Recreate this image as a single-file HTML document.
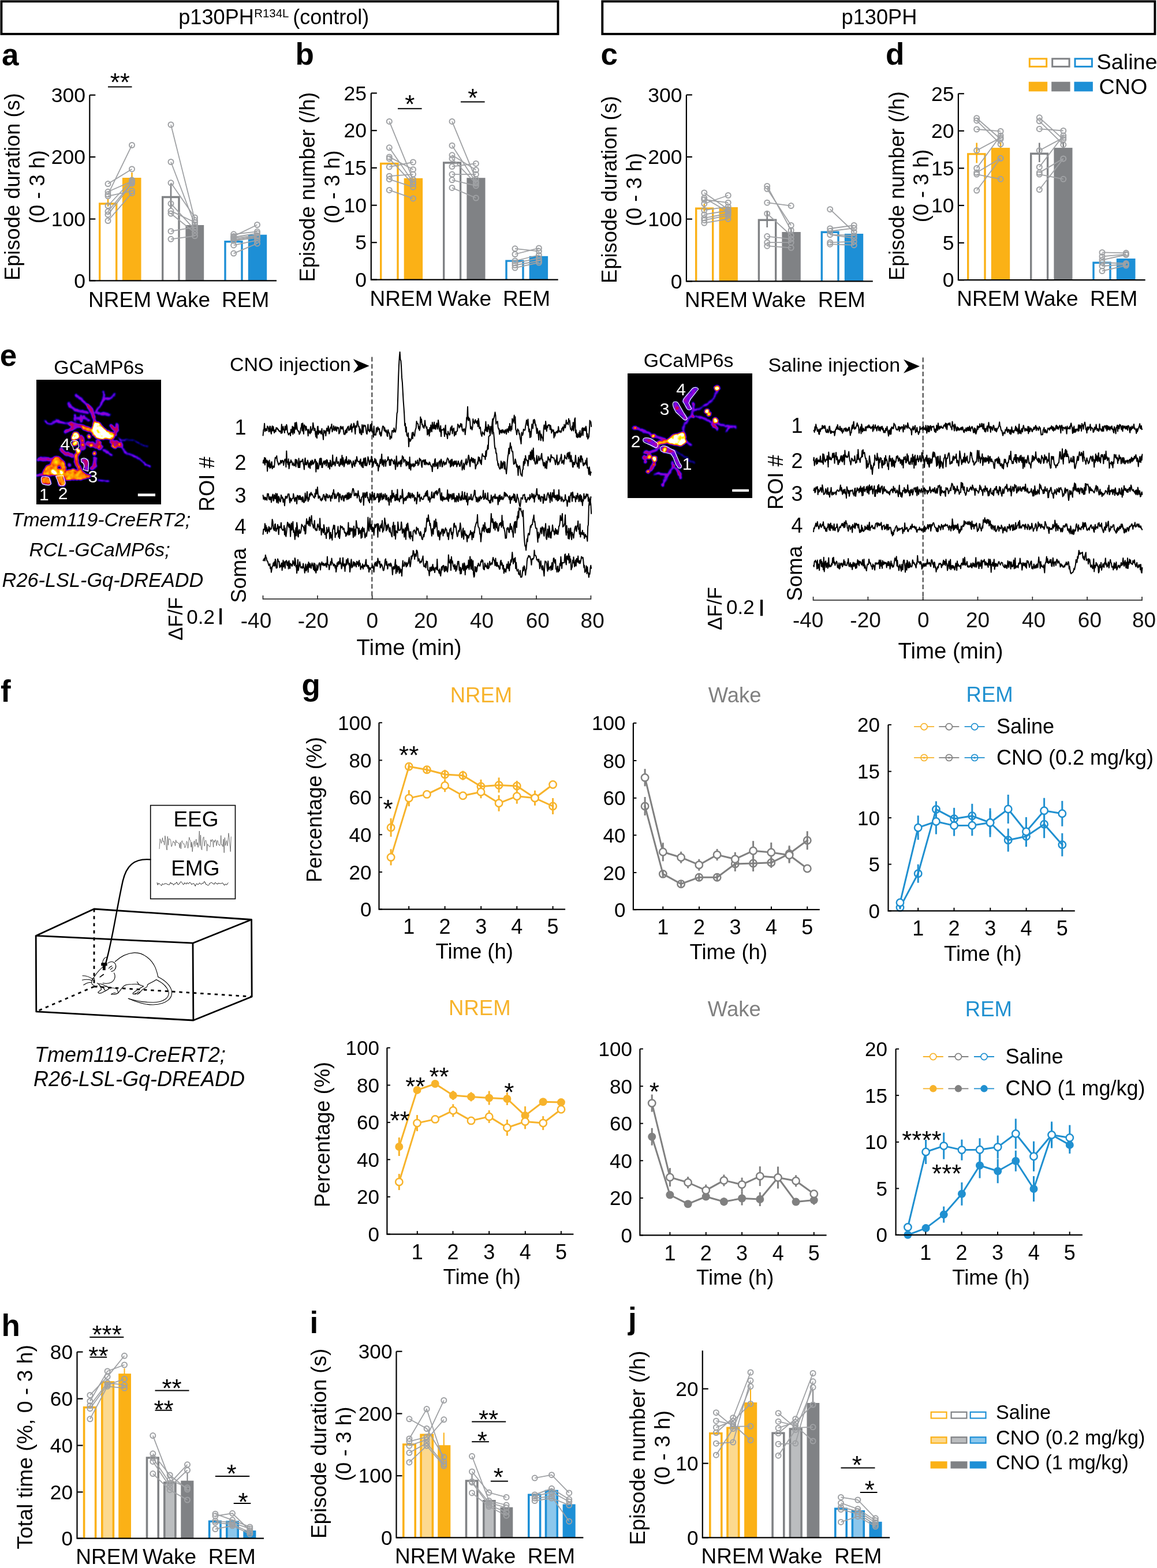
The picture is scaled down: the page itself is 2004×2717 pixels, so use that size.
<!DOCTYPE html>
<html><head><meta charset="utf-8"><title>Figure</title>
<style>html,body{margin:0;padding:0;background:#fff}svg{display:block}</style>
</head><body>
<svg width="2004" height="2717" viewBox="0 0 2004 2717" font-family="'Liberation Sans', Arial, Helvetica, sans-serif" font-size="35" fill="#000">
<rect width="2004" height="2717" fill="#fff"/>
<rect x="2.4" y="2.4" width="964.1" height="56.5" fill="#fff" stroke="#000" stroke-width="3.9"/>
<rect x="1043.3" y="2.4" width="957.1" height="56.5" fill="#fff" stroke="#000" stroke-width="3.9"/>
<text x="309.2" y="42" font-size="36.2">p130PH<tspan x="440.3" y="30.2" font-size="20.4">R134L</tspan><tspan x="497.3" y="42" font-size="36"> (control)</tspan></text>
<text x="1523" y="42" font-size="36.2" text-anchor="middle">p130PH</text>
<text x="3" y="112.6" font-size="53" font-weight="bold">a</text>
<path d="M172.7 486.3 V353 H201.7 V486.3" fill="#fff" stroke="#FBB116" stroke-width="3.4"/>
<rect x="211.9" y="308" width="32.6" height="178.3" fill="#FBB116"/>
<path d="M281.7 486.3 V341.5 H310 V486.3" fill="#fff" stroke="#808285" stroke-width="3.4"/>
<rect x="321.4" y="390" width="31.8" height="96.3" fill="#808285"/>
<path d="M390 486.3 V418.7 H419 V486.3" fill="#fff" stroke="#1D8FD6" stroke-width="3.4"/>
<rect x="429.8" y="406.7" width="32.4" height="79.6" fill="#1D8FD6"/>
<line x1="187" y1="344" x2="187" y2="358" stroke="#FBB116" stroke-width="2.6"/>
<line x1="228.5" y1="299" x2="228.5" y2="309" stroke="#FBB116" stroke-width="2.6"/>
<line x1="296" y1="318" x2="296" y2="362" stroke="#808285" stroke-width="2.6"/>
<line x1="337.5" y1="386" x2="337.5" y2="391" stroke="#808285" stroke-width="2.6"/>
<path d="M155.3 164.7 V486.3 H479" fill="none" stroke="#000" stroke-width="2.2"/>
<line x1="155.3" y1="164.7" x2="165.3" y2="164.7" stroke="#000" stroke-width="2.2"/>
<text x="148" y="176.9" font-size="35.5" text-anchor="end">300</text>
<line x1="155.3" y1="272" x2="165.3" y2="272" stroke="#000" stroke-width="2.2"/>
<text x="148" y="284.2" font-size="35.5" text-anchor="end">200</text>
<line x1="155.3" y1="379.5" x2="165.3" y2="379.5" stroke="#000" stroke-width="2.2"/>
<text x="148" y="391.7" font-size="35.5" text-anchor="end">100</text>
<line x1="155.3" y1="486.3" x2="165.3" y2="486.3" stroke="#000" stroke-width="2.2"/>
<text x="148" y="498.5" font-size="35.5" text-anchor="end">0</text>
<g fill="none" stroke="#9FA1A4" stroke-width="1.8"><path d="M187 318.6 L228.5 292.9"/><path d="M187 332.3 L228.5 314"/><path d="M187 336.8 L228.5 251.5"/><path d="M187 339.8 L228.5 330.8"/><path d="M187 356.5 L228.5 312"/><path d="M187 366.5 L228.5 316"/><path d="M187 371.9 L228.5 318"/><path d="M187 382.5 L228.5 334.7"/></g><g fill="none" stroke="#9FA1A4" stroke-width="2"><circle cx="187" cy="318.6" r="4.5"/><circle cx="187" cy="332.3" r="4.5"/><circle cx="187" cy="336.8" r="4.5"/><circle cx="187" cy="339.8" r="4.5"/><circle cx="187" cy="356.5" r="4.5"/><circle cx="187" cy="366.5" r="4.5"/><circle cx="187" cy="371.9" r="4.5"/><circle cx="187" cy="382.5" r="4.5"/><circle cx="228.5" cy="251.5" r="4.5"/><circle cx="228.5" cy="292.9" r="4.5"/><circle cx="228.5" cy="312" r="4.5"/><circle cx="228.5" cy="314" r="4.5"/><circle cx="228.5" cy="316" r="4.5"/><circle cx="228.5" cy="318" r="4.5"/><circle cx="228.5" cy="330.8" r="4.5"/><circle cx="228.5" cy="334.7" r="4.5"/></g>
<g fill="none" stroke="#9FA1A4" stroke-width="1.8"><path d="M296 216 L337.5 381.6"/><path d="M296 280.5 L337.5 389.2"/><path d="M296 316.8 L337.5 377"/><path d="M296 352.8 L337.5 398.2"/><path d="M296 365.6 L337.5 385.2"/><path d="M296 370 L337.5 403.4"/><path d="M296 400.7 L337.5 393.7"/><path d="M296 414.3 L337.5 408.8"/></g><g fill="none" stroke="#9FA1A4" stroke-width="2"><circle cx="296" cy="216" r="4.5"/><circle cx="296" cy="280.5" r="4.5"/><circle cx="296" cy="316.8" r="4.5"/><circle cx="296" cy="352.8" r="4.5"/><circle cx="296" cy="365.6" r="4.5"/><circle cx="296" cy="370" r="4.5"/><circle cx="296" cy="400.7" r="4.5"/><circle cx="296" cy="414.3" r="4.5"/><circle cx="337.5" cy="377" r="4.5"/><circle cx="337.5" cy="381.6" r="4.5"/><circle cx="337.5" cy="385.2" r="4.5"/><circle cx="337.5" cy="389.2" r="4.5"/><circle cx="337.5" cy="393.7" r="4.5"/><circle cx="337.5" cy="398.2" r="4.5"/><circle cx="337.5" cy="403.4" r="4.5"/><circle cx="337.5" cy="408.8" r="4.5"/></g>
<g fill="none" stroke="#9FA1A4" stroke-width="1.8"><path d="M404.7 405.8 L445.5 401.3"/><path d="M404.7 409.4 L445.5 389.5"/><path d="M404.7 411 L445.5 404.3"/><path d="M404.7 412.8 L445.5 407.9"/><path d="M404.7 415.5 L445.5 409.5"/><path d="M404.7 417 L445.5 411.9"/><path d="M404.7 424.9 L445.5 416.4"/><path d="M404.7 439.1 L445.5 421.9"/></g><g fill="none" stroke="#9FA1A4" stroke-width="2"><circle cx="404.7" cy="405.8" r="4.5"/><circle cx="404.7" cy="409.4" r="4.5"/><circle cx="404.7" cy="411" r="4.5"/><circle cx="404.7" cy="412.8" r="4.5"/><circle cx="404.7" cy="415.5" r="4.5"/><circle cx="404.7" cy="417" r="4.5"/><circle cx="404.7" cy="424.9" r="4.5"/><circle cx="404.7" cy="439.1" r="4.5"/><circle cx="445.5" cy="389.5" r="4.5"/><circle cx="445.5" cy="401.3" r="4.5"/><circle cx="445.5" cy="404.3" r="4.5"/><circle cx="445.5" cy="407.9" r="4.5"/><circle cx="445.5" cy="409.5" r="4.5"/><circle cx="445.5" cy="411.9" r="4.5"/><circle cx="445.5" cy="416.4" r="4.5"/><circle cx="445.5" cy="421.9" r="4.5"/></g>
<line x1="187" y1="150.4" x2="228.5" y2="150.4" stroke="#000" stroke-width="2"/>
<text x="207.8" y="158.4" font-size="44" text-anchor="middle">**</text>
<text x="207.6" y="532.3" font-size="37" text-anchor="middle">NREM</text>
<text x="317.5" y="532.3" font-size="37" text-anchor="middle">Wake</text>
<text x="425.2" y="532.3" font-size="37" text-anchor="middle">REM</text>
<text transform="translate(34,323.6) rotate(-90)" font-size="36.3" text-anchor="middle">Episode duration (s)</text>
<text transform="translate(77.3,323.6) rotate(-90)" font-size="36.3" text-anchor="middle">(0 - 3 h)</text>
<text x="511.5" y="111.5" font-size="53" font-weight="bold">b</text>
<path d="M659.7 484.6 V283.5 H689 V484.6" fill="#fff" stroke="#FBB116" stroke-width="3.4"/>
<rect x="699.7" y="308.8" width="32.4" height="175.8" fill="#FBB116"/>
<path d="M768.7 484.6 V282 H797.6 V484.6" fill="#fff" stroke="#808285" stroke-width="3.4"/>
<rect x="808.4" y="308.2" width="32.1" height="176.4" fill="#808285"/>
<path d="M877 484.6 V452.1 H906 V484.6" fill="#fff" stroke="#1D8FD6" stroke-width="3.4"/>
<rect x="916.7" y="443.8" width="32.4" height="40.8" fill="#1D8FD6"/>
<path d="M642.8 161.4 V484.6 H966.7" fill="none" stroke="#000" stroke-width="2.2"/>
<line x1="642.8" y1="161.4" x2="652.8" y2="161.4" stroke="#000" stroke-width="2.2"/>
<text x="635" y="173.6" font-size="35.5" text-anchor="end">25</text>
<line x1="642.8" y1="226.2" x2="652.8" y2="226.2" stroke="#000" stroke-width="2.2"/>
<text x="635" y="238.4" font-size="35.5" text-anchor="end">20</text>
<line x1="642.8" y1="290.9" x2="652.8" y2="290.9" stroke="#000" stroke-width="2.2"/>
<text x="635" y="303.1" font-size="35.5" text-anchor="end">15</text>
<line x1="642.8" y1="355.7" x2="652.8" y2="355.7" stroke="#000" stroke-width="2.2"/>
<text x="635" y="367.9" font-size="35.5" text-anchor="end">10</text>
<line x1="642.8" y1="420.2" x2="652.8" y2="420.2" stroke="#000" stroke-width="2.2"/>
<text x="635" y="432.4" font-size="35.5" text-anchor="end">5</text>
<line x1="642.8" y1="484.6" x2="652.8" y2="484.6" stroke="#000" stroke-width="2.2"/>
<text x="635" y="496.8" font-size="35.5" text-anchor="end">0</text>
<g fill="none" stroke="#9FA1A4" stroke-width="1.8"><path d="M674.3 210.4 L715.5 311.2"/><path d="M674.3 255.8 L715.5 315.8"/><path d="M674.3 271.9 L715.5 293.7"/><path d="M674.3 274.9 L715.5 318.8"/><path d="M674.3 289.1 L715.5 281"/><path d="M674.3 305.2 L715.5 302.1"/><path d="M674.3 310.6 L715.5 324.2"/><path d="M674.3 329.4 L715.5 343.9"/></g><g fill="none" stroke="#9FA1A4" stroke-width="2"><circle cx="674.3" cy="210.4" r="4.5"/><circle cx="674.3" cy="255.8" r="4.5"/><circle cx="674.3" cy="271.9" r="4.5"/><circle cx="674.3" cy="274.9" r="4.5"/><circle cx="674.3" cy="289.1" r="4.5"/><circle cx="674.3" cy="305.2" r="4.5"/><circle cx="674.3" cy="310.6" r="4.5"/><circle cx="674.3" cy="329.4" r="4.5"/><circle cx="715.5" cy="281" r="4.5"/><circle cx="715.5" cy="293.7" r="4.5"/><circle cx="715.5" cy="302.1" r="4.5"/><circle cx="715.5" cy="311.2" r="4.5"/><circle cx="715.5" cy="315.8" r="4.5"/><circle cx="715.5" cy="318.8" r="4.5"/><circle cx="715.5" cy="324.2" r="4.5"/><circle cx="715.5" cy="343.9" r="4.5"/></g>
<g fill="none" stroke="#9FA1A4" stroke-width="1.8"><path d="M783 210.4 L824.4 310.6"/><path d="M783 252.2 L824.4 315.8"/><path d="M783 268.8 L824.4 294.6"/><path d="M783 274.9 L824.4 318"/><path d="M783 288.5 L824.4 283.4"/><path d="M783 302.1 L824.4 302.1"/><path d="M783 311.8 L824.4 321.8"/><path d="M783 325.4 L824.4 343"/></g><g fill="none" stroke="#9FA1A4" stroke-width="2"><circle cx="783" cy="210.4" r="4.5"/><circle cx="783" cy="252.2" r="4.5"/><circle cx="783" cy="268.8" r="4.5"/><circle cx="783" cy="274.9" r="4.5"/><circle cx="783" cy="288.5" r="4.5"/><circle cx="783" cy="302.1" r="4.5"/><circle cx="783" cy="311.8" r="4.5"/><circle cx="783" cy="325.4" r="4.5"/><circle cx="824.4" cy="283.4" r="4.5"/><circle cx="824.4" cy="294.6" r="4.5"/><circle cx="824.4" cy="302.1" r="4.5"/><circle cx="824.4" cy="310.6" r="4.5"/><circle cx="824.4" cy="315.8" r="4.5"/><circle cx="824.4" cy="318" r="4.5"/><circle cx="824.4" cy="321.8" r="4.5"/><circle cx="824.4" cy="343" r="4.5"/></g>
<g fill="none" stroke="#9FA1A4" stroke-width="1.8"><path d="M892 430.8 L933.4 435.3"/><path d="M892 440.5 L933.4 429.9"/><path d="M892 452 L933.4 442"/><path d="M892 455.9 L933.4 447.4"/><path d="M892 459.5 L933.4 452"/><path d="M892 464.1 L933.4 455"/></g><g fill="none" stroke="#9FA1A4" stroke-width="2"><circle cx="892" cy="430.8" r="4.5"/><circle cx="892" cy="440.5" r="4.5"/><circle cx="892" cy="452" r="4.5"/><circle cx="892" cy="455.9" r="4.5"/><circle cx="892" cy="459.5" r="4.5"/><circle cx="892" cy="464.1" r="4.5"/><circle cx="933.4" cy="429.9" r="4.5"/><circle cx="933.4" cy="435.3" r="4.5"/><circle cx="933.4" cy="442" r="4.5"/><circle cx="933.4" cy="447.4" r="4.5"/><circle cx="933.4" cy="452" r="4.5"/><circle cx="933.4" cy="455" r="4.5"/></g>
<line x1="689" y1="188.3" x2="730.6" y2="188.3" stroke="#000" stroke-width="2"/>
<text x="709.8" y="196.4" font-size="44" text-anchor="middle">*</text>
<line x1="798" y1="176.5" x2="839.6" y2="176.5" stroke="#000" stroke-width="2"/>
<text x="818.8" y="184.9" font-size="44" text-anchor="middle">*</text>
<text x="695" y="530" font-size="37" text-anchor="middle">NREM</text>
<text x="804.5" y="530" font-size="37" text-anchor="middle">Wake</text>
<text x="912" y="530" font-size="37" text-anchor="middle">REM</text>
<text transform="translate(545.4,324) rotate(-90)" font-size="36.3" text-anchor="middle">Episode number (/h)</text>
<text transform="translate(588.4,324) rotate(-90)" font-size="36.3" text-anchor="middle">(0 - 3 h)</text>
<text x="1040.5" y="111.5" font-size="53" font-weight="bold">c</text>
<path d="M1205.7 487.4 V361.3 H1234.7 V487.4" fill="#fff" stroke="#FBB116" stroke-width="3.4"/>
<rect x="1245.5" y="359" width="32.4" height="128.4" fill="#FBB116"/>
<path d="M1314.4 487.4 V381.3 H1343.7 V487.4" fill="#fff" stroke="#808285" stroke-width="3.4"/>
<rect x="1354.4" y="402" width="32.4" height="85.4" fill="#808285"/>
<path d="M1423.3 487.4 V402.2 H1452 V487.4" fill="#fff" stroke="#1D8FD6" stroke-width="3.4"/>
<rect x="1462.8" y="405" width="32.4" height="82.4" fill="#1D8FD6"/>
<line x1="1219.8" y1="353" x2="1219.8" y2="366" stroke="#FBB116" stroke-width="2.6"/>
<line x1="1328.7" y1="366" x2="1328.7" y2="394" stroke="#808285" stroke-width="2.6"/>
<line x1="1370.2" y1="394" x2="1370.2" y2="410" stroke="#808285" stroke-width="2.6"/>
<path d="M1188.9 164.4 V487.4 H1511.8" fill="none" stroke="#000" stroke-width="2.2"/>
<line x1="1188.9" y1="164.4" x2="1198.9" y2="164.4" stroke="#000" stroke-width="2.2"/>
<text x="1181.5" y="176.6" font-size="35.5" text-anchor="end">300</text>
<line x1="1188.9" y1="271.9" x2="1198.9" y2="271.9" stroke="#000" stroke-width="2.2"/>
<text x="1181.5" y="284.1" font-size="35.5" text-anchor="end">200</text>
<line x1="1188.9" y1="379.6" x2="1198.9" y2="379.6" stroke="#000" stroke-width="2.2"/>
<text x="1181.5" y="391.8" font-size="35.5" text-anchor="end">100</text>
<line x1="1188.9" y1="487.4" x2="1198.9" y2="487.4" stroke="#000" stroke-width="2.2"/>
<text x="1181.5" y="499.6" font-size="35.5" text-anchor="end">0</text>
<g fill="none" stroke="#9FA1A4" stroke-width="1.8"><path d="M1219.8 333.9 L1261.2 362.7"/><path d="M1219.8 343 L1261.2 367.2"/><path d="M1219.8 346 L1261.2 351.2"/><path d="M1219.8 353 L1261.2 338.5"/><path d="M1219.8 364.2 L1261.2 358.1"/><path d="M1219.8 371.7 L1261.2 365"/><path d="M1219.8 377.8 L1261.2 370"/><path d="M1219.8 381.4 L1261.2 373.3"/><path d="M1219.8 386.3 L1261.2 379.3"/></g><g fill="none" stroke="#9FA1A4" stroke-width="2"><circle cx="1219.8" cy="333.9" r="4.5"/><circle cx="1219.8" cy="343" r="4.5"/><circle cx="1219.8" cy="346" r="4.5"/><circle cx="1219.8" cy="353" r="4.5"/><circle cx="1219.8" cy="364.2" r="4.5"/><circle cx="1219.8" cy="371.7" r="4.5"/><circle cx="1219.8" cy="377.8" r="4.5"/><circle cx="1219.8" cy="381.4" r="4.5"/><circle cx="1219.8" cy="386.3" r="4.5"/><circle cx="1261.2" cy="338.5" r="4.5"/><circle cx="1261.2" cy="351.2" r="4.5"/><circle cx="1261.2" cy="358.1" r="4.5"/><circle cx="1261.2" cy="362.7" r="4.5"/><circle cx="1261.2" cy="365" r="4.5"/><circle cx="1261.2" cy="367.2" r="4.5"/><circle cx="1261.2" cy="370" r="4.5"/><circle cx="1261.2" cy="373.3" r="4.5"/><circle cx="1261.2" cy="379.3" r="4.5"/></g>
<g fill="none" stroke="#9FA1A4" stroke-width="1.8"><path d="M1328.7 322.4 L1370.2 399"/><path d="M1328.7 327.3 L1370.2 390.5"/><path d="M1328.7 351.2 L1370.2 356.6"/><path d="M1328.7 370.2 L1370.2 408"/><path d="M1328.7 409.6 L1370.2 414.1"/><path d="M1328.7 420.2 L1370.2 420.2"/><path d="M1328.7 426.2 L1370.2 429.3"/></g><g fill="none" stroke="#9FA1A4" stroke-width="2"><circle cx="1328.7" cy="322.4" r="4.5"/><circle cx="1328.7" cy="327.3" r="4.5"/><circle cx="1328.7" cy="351.2" r="4.5"/><circle cx="1328.7" cy="370.2" r="4.5"/><circle cx="1328.7" cy="409.6" r="4.5"/><circle cx="1328.7" cy="420.2" r="4.5"/><circle cx="1328.7" cy="426.2" r="4.5"/><circle cx="1370.2" cy="356.6" r="4.5"/><circle cx="1370.2" cy="390.5" r="4.5"/><circle cx="1370.2" cy="399" r="4.5"/><circle cx="1370.2" cy="408" r="4.5"/><circle cx="1370.2" cy="414.1" r="4.5"/><circle cx="1370.2" cy="420.2" r="4.5"/><circle cx="1370.2" cy="429.3" r="4.5"/></g>
<g fill="none" stroke="#9FA1A4" stroke-width="1.8"><path d="M1437.7 362.7 L1479.2 402"/><path d="M1437.7 396 L1479.2 390.5"/><path d="M1437.7 400.5 L1479.2 395.4"/><path d="M1437.7 406.6 L1479.2 408"/><path d="M1437.7 420.2 L1479.2 418.7"/><path d="M1437.7 423.2 L1479.2 424.7"/><path d="M1437.7 406.6 L1479.2 412.6"/></g><g fill="none" stroke="#9FA1A4" stroke-width="2"><circle cx="1437.7" cy="362.7" r="4.5"/><circle cx="1437.7" cy="396" r="4.5"/><circle cx="1437.7" cy="400.5" r="4.5"/><circle cx="1437.7" cy="406.6" r="4.5"/><circle cx="1437.7" cy="420.2" r="4.5"/><circle cx="1437.7" cy="423.2" r="4.5"/><circle cx="1479.2" cy="390.5" r="4.5"/><circle cx="1479.2" cy="395.4" r="4.5"/><circle cx="1479.2" cy="402" r="4.5"/><circle cx="1479.2" cy="408" r="4.5"/><circle cx="1479.2" cy="412.6" r="4.5"/><circle cx="1479.2" cy="418.7" r="4.5"/><circle cx="1479.2" cy="424.7" r="4.5"/></g>
<text x="1240.6" y="532.2" font-size="37" text-anchor="middle">NREM</text>
<text x="1349.5" y="532.2" font-size="37" text-anchor="middle">Wake</text>
<text x="1457.8" y="532.2" font-size="37" text-anchor="middle">REM</text>
<text transform="translate(1067.8,328.5) rotate(-90)" font-size="36.3" text-anchor="middle">Episode duration (s)</text>
<text transform="translate(1110.8,328.5) rotate(-90)" font-size="36.3" text-anchor="middle">(0 - 3 h)</text>
<text x="1534" y="112" font-size="53" font-weight="bold">d</text>
<path d="M1676.7 485.2 V266.9 H1706 V485.2" fill="#fff" stroke="#FBB116" stroke-width="3.4"/>
<rect x="1716.8" y="256.1" width="32.4" height="229.1" fill="#FBB116"/>
<path d="M1785.7 485.2 V266.3 H1814.6 V485.2" fill="#fff" stroke="#808285" stroke-width="3.4"/>
<rect x="1825.4" y="256.1" width="32.1" height="229.1" fill="#808285"/>
<path d="M1894 485.2 V455.2 H1923 V485.2" fill="#fff" stroke="#1D8FD6" stroke-width="3.4"/>
<rect x="1933.8" y="448" width="32.7" height="37.2" fill="#1D8FD6"/>
<line x1="1691.7" y1="247.5" x2="1691.7" y2="282.5" stroke="#FBB116" stroke-width="2.6"/>
<line x1="1733.1" y1="247" x2="1733.1" y2="257" stroke="#FBB116" stroke-width="2.6"/>
<line x1="1800.3" y1="247.5" x2="1800.3" y2="281" stroke="#808285" stroke-width="2.6"/>
<line x1="1841.8" y1="247" x2="1841.8" y2="257" stroke="#808285" stroke-width="2.6"/>
<path d="M1659.9 162.3 V485.2 H1983.7" fill="none" stroke="#000" stroke-width="2.2"/>
<line x1="1659.9" y1="162.3" x2="1669.9" y2="162.3" stroke="#000" stroke-width="2.2"/>
<text x="1652.5" y="174.5" font-size="35.5" text-anchor="end">25</text>
<line x1="1659.9" y1="226.8" x2="1669.9" y2="226.8" stroke="#000" stroke-width="2.2"/>
<text x="1652.5" y="239" font-size="35.5" text-anchor="end">20</text>
<line x1="1659.9" y1="291.5" x2="1669.9" y2="291.5" stroke="#000" stroke-width="2.2"/>
<text x="1652.5" y="303.7" font-size="35.5" text-anchor="end">15</text>
<line x1="1659.9" y1="356" x2="1669.9" y2="356" stroke="#000" stroke-width="2.2"/>
<text x="1652.5" y="368.2" font-size="35.5" text-anchor="end">10</text>
<line x1="1659.9" y1="420.8" x2="1669.9" y2="420.8" stroke="#000" stroke-width="2.2"/>
<text x="1652.5" y="433" font-size="35.5" text-anchor="end">5</text>
<line x1="1659.9" y1="485.2" x2="1669.9" y2="485.2" stroke="#000" stroke-width="2.2"/>
<text x="1652.5" y="497.4" font-size="35.5" text-anchor="end">0</text>
<g fill="none" stroke="#9FA1A4" stroke-width="1.8"><path d="M1691.7 204.7 L1733.1 241"/><path d="M1691.7 208.9 L1733.1 249.8"/><path d="M1691.7 224 L1733.1 227.4"/><path d="M1691.7 260.7 L1733.1 238.6"/><path d="M1691.7 291.5 L1733.1 234.9"/><path d="M1691.7 299.1 L1733.1 274.3"/><path d="M1691.7 302.1 L1733.1 310.3"/><path d="M1691.7 330 L1733.1 274.3"/></g><g fill="none" stroke="#9FA1A4" stroke-width="2"><circle cx="1691.7" cy="204.7" r="4.5"/><circle cx="1691.7" cy="208.9" r="4.5"/><circle cx="1691.7" cy="224" r="4.5"/><circle cx="1691.7" cy="260.7" r="4.5"/><circle cx="1691.7" cy="291.5" r="4.5"/><circle cx="1691.7" cy="299.1" r="4.5"/><circle cx="1691.7" cy="302.1" r="4.5"/><circle cx="1691.7" cy="330" r="4.5"/><circle cx="1733.1" cy="227.4" r="4.5"/><circle cx="1733.1" cy="234.9" r="4.5"/><circle cx="1733.1" cy="238.6" r="4.5"/><circle cx="1733.1" cy="241" r="4.5"/><circle cx="1733.1" cy="249.8" r="4.5"/><circle cx="1733.1" cy="274.3" r="4.5"/><circle cx="1733.1" cy="274.3" r="4.5"/><circle cx="1733.1" cy="310.3" r="4.5"/></g>
<g fill="none" stroke="#9FA1A4" stroke-width="1.8"><path d="M1800.3 203.8 L1841.8 241.6"/><path d="M1800.3 209.8 L1841.8 250.7"/><path d="M1800.3 223.4 L1841.8 226.5"/><path d="M1800.3 260.7 L1841.8 238.6"/><path d="M1800.3 289.4 L1841.8 234.9"/><path d="M1800.3 299.1 L1841.8 274.9"/><path d="M1800.3 302.1 L1841.8 310.3"/><path d="M1800.3 328.5 L1841.8 274.9"/></g><g fill="none" stroke="#9FA1A4" stroke-width="2"><circle cx="1800.3" cy="203.8" r="4.5"/><circle cx="1800.3" cy="209.8" r="4.5"/><circle cx="1800.3" cy="223.4" r="4.5"/><circle cx="1800.3" cy="260.7" r="4.5"/><circle cx="1800.3" cy="289.4" r="4.5"/><circle cx="1800.3" cy="299.1" r="4.5"/><circle cx="1800.3" cy="302.1" r="4.5"/><circle cx="1800.3" cy="328.5" r="4.5"/><circle cx="1841.8" cy="226.5" r="4.5"/><circle cx="1841.8" cy="234.9" r="4.5"/><circle cx="1841.8" cy="238.6" r="4.5"/><circle cx="1841.8" cy="241.6" r="4.5"/><circle cx="1841.8" cy="250.7" r="4.5"/><circle cx="1841.8" cy="274.9" r="4.5"/><circle cx="1841.8" cy="274.9" r="4.5"/><circle cx="1841.8" cy="310.3" r="4.5"/></g>
<g fill="none" stroke="#9FA1A4" stroke-width="1.8"><path d="M1909 437.4 L1950.4 438.3"/><path d="M1909 444.4 L1950.4 440.7"/><path d="M1909 450.4 L1950.4 441.5"/><path d="M1909 455 L1950.4 456.5"/><path d="M1909 461 L1950.4 458"/><path d="M1909 469.5 L1950.4 460.1"/></g><g fill="none" stroke="#9FA1A4" stroke-width="2"><circle cx="1909" cy="437.4" r="4.5"/><circle cx="1909" cy="444.4" r="4.5"/><circle cx="1909" cy="450.4" r="4.5"/><circle cx="1909" cy="455" r="4.5"/><circle cx="1909" cy="461" r="4.5"/><circle cx="1909" cy="469.5" r="4.5"/><circle cx="1950.4" cy="438.3" r="4.5"/><circle cx="1950.4" cy="440.7" r="4.5"/><circle cx="1950.4" cy="441.5" r="4.5"/><circle cx="1950.4" cy="456.5" r="4.5"/><circle cx="1950.4" cy="458" r="4.5"/><circle cx="1950.4" cy="460.1" r="4.5"/></g>
<text x="1711.8" y="530" font-size="37" text-anchor="middle">NREM</text>
<text x="1821" y="530" font-size="37" text-anchor="middle">Wake</text>
<text x="1929.2" y="530" font-size="37" text-anchor="middle">REM</text>
<text transform="translate(1566,322) rotate(-90)" font-size="36.2" text-anchor="middle">Episode number (/h)</text>
<text transform="translate(1608.4,322) rotate(-90)" font-size="36.2" text-anchor="middle">(0 - 3 h)</text>
<rect x="1783.3" y="101.8" width="29.4" height="13.6" fill="#fff" stroke="#FBB116" stroke-width="3"/>
<rect x="1781.8" y="141.7" width="32.4" height="16.7" fill="#FBB116"/>
<rect x="1822.7" y="101.8" width="29.4" height="13.6" fill="#fff" stroke="#808285" stroke-width="3"/>
<rect x="1821.2" y="141.7" width="32.4" height="16.7" fill="#808285"/>
<rect x="1862" y="101.8" width="29.4" height="13.6" fill="#fff" stroke="#1D8FD6" stroke-width="3"/>
<rect x="1860.5" y="141.7" width="32.4" height="16.7" fill="#1D8FD6"/>
<text x="1899.5" y="120" font-size="37.8">Saline</text>
<text x="1903.5" y="162.6" font-size="37.8">CNO</text>
<text x="-0.3" y="633.6" font-size="53" font-weight="bold">e</text>
<text x="171.3" y="647.7" font-size="33.8" text-anchor="middle">GCaMP6s</text>
<defs><filter id="fireL" filterUnits="userSpaceOnUse" x="63.4" y="658.5" width="215" height="215" color-interpolation-filters="sRGB"><feTurbulence type="fractalNoise" baseFrequency="0.11" numOctaves="2" seed="3" result="n"/><feDisplacementMap in="SourceGraphic" in2="n" scale="5" xChannelSelector="R" yChannelSelector="G" result="d"/><feGaussianBlur in="d" stdDeviation="0.9" result="b"/><feColorMatrix in="n" type="matrix" values="0 0 1 0 0 0 0 1 0 0 0 0 1 0 0 0 0 0 0 1" result="g"/><feComposite in="b" in2="g" operator="arithmetic" k1="0.9" k2="0.62" k3="0" k4="0" result="m"/><feComponentTransfer in="m"><feFuncR type="table" tableValues="0 0 0.004 0.098 0.192 0.286 0.384 0.478 0.573 0.635 0.678 0.722 0.765 0.812 0.851 0.898 0.941 0.988 1 1 1 1 1 1 1 1 1 1 1 1 1 1"/><feFuncG type="table" tableValues="0 0 0 0 0 0 0 0 0 0 0 0 0 0.055 0.137 0.224 0.31 0.396 0.459 0.522 0.576 0.631 0.686 0.745 0.804 0.859 0.918 0.973 1 1 1 1"/><feFuncB type="table" tableValues="0 0.239 0.376 0.51 0.647 0.753 0.863 0.89 0.824 0.71 0.592 0.478 0.365 0.251 0.137 0.02 0 0 0 0 0 0 0 0 0 0 0 0.137 0.384 0.627 0.875 1"/><feFuncA type="table" tableValues="1 1"/></feComponentTransfer></filter></defs>
<g filter="url(#fireL)"><rect x="58.4" y="653.5" width="225" height="225" fill="#000"/>
<g transform="translate(55,650) scale(0.13922)" fill="none" stroke-linecap="round" stroke-linejoin="round">
<path d="M550,245 L600,290 L650,330 L700,380" stroke="#3c3c3c" stroke-width="29.7"/>
<path d="M700,380 L740,440 L770,520 L790,590" stroke="#575757" stroke-width="37.8"/>
<path d="M890,215 L900,290 L860,370 L810,430 L790,470" stroke="#3c3c3c" stroke-width="24.3"/>
<path d="M900,290 L990,290 L1030,235" stroke="#3c3c3c" stroke-width="24.3"/>
<path d="M460,355 L490,400 L540,430 L620,455 L700,465" stroke="#3c3c3c" stroke-width="32.4"/>
<path d="M800,470 L880,480 L960,495" stroke="#3c3c3c" stroke-width="32.4"/>
<path d="M160,575 L200,600 L250,605 L310,560 L330,580 L400,595 L480,610" stroke="#3c3c3c" stroke-width="24.3"/>
<path d="M480,610 L560,625 L640,640 L720,670" stroke="#575757" stroke-width="40.5"/>
<path d="M540,500 L540,565 M610,500 L612,570 M560,540 L650,528 M650,515 L700,560" stroke="#3c3c3c" stroke-width="35.1"/>
<path d="M420,705 L470,690 L520,650 L570,632" stroke="#575757" stroke-width="45.9"/>
<path d="M1062,612 L1060,680 L1040,740 M985,630 L1050,690" stroke="#575757" stroke-width="35.1"/>
<path d="M1080,780 L1120,808 L1250,808 L1330,840 L1440,890" stroke="#2b2b2b" stroke-width="12.2"/>
<path d="M1100,800 L1130,900 L1140,930 L1180,970 L1260,1000 L1340,1040 L1400,1090 L1470,1145" stroke="#3c3c3c" stroke-width="21.6"/>
<path d="M900,940 L950,960 L1000,990" stroke="#3c3c3c" stroke-width="27"/>
<path d="M370,935 L420,975 L500,1000" stroke="#575757" stroke-width="40.5"/>
<path d="M85,1052 L150,1040 L230,1050 L300,1030" stroke="#4a4a4a" stroke-width="43.2"/>
<path d="M60,1245 L100,1240 L160,1225" stroke="#575757" stroke-width="27"/>
<path d="M782,1040 L790,1120 L745,1158" stroke="#4c4c4c" stroke-width="45.9"/>
<path d="M830,1300 L900,1310 L950,1320" stroke="#3c3c3c" stroke-width="18.9"/>
<path d="M620,780 L640,900 M700,850 L860,900 M1000,830 L1100,870 M820,830 L840,900" stroke="#575757" stroke-width="59.4"/>
<path d="M575,950 L550,1020 L560,1100 L600,1170" stroke="#808080" stroke-width="45.9"/>
<path d="M615,1045 C650,1020 700,1035 708,1100 L702,1195 L640,1175 C662,1125 652,1092 618,1082 Z" fill="#4c4c4c"/>
<path d="M640,655 L760,700" stroke="#8f8f8f" stroke-width="45.9"/>
<path d="M152,1176 L176,1133 L237,1085 L298,1024 L340,1012 L377,1048 L413,1109 L432,1182 L462,1182 L523,1164 L584,1182 L645,1206 L706,1231 L742,1255 L706,1280 L645,1292 L523,1310 L426,1304 L401,1255 L310,1249 L218,1255 L158,1231 L139,1206 Z" fill="#999999"/>
<circle cx="340" cy="1152" r="20" fill="#000000"/>
<circle cx="212" cy="1109" r="16" fill="#000000"/>
<circle cx="455" cy="1140" r="22" fill="#000000"/>
<circle cx="470" cy="1120" r="20" fill="#4c4c4c"/>
<circle cx="420" cy="1200" r="14" fill="#404040"/>
<circle cx="250" cy="1160" r="18" fill="#737373"/>
<circle cx="180" cy="1170" r="16" fill="#bfbfbf"/>
<circle cx="330" cy="1080" r="22" fill="#b2b2b2"/>
<circle cx="560" cy="1240" r="30" fill="#b8b8b8"/>
<circle cx="460" cy="1250" r="26" fill="#b2b2b2"/>
<path d="M125,1270 C150,1255 200,1265 215,1275 L240,1350 C230,1378 180,1372 135,1355 C115,1330 115,1290 125,1270 Z" fill="#858585"/>
<path d="M300,1258 L392,1250 L416,1340 C410,1382 360,1388 340,1360 Z" fill="#9e9e9e"/>
<circle cx="274" cy="1212" r="34" fill="#ffffff"/>
<circle cx="371" cy="1207" r="26" fill="#e6e6e6"/>
<circle cx="630" cy="820" r="14" fill="#999999"/>
<circle cx="635" cy="872" r="12" fill="#999999"/>
<circle cx="740" cy="880" r="20" fill="#a8a8a8"/>
<circle cx="840" cy="892" r="18" fill="#9e9e9e"/>
<circle cx="842" cy="840" r="13" fill="#949494"/>
<circle cx="780" cy="970" r="20" fill="#999999"/>
<circle cx="1092" cy="852" r="18" fill="#a8a8a8"/>
<circle cx="1002" cy="862" r="12" fill="#8f8f8f"/>
<path d="M1005,880 C1020,905 1050,905 1065,885" stroke="#999999" stroke-width="21.6"/>
<circle cx="710" cy="765" r="22" fill="#cccccc"/>
<path d="M770,582 L835,585 L880,640 L955,696 L1018,726 L1030,765 L985,800 L900,800 L815,780 L762,745 L745,690 L757,628 Z" fill="#b2b2b2"/>
<path d="M780,595 L828,598 L868,648 L948,706 L1005,735 L1012,762 L980,785 L900,786 L820,766 L774,738 L760,690 L770,632 Z" fill="#ffffff"/>
<circle cx="550" cy="750" r="40" fill="#ffffff"/>
<circle cx="520" cy="782" r="25" fill="#ffffff"/>
<circle cx="535" cy="852" r="28" fill="#ffffff"/>
<circle cx="580" cy="940" r="28" fill="#f5f5f5"/>
<circle cx="992" cy="745" r="24" fill="#f5f5f5"/>
</g></g>
<g transform="translate(55,650) scale(0.13922)" fill="none" stroke="#fff" stroke-width="8.5" stroke-linejoin="round">
<path d="M125,1270 C150,1255 200,1265 215,1275 L240,1350 C230,1378 180,1372 135,1355 C115,1330 115,1290 125,1270 Z"/>
<path d="M300,1258 L392,1250 L416,1340 C410,1382 360,1388 340,1360 Z"/>
<path d="M615,1045 C650,1020 700,1035 708,1100 L702,1195 L640,1175 C662,1125 652,1092 618,1082 Z"/>
<path d="M490,825 C520,808 560,813 576,830 L586,890 C570,922 540,938 520,926 L510,890 C490,870 480,845 490,825 Z"/>
</g>
<text x="76.4" y="866.5" font-size="30" text-anchor="middle" fill="#fff">1</text>
<text x="109" y="865" font-size="30" text-anchor="middle" fill="#fff">2</text>
<text x="160.8" y="836" font-size="30" text-anchor="middle" fill="#fff">3</text>
<text x="112.8" y="779.5" font-size="30" text-anchor="middle" fill="#fff">4</text>
<rect x="238.8" y="855.3" width="30.2" height="4.6" fill="#fff"/>
<text x="175" y="912" font-size="33.8" text-anchor="middle" font-style="italic">Tmem119-CreERT2;</text>
<text x="172.5" y="964" font-size="33.8" text-anchor="middle" font-style="italic">RCL-GCaMP6s;</text>
<text x="178" y="1016.6" font-size="34.3" text-anchor="middle" font-style="italic">R26-LSL-Gq-DREADD</text>
<text transform="translate(370.5,838.8) rotate(-90)" font-size="36.3" text-anchor="middle">ROI #</text>
<text transform="translate(426,997.3) rotate(-90)" font-size="36.4" text-anchor="middle">Soma</text>
<text x="416.5" y="752.8" font-size="36" text-anchor="middle">1</text>
<text x="416.5" y="813.8" font-size="36" text-anchor="middle">2</text>
<text x="416.5" y="871" font-size="36" text-anchor="middle">3</text>
<text x="416.5" y="925.3" font-size="36" text-anchor="middle">4</text>
<text transform="translate(315.6,1072.3) rotate(-90)" font-size="34.5" text-anchor="middle">ΔF/F</text>
<text x="347.7" y="1081" text-anchor="middle">0.2</text>
<rect x="380.1" y="1054.1" width="4" height="28" fill="#000"/>
<text x="398" y="642.7" font-size="34">CNO injection</text>
<path d="M611.7 622 L639.7 634 L611.7 646 L620.1 634 Z" fill="#000" stroke="none" stroke-width="0"/>
<line x1="644.3" y1="618.5" x2="644.3" y2="1037.8" stroke="#444" stroke-width="2.1" stroke-dasharray="8 4.3"/>
<path d="M455.5 755.3 456.4 744.9 457.2 744.3 458.1 733.8 458.9 747.6 459.8 745.2 460.6 742.9 461.4 746.1 462.3 746.2 463.1 738.4 464 739.2 464.9 741.5 465.7 748 466.6 747.8 467.4 738.4 468.2 739.1 469.1 748.2 469.9 751.9 470.8 742.7 471.6 738.2 472.5 746.6 473.4 739.3 474.2 745 475.1 750.1 475.9 746.6 476.8 744.5 477.6 748 478.4 740.9 479.3 743.3 480.1 741.6 481 744.3 481.9 743.9 482.7 746.5 483.6 746 484.4 748.2 485.2 747.1 486.1 746.9 486.9 751.1 487.8 735.3 488.6 750.1 489.5 743.2 490.4 739 491.2 744.7 492.1 745.7 492.9 750 493.8 738.6 494.6 745.1 495.4 744.6 496.3 735.8 497.1 739 498 749 498.9 750.6 499.7 753.5 500.6 751.5 501.4 751.4 502.2 749.9 503.1 755 503.9 744 504.8 747.2 505.6 749.5 506.5 738.7 507.4 752.4 508.2 740.2 509.1 741.7 509.9 750.4 510.8 732.8 511.6 733.1 512.5 744 513.3 731.7 514.1 737.2 515 744.5 515.9 746 516.7 747.6 517.5 747 518.4 752.6 519.2 751.2 520.1 748.9 521 741.7 521.8 740.8 522.6 733.9 523.5 746.4 524.4 733.2 525.2 747.2 526 751.9 526.9 736.2 527.8 737.5 528.6 738.5 529.5 745.9 530.3 738.7 531.1 744.3 532 744.2 532.9 746.8 533.7 755.3 534.5 743.9 535.4 749.2 536.2 749.7 537.1 751.5 538 739.2 538.8 749.6 539.6 744.5 540.5 745.7 541.4 741.2 542.2 732.7 543 738.4 543.9 746.1 544.8 742.3 545.6 742.7 546.5 753.4 547.3 757.2 548.1 747.5 549 759.1 549.9 739.5 550.7 738.7 551.5 752.6 552.4 745.9 553.2 749.8 554.1 749.5 555 746.8 555.8 751.7 556.6 750.2 557.5 742.8 558.4 752.9 559.2 753.5 560 761.7 560.9 745.6 561.8 750.2 562.6 746.7 563.5 747.1 564.3 755.2 565.1 747.5 566 741.9 566.9 744.3 567.7 747.2 568.5 738.3 569.4 742.3 570.2 751.6 571.1 747.8 572 742.7 572.8 740.1 573.6 741.6 574.5 734.9 575.4 748.3 576.2 745.7 577 745.2 577.9 737.9 578.8 740.5 579.6 746.1 580.5 743.9 581.3 739.3 582.1 744.4 583 747.2 583.9 740 584.7 742.1 585.5 741.5 586.4 741.1 587.2 751.6 588.1 749.8 589 747.9 589.8 739.1 590.6 738.8 591.5 743 592.4 740.6 593.2 743.2 594 739.3 594.9 746.5 595.8 752.6 596.6 751.9 597.5 752.9 598.3 745.7 599.1 750.4 600 743.6 600.9 749.5 601.7 741.5 602.5 739.8 603.4 738.6 604.2 745.9 605.1 744.4 606 744.5 606.8 737.7 607.6 743.7 608.5 734.6 609.4 748.6 610.2 739.8 611 741.4 611.9 740.3 612.8 733.6 613.6 736 614.5 744 615.3 752 616.1 737.8 617 738.3 617.9 740 618.7 730.3 619.5 729.6 620.4 736.6 621.2 739.5 622.1 739.2 623 750.5 623.8 742.9 624.6 746.3 625.5 752.8 626.4 753.2 627.2 736.1 628 742 628.9 749.6 629.8 736.5 630.6 739 631.5 737.2 632.3 737.1 633.1 738.7 634 745.7 634.9 751.1 635.7 752.2 636.5 744.8 637.4 735.4 638.2 745.8 639.1 744.6 640 748.3 640.8 745.5 641.6 736.1 642.5 746.7 643.4 734 644.2 741.5 645 747.7 645.9 749.4 646.8 757.4 647.6 738.5 648.5 752.7 649.3 754 650.1 752.5 651 753.7 651.9 741.3 652.7 748.5 653.5 747.5 654.4 739.9 655.2 741.8 656.1 744.6 657 742.9 657.8 752.5 658.6 749 659.5 755.6 660.4 754.9 661.2 747.8 662 744.2 662.9 738.6 663.8 738.6 664.6 739.2 665.5 746.2 666.3 741.2 667.1 747.5 668 748.8 668.9 745.3 669.7 746.7 670.5 755 671.4 756.1 672.2 744.7 673.1 749.1 674 750.1 674.8 751.9 675.6 761.1 676.5 755.9 677.4 757.6 678.2 759 679 746.3 679.9 746.3 680.8 746 681.6 749.2 682.5 741.7 683.3 744.9 684.1 748.2 685 748.6 685.9 742.9 686.7 730.9 687.5 716.5 688.4 713.4 689.2 687 690.1 653.9 691 632.9 691.8 618.6 692.6 609.9 693.5 623.2 694.4 625.2 695.2 637.6 696 654.4 696.9 662.9 697.8 679.9 698.6 694.1 699.5 706.5 700.3 718.9 701.1 737.4 702 733.6 702.9 748.3 703.7 740 704.5 753.3 705.4 755.7 706.2 756.2 707.1 750.2 708 773.9 708.8 760.1 709.6 760.4 710.5 764.8 711.4 762.6 712.2 761.8 713 757.6 713.9 749.8 714.8 759.9 715.6 748.9 716.5 753.2 717.3 753.7 718.1 755.7 719 746.8 719.8 743.8 720.7 741.3 721.5 730 722.4 733.8 723.2 733.5 724.1 734.9 725 742.8 725.8 739.2 726.6 745.8 727.5 741.8 728.3 722.4 729.2 731.8 730 726.3 730.9 735.8 731.8 735.3 732.6 740.1 733.5 738 734.3 742.1 735.1 738.6 736 728.5 736.8 736.3 737.7 739 738.5 741.9 739.4 739.8 740.2 753.5 741.1 744.4 742 752.1 742.8 744.4 743.6 755.5 744.5 741 745.3 748.8 746.2 736.4 747 743.1 747.9 747.9 748.8 731.8 749.6 736.9 750.5 743.2 751.3 739.8 752.1 731.6 753 742.9 753.8 736.7 754.7 743.8 755.5 740.3 756.4 733.3 757.2 735.7 758.1 743.4 759 728 759.8 733.3 760.6 741.1 761.5 746.3 762.3 748.1 763.2 737.8 764 756.3 764.9 744.4 765.8 744.9 766.6 745 767.5 744.7 768.3 742.3 769.1 746.8 770 756.1 770.8 742.4 771.7 736.8 772.5 752.2 773.4 751.8 774.2 754.4 775.1 760 776 747.4 776.8 751 777.6 751.2 778.5 753.8 779.3 752.4 780.2 743.1 781 740.3 781.9 745.4 782.8 737.9 783.6 751.5 784.5 743.5 785.3 743.9 786.1 741.9 787 755.4 787.8 750.6 788.7 748.2 789.5 753.3 790.4 747.7 791.2 747.6 792.1 746.8 793 735 793.8 737.3 794.6 737.1 795.5 741.4 796.3 739.6 797.2 737.1 798 733.9 798.9 739.7 799.8 734.9 800.6 745.6 801.5 744.2 802.3 747.9 803.1 743.5 804 743.3 804.8 743.4 805.7 753.1 806.5 743.6 807.4 738.2 808.2 723.4 809.1 726 810 704.7 810.8 728.7 811.6 722.9 812.5 728.2 813.3 725.3 814.2 731.4 815 742.9 815.9 739.3 816.8 741.8 817.6 744.7 818.5 740 819.3 726 820.1 731 821 731.6 821.8 734.1 822.7 728.4 823.5 727.4 824.4 732.1 825.2 730.4 826.1 733.9 827 729.1 827.8 739.2 828.6 725.3 829.5 731 830.3 742.4 831.2 742 832 740.2 832.9 750.7 833.8 753.6 834.6 756 835.5 748.3 836.3 750.8 837.1 751.7 838 750.2 838.8 753.9 839.7 744.2 840.5 746.2 841.4 730.5 842.2 743.7 843.1 747.7 844 740.3 844.8 747.8 845.6 735.8 846.5 743.6 847.3 738.5 848.2 749.7 849 751.8 849.9 742.1 850.8 743.5 851.6 741.7 852.5 752 853.3 732.9 854.1 728.4 855 725.7 855.8 722.9 856.7 719.1 857.5 714.2 858.4 719.7 859.2 734.7 860.1 731.3 861 731.7 861.8 730.1 862.6 739.9 863.5 743.4 864.3 742.6 865.2 752.5 866 745.5 866.9 746.5 867.8 749.8 868.6 745.3 869.5 750.3 870.3 744.9 871.1 744.8 872 749.2 872.8 746.9 873.7 750.7 874.5 746 875.4 744.6 876.2 749.1 877.1 752.2 878 743.4 878.8 746.7 879.6 743.3 880.5 749.3 881.3 739.2 882.2 746 883 734 883.9 740.9 884.8 746.8 885.6 738.8 886.5 744 887.3 725.4 888.1 732.9 889 730.3 889.8 726.6 890.7 719.6 891.5 733.2 892.4 722.2 893.2 744.4 894.1 746.1 895 753.2 895.8 748 896.6 743.3 897.5 745.6 898.3 745.6 899.2 752.6 900 751.3 900.9 759.4 901.8 763.2 902.6 769 903.5 749.2 904.3 753 905.1 754.1 906 751.1 906.8 743.7 907.7 745.2 908.5 745.7 909.4 745.2 910.2 738.5 911.1 734.3 912 728.1 912.8 729.1 913.6 737.1 914.5 726.4 915.3 739.2 916.2 748.1 917 743.4 917.9 758.2 918.8 747.7 919.6 756.9 920.5 745.4 921.3 735.1 922.1 738.4 923 742.4 923.8 727.7 924.7 733.2 925.5 726.8 926.4 728.8 927.2 736.8 928.1 735.6 929 743 929.8 751.1 930.6 742.3 931.5 747.1 932.3 751.4 933.2 762.3 934 747.7 934.9 746.4 935.8 752.2 936.6 763.3 937.5 752.5 938.3 755.9 939.1 758.2 940 760.3 940.8 764.3 941.7 742.6 942.5 736.5 943.4 743.1 944.2 743.9 945.1 729.9 946 739 946.8 747.2 947.6 738.3 948.5 741 949.3 736.6 950.2 737.1 951 735.9 951.9 736.7 952.8 744.3 953.6 737.3 954.5 742.9 955.3 750.3 956.1 744.1 957 747.2 957.8 746.4 958.7 745.1 959.5 758.7 960.4 749.1 961.2 755.7 962.1 750.5 963 748.8 963.8 748.1 964.6 750.2 965.5 746.5 966.3 749.3 967.2 739.2 968 745.3 968.9 748.6 969.8 746.8 970.6 747 971.4 749.4 972.3 747.5 973.1 742.7 974 742.4 974.9 739.9 975.7 746.6 976.5 743.7 977.4 735.6 978.2 739.8 979.1 741.3 979.9 736.6 980.8 728.1 981.6 734.8 982.5 733.3 983.4 732.3 984.2 735.8 985 725.4 985.9 730.7 986.8 729 987.6 739.4 988.4 744.1 989.3 743.7 990.1 746.4 991 738.4 991.9 744.2 992.7 732.1 993.5 746.6 994.4 740 995.2 726.8 996.1 724.3 996.9 750.1 997.8 745.2 998.6 757.3 999.5 750.7 1000.4 758.3 1001.2 753.3 1002 757 1002.9 749.5 1003.8 757.5 1004.6 746.2 1005.4 757.4 1006.3 751.7 1007.1 754.7 1008 743.3 1008.9 741.4 1009.7 754.4 1010.5 741.8 1011.4 745.9 1012.2 745.2 1013.1 741.2 1013.9 746.4 1014.8 738.8 1015.6 742.5 1016.5 757 1017.4 751.4 1018.2 760.6 1019 758.1 1019.9 757.5 1020.8 746 1021.6 728.6 1022.4 730.7 1023.3 730.7 1024.2 739.8" fill="none" stroke="#000" stroke-width="2" stroke-linejoin="round"/>
<path d="M455.5 802.9 456.4 797.5 457.2 802.6 458.1 792.9 458.9 805.6 459.8 793.7 460.6 801.2 461.4 800.5 462.3 797.3 463.1 816.5 464 799.1 464.9 804.9 465.7 808.7 466.6 797.6 467.4 811.2 468.2 804.1 469.1 810.3 469.9 800.7 470.8 800.3 471.6 812.3 472.5 809.2 473.4 807.6 474.2 810 475.1 809 475.9 799.5 476.8 792.7 477.6 794.1 478.4 792.5 479.3 790 480.1 798.4 481 800 481.9 803.7 482.7 805.7 483.6 802.7 484.4 802.9 485.2 803.9 486.1 797.8 486.9 798.8 487.8 802.2 488.6 798 489.5 797.8 490.4 799.5 491.2 806.3 492.1 800.7 492.9 797.1 493.8 795.5 494.6 797.5 495.4 809.2 496.3 781.6 497.1 801.1 498 800.6 498.9 804.9 499.7 795.2 500.6 812.1 501.4 806.3 502.2 800.8 503.1 801.6 503.9 796.9 504.8 800.7 505.6 799.9 506.5 805.9 507.4 803.6 508.2 802.2 509.1 807 509.9 806.8 510.8 805.1 511.6 795.9 512.5 808.6 513.3 796.8 514.1 797.1 515 801.7 515.9 805.2 516.7 810.1 517.5 794.2 518.4 810 519.2 810.1 520.1 798.9 521 800.4 521.8 799.2 522.6 800 523.5 797.1 524.4 795.7 525.2 803.4 526 805.6 526.9 813.5 527.8 799.1 528.6 793.7 529.5 805 530.3 801.6 531.1 805.5 532 801.6 532.9 797.6 533.7 801.3 534.5 809.7 535.4 807.8 536.2 802.1 537.1 811.6 538 799 538.8 802.8 539.6 805.7 540.5 797.3 541.4 798.3 542.2 804.5 543 803.5 543.9 801.8 544.8 799.1 545.6 795.7 546.5 797.3 547.3 817.6 548.1 800 549 812.1 549.9 802.2 550.7 812.7 551.5 812 552.4 807.2 553.2 800 554.1 794.5 555 805.5 555.8 794 556.6 794.8 557.5 810 558.4 810.1 559.2 802.8 560 801.1 560.9 799 561.8 804.8 562.6 801.8 563.5 797.9 564.3 802.3 565.1 807.1 566 796.5 566.9 798 567.7 802.4 568.5 809.8 569.4 802.2 570.2 802.1 571.1 812.6 572 797.6 572.8 799.4 573.6 807.6 574.5 808.6 575.4 805 576.2 788.6 577 805.2 577.9 804 578.8 800.2 579.6 803.2 580.5 807.2 581.3 800.7 582.1 796.2 583 792.3 583.9 803.1 584.7 800.4 585.5 802.4 586.4 800.1 587.2 806.9 588.1 807.9 589 804.7 589.8 795.3 590.6 804.8 591.5 802.2 592.4 789 593.2 805.9 594 793.1 594.9 797.8 595.8 808.7 596.6 805.8 597.5 798.1 598.3 796.2 599.1 802.3 600 791.2 600.9 802.5 601.7 799.2 602.5 804.9 603.4 800.9 604.2 796.5 605.1 804 606 802.2 606.8 797.6 607.6 799.5 608.5 800.8 609.4 806.6 610.2 810.2 611 805.6 611.9 798.7 612.8 802.1 613.6 806.1 614.5 808 615.3 797.2 616.1 803.6 617 800.3 617.9 791.3 618.7 795.8 619.5 799.5 620.4 799.7 621.2 800.3 622.1 799.2 623 804.4 623.8 798.1 624.6 795.4 625.5 806.9 626.4 801.8 627.2 809.2 628 800.4 628.9 810.2 629.8 795.4 630.6 793.9 631.5 802.2 632.3 806.7 633.1 793.3 634 806.1 634.9 807.1 635.7 804.6 636.5 800.7 637.4 791.6 638.2 795.2 639.1 799 640 805.1 640.8 800.6 641.6 797.1 642.5 800.1 643.4 790.8 644.2 801.7 645 795.9 645.9 808.5 646.8 803.7 647.6 799.4 648.5 800.5 649.3 794.6 650.1 803.2 651 796.5 651.9 800.5 652.7 806.8 653.5 802.8 654.4 804 655.2 815.9 656.1 806.7 657 808.9 657.8 801.5 658.6 796.1 659.5 802.9 660.4 795.9 661.2 786.9 662 805.8 662.9 804.4 663.8 796.7 664.6 808.2 665.5 800.7 666.3 798.6 667.1 796.4 668 807.8 668.9 799.7 669.7 798.9 670.5 798.5 671.4 796.3 672.2 791.5 673.1 796.8 674 797 674.8 806.3 675.6 796.4 676.5 806.2 677.4 798.7 678.2 795.4 679 797.3 679.9 798 680.8 799.3 681.6 803.6 682.5 803.9 683.3 796.6 684.1 801.8 685 813.3 685.9 803.2 686.7 790.2 687.5 801.6 688.4 808.6 689.2 805.8 690.1 800.3 691 801.5 691.8 804.1 692.6 800.2 693.5 798.3 694.4 808.5 695.2 797.1 696 803.6 696.9 789.9 697.8 793.7 698.6 792 699.5 800.9 700.3 796.5 701.1 797.4 702 796.8 702.9 802.7 703.7 807.2 704.5 799.2 705.4 805.8 706.2 803.1 707.1 800.6 708 806.2 708.8 812 709.6 792.1 710.5 809.2 711.4 814.6 712.2 804 713 807.7 713.9 807.6 714.8 804.6 715.6 803.2 716.5 808.8 717.3 808.3 718.1 804.1 719 806.9 719.8 798.8 720.7 802.2 721.5 803 722.4 801.4 723.2 797.3 724.1 806.6 725 802 725.8 804.3 726.6 794.1 727.5 797.8 728.3 796.1 729.2 797.6 730 806 730.9 809.7 731.8 798 732.6 799.8 733.5 797.8 734.3 796.9 735.1 805 736 799.2 736.8 796.5 737.7 805.3 738.5 801.1 739.4 803.1 740.2 802.3 741.1 805.2 742 803.4 742.8 805.2 743.6 800.7 744.5 801.7 745.3 805.3 746.2 806 747 808.4 747.9 808.3 748.8 817.1 749.6 804.1 750.5 806.4 751.3 803.5 752.1 808.6 753 797.3 753.8 795 754.7 808.2 755.5 807 756.4 805.3 757.2 801.5 758.1 812.1 759 807.2 759.8 801 760.6 800.5 761.5 798.6 762.3 808.1 763.2 799.7 764 795.8 764.9 799 765.8 809 766.6 807.6 767.5 801.4 768.3 799.2 769.1 801.8 770 805.8 770.8 802.2 771.7 801.4 772.5 804.4 773.4 800.6 774.2 796.6 775.1 793.6 776 795.1 776.8 796.1 777.6 801.8 778.5 802.1 779.3 798.7 780.2 809.1 781 797 781.9 807.4 782.8 795.8 783.6 800 784.5 806.5 785.3 807.6 786.1 799.8 787 805.1 787.8 798.7 788.7 802.5 789.5 804.7 790.4 798.8 791.2 808.7 792.1 803.6 793 804.8 793.8 798.9 794.6 801.8 795.5 804.7 796.3 808.1 797.2 807.4 798 801.3 798.9 799 799.8 797.4 800.6 814.4 801.5 809.3 802.3 810.9 803.1 802.5 804 813.4 804.8 805.5 805.7 804 806.5 800 807.4 795.2 808.2 805.5 809.1 802 810 801 810.8 793.2 811.6 788.8 812.5 792.5 813.3 802.6 814.2 808.4 815 796.3 815.9 798.8 816.8 792.8 817.6 795.3 818.5 801.3 819.3 794.8 820.1 794.6 821 802 821.8 797.8 822.7 796 823.5 812.5 824.4 808.1 825.2 805.8 826.1 805 827 800.5 827.8 803.5 828.6 791.8 829.5 798.5 830.3 792.7 831.2 798.8 832 802.5 832.9 797.3 833.8 804.9 834.6 792.5 835.5 786.2 836.3 790 837.1 789.7 838 791.1 838.8 790.7 839.7 790.9 840.5 796.1 841.4 781.4 842.2 790.7 843.1 780.4 844 779.4 844.8 771.6 845.6 778.1 846.5 756.4 847.3 755.7 848.2 754.4 849 754.6 849.9 738.9 850.8 743.7 851.6 743.5 852.5 732.4 853.3 725.7 854.1 747.6 855 749.8 855.8 758.2 856.7 772.2 857.5 777.5 858.4 776.7 859.2 785.6 860.1 785.3 861 797.2 861.8 799.4 862.6 806.4 863.5 803.5 864.3 809.7 865.2 811.2 866 812.9 866.9 810.3 867.8 799 868.6 811.2 869.5 801.2 870.3 810.8 871.1 803.7 872 802.7 872.8 799.6 873.7 812.7 874.5 800.7 875.4 812.4 876.2 813.7 877.1 820.9 878 810.2 878.8 799.9 879.6 791.3 880.5 786.7 881.3 776.8 882.2 786.2 883 776.9 883.9 767.3 884.8 776.3 885.6 773.8 886.5 781.3 887.3 782.9 888.1 782.2 889 795.5 889.8 804.5 890.7 803 891.5 803.3 892.4 795.4 893.2 798 894.1 802.7 895 809.3 895.8 805.6 896.6 809.4 897.5 823.7 898.3 808 899.2 811.3 900 807.3 900.9 813.5 901.8 820.3 902.6 823.3 903.5 822.5 904.3 825.3 905.1 814.6 906 813 906.8 799.7 907.7 806.2 908.5 795 909.4 802.7 910.2 789.6 911.1 796 912 796.6 912.8 798.5 913.6 798 914.5 807.2 915.3 799.8 916.2 789.2 917 789.4 917.9 795.9 918.8 783.1 919.6 796.9 920.5 786.3 921.3 779.9 922.1 795.7 923 788.7 923.8 776.6 924.7 798.2 925.5 793.3 926.4 801.7 927.2 804.1 928.1 803.8 929 797.4 929.8 789.2 930.6 803.4 931.5 797.6 932.3 798.2 933.2 790.4 934 794.5 934.9 797.8 935.8 794.5 936.6 795 937.5 788.7 938.3 785.7 939.1 797.3 940 796.3 940.8 804.4 941.7 807.6 942.5 801.5 943.4 801.6 944.2 810.9 945.1 809.1 946 799.1 946.8 812 947.6 802.9 948.5 799.5 949.3 791.6 950.2 794 951 797.1 951.9 795.6 952.8 800.6 953.6 798 954.5 787.9 955.3 792.5 956.1 792.8 957 792 957.8 793.4 958.7 793.5 959.5 793.6 960.4 797.6 961.2 799.5 962.1 805 963 796.6 963.8 800.4 964.6 788.6 965.5 804.2 966.3 805.4 967.2 801 968 804 968.9 799.4 969.8 799 970.6 793.9 971.4 793 972.3 787.2 973.1 802.6 974 801.9 974.9 798.9 975.7 797.6 976.5 804.3 977.4 797.2 978.2 789 979.1 792.2 979.9 794 980.8 794.5 981.6 795.5 982.5 786 983.4 790.8 984.2 784.1 985 794.8 985.9 789.4 986.8 783.5 987.6 800.3 988.4 795.8 989.3 789.2 990.1 800.2 991 797.6 991.9 809.2 992.7 809.3 993.5 800.7 994.4 802.6 995.2 805.3 996.1 799.6 996.9 789.1 997.8 799.2 998.6 803.4 999.5 802.7 1000.4 809.1 1001.2 800.9 1002 792.5 1002.9 811.5 1003.8 795.9 1004.6 798.9 1005.4 789.9 1006.3 800.8 1007.1 790 1008 795.7 1008.9 795.1 1009.7 803.4 1010.5 807 1011.4 802.5 1012.2 805.2 1013.1 802.4 1013.9 802.8 1014.8 797.5 1015.6 805.6 1016.5 793.8 1017.4 810.9 1018.2 809.9 1019 812.5 1019.9 821.9 1020.8 809.3 1021.6 815.7 1022.4 823.7 1023.3 817.8 1024.2 819.5" fill="none" stroke="#000" stroke-width="2" stroke-linejoin="round"/>
<path d="M455.5 857.4 456.4 864.9 457.2 861 458.1 862.8 458.9 866.3 459.8 861.7 460.6 865.3 461.4 863 462.3 866.7 463.1 855.4 464 857.5 464.9 855.6 465.7 864.7 466.6 860.8 467.4 866.1 468.2 862.6 469.1 861.1 469.9 870.5 470.8 862.8 471.6 860.2 472.5 856.4 473.4 867.8 474.2 867.3 475.1 857.6 475.9 862.2 476.8 864.1 477.6 855.1 478.4 862.2 479.3 870.7 480.1 855.5 481 865.1 481.9 871.8 482.7 860.2 483.6 862.3 484.4 867.1 485.2 869.5 486.1 868.6 486.9 857.8 487.8 859.9 488.6 863.5 489.5 861.9 490.4 870.2 491.2 864.6 492.1 865.4 492.9 876.3 493.8 865.9 494.6 860.1 495.4 863.3 496.3 860.4 497.1 863.1 498 860.3 498.9 856 499.7 856.1 500.6 856.1 501.4 866.4 502.2 871.2 503.1 862.9 503.9 867.7 504.8 868.1 505.6 864.3 506.5 864 507.4 863.5 508.2 855.6 509.1 860.7 509.9 866.5 510.8 868.9 511.6 863.1 512.5 861.6 513.3 865.9 514.1 872.9 515 858.6 515.9 859.3 516.7 861 517.5 865.8 518.4 858.9 519.2 865.1 520.1 859.3 521 866 521.8 862.3 522.6 862.4 523.5 869.4 524.4 860.7 525.2 863.3 526 870.7 526.9 870.6 527.8 867.2 528.6 854.6 529.5 867.8 530.3 864.9 531.1 860.6 532 852 532.9 864.8 533.7 868.8 534.5 862.4 535.4 866 536.2 855.8 537.1 859.6 538 855.3 538.8 853.2 539.6 857.6 540.5 855.9 541.4 858 542.2 859 543 861.5 543.9 861.9 544.8 863 545.6 854.7 546.5 860.2 547.3 848 548.1 856 549 855.5 549.9 844 550.7 854.8 551.5 863.4 552.4 862.2 553.2 859.5 554.1 860.8 555 866 555.8 865.5 556.6 867.8 557.5 863.2 558.4 865.9 559.2 862.9 560 857.3 560.9 856.8 561.8 860.2 562.6 865.7 563.5 859.8 564.3 868 565.1 855.7 566 861.2 566.9 857.1 567.7 862.7 568.5 862.4 569.4 862.2 570.2 858.1 571.1 860.4 572 861.3 572.8 868.3 573.6 858.6 574.5 862.4 575.4 863.4 576.2 854.3 577 856.1 577.9 848.4 578.8 858 579.6 864.1 580.5 856.1 581.3 862.1 582.1 863.6 583 860.7 583.9 856 584.7 858.5 585.5 853.5 586.4 854.9 587.2 869.4 588.1 856.2 589 856.3 589.8 861.4 590.6 863 591.5 866.2 592.4 859.4 593.2 858.6 594 859.3 594.9 867.3 595.8 868.2 596.6 858.9 597.5 860.2 598.3 862.5 599.1 857.5 600 859.2 600.9 865.6 601.7 854.3 602.5 861.4 603.4 864.9 604.2 853.4 605.1 863.5 606 857.7 606.8 855 607.6 862.3 608.5 858.5 609.4 855.9 610.2 851.4 611 846.8 611.9 846.8 612.8 850.4 613.6 858.8 614.5 856 615.3 858.7 616.1 854.4 617 858 617.9 855.5 618.7 862.8 619.5 858.8 620.4 850.4 621.2 859.1 622.1 859.3 623 868.5 623.8 865.8 624.6 870.7 625.5 869.7 626.4 861.4 627.2 861.1 628 860.7 628.9 853.9 629.8 875.5 630.6 862.1 631.5 854.2 632.3 854.3 633.1 862.1 634 859.4 634.9 853.4 635.7 852.9 636.5 862.6 637.4 862.1 638.2 867.9 639.1 866 640 871.1 640.8 855.3 641.6 865.8 642.5 858.1 643.4 857.4 644.2 866.8 645 852.4 645.9 860.6 646.8 858.8 647.6 866.6 648.5 854.7 649.3 864.7 650.1 865.7 651 862.5 651.9 862.2 652.7 860.8 653.5 855.5 654.4 861.7 655.2 856.1 656.1 870.1 657 868.8 657.8 855.2 658.6 866.7 659.5 860.1 660.4 854.6 661.2 859.4 662 865.9 662.9 862 663.8 856.4 664.6 864.4 665.5 860 666.3 858.8 667.1 855.5 668 864.3 668.9 866.3 669.7 858.1 670.5 863.4 671.4 865.3 672.2 868.4 673.1 861.8 674 875.3 674.8 865 675.6 866.1 676.5 859 677.4 870.1 678.2 861.4 679 849.8 679.9 863.2 680.8 858.5 681.6 854.6 682.5 861.2 683.3 858.6 684.1 867.5 685 867.2 685.9 856.7 686.7 865.5 687.5 866.3 688.4 848.3 689.2 866.6 690.1 863.7 691 865.4 691.8 869.4 692.6 862.8 693.5 858.7 694.4 864.1 695.2 860.5 696 862.3 696.9 847.9 697.8 857.2 698.6 872.8 699.5 863.4 700.3 867.7 701.1 865.2 702 862 702.9 867.3 703.7 866 704.5 859.8 705.4 859.8 706.2 863 707.1 854.7 708 853.4 708.8 862.3 709.6 861.3 710.5 854.5 711.4 863.2 712.2 860.1 713 858.4 713.9 854.7 714.8 862.1 715.6 857 716.5 860.3 717.3 858.5 718.1 868.1 719 863.1 719.8 862.3 720.7 864.9 721.5 873.1 722.4 865.6 723.2 852.7 724.1 860.4 725 861.3 725.8 858.5 726.6 856.5 727.5 868.8 728.3 863.1 729.2 863.5 730 861.2 730.9 864.9 731.8 865.4 732.6 865.6 733.5 864.3 734.3 859.6 735.1 859.2 736 860.5 736.8 854.5 737.7 858.8 738.5 851.7 739.4 859.7 740.2 849.9 741.1 859.9 742 866.6 742.8 866.4 743.6 860.8 744.5 870.1 745.3 863.6 746.2 864.5 747 861.7 747.9 852.4 748.8 862.6 749.6 861.1 750.5 862.3 751.3 854 752.1 862.9 753 855.7 753.8 852.3 754.7 851.5 755.5 855.4 756.4 850.2 757.2 857.7 758.1 853 759 854.7 759.8 849.3 760.6 846.7 761.5 846.6 762.3 855.7 763.2 865.1 764 866.7 764.9 854.1 765.8 865 766.6 868.2 767.5 860.6 768.3 865.6 769.1 861.8 770 865.5 770.8 865.5 771.7 863.2 772.5 864.5 773.4 861.7 774.2 865.3 775.1 848.9 776 866.6 776.8 868.7 777.6 856.1 778.5 860.5 779.3 863.4 780.2 856.7 781 857.2 781.9 861.1 782.8 865.7 783.6 855.6 784.5 863.3 785.3 864.3 786.1 855 787 862.7 787.8 869.6 788.7 863.1 789.5 862.4 790.4 869.6 791.2 859.1 792.1 860.3 793 867.2 793.8 869 794.6 855 795.5 859.2 796.3 862.7 797.2 866.9 798 863.5 798.9 859.2 799.8 866.6 800.6 851.8 801.5 862.6 802.3 864.5 803.1 865.6 804 862 804.8 853 805.7 865.4 806.5 859.3 807.4 860.8 808.2 869.5 809.1 854.7 810 874.9 810.8 867.3 811.6 866.1 812.5 860.6 813.3 865 814.2 865.2 815 864.2 815.9 856.5 816.8 866.2 817.6 864.6 818.5 866.4 819.3 861.9 820.1 859.2 821 857.4 821.8 849.6 822.7 849.9 823.5 861.5 824.4 861.6 825.2 869.3 826.1 861.8 827 864.6 827.8 870.1 828.6 866.1 829.5 861.3 830.3 868 831.2 866.2 832 859.4 832.9 861 833.8 864.5 834.6 862.2 835.5 861.8 836.3 860.4 837.1 849.8 838 865.3 838.8 864.4 839.7 862.4 840.5 854.7 841.4 862.2 842.2 865 843.1 864.6 844 865.1 844.8 854.1 845.6 867.3 846.5 866.9 847.3 867.8 848.2 871.6 849 866.6 849.9 871.5 850.8 857.9 851.6 866.3 852.5 861.5 853.3 869.6 854.1 860.8 855 860.7 855.8 859.6 856.7 863.8 857.5 856.3 858.4 863.7 859.2 863.5 860.1 861.4 861 863.6 861.8 861.4 862.6 874.5 863.5 869.2 864.3 858.9 865.2 868.6 866 857.7 866.9 864 867.8 865.5 868.6 861.1 869.5 860.2 870.3 865 871.1 865.7 872 862.9 872.8 862.6 873.7 852.9 874.5 858.7 875.4 854.2 876.2 860.4 877.1 856 878 858.2 878.8 858 879.6 860.6 880.5 861.1 881.3 861.7 882.2 865.4 883 858.9 883.9 872.2 884.8 863.2 885.6 861.3 886.5 865.9 887.3 861.4 888.1 859.8 889 862.4 889.8 855.7 890.7 867.5 891.5 856.9 892.4 861.3 893.2 870.4 894.1 870.3 895 865.7 895.8 856.4 896.6 862 897.5 863.1 898.3 866.3 899.2 871.3 900 876.4 900.9 877.8 901.8 871.6 902.6 862.4 903.5 863.6 904.3 862.7 905.1 864.9 906 857.5 906.8 858.2 907.7 857.8 908.5 856.5 909.4 865.2 910.2 862 911.1 870.1 912 870 912.8 865.7 913.6 866 914.5 862 915.3 864 916.2 862.6 917 866.3 917.9 857.1 918.8 863.7 919.6 861.8 920.5 861.3 921.3 855.1 922.1 857 923 862.6 923.8 863.6 924.7 856.5 925.5 869.9 926.4 861.2 927.2 858.6 928.1 860.5 929 853.1 929.8 846.7 930.6 857.6 931.5 856.9 932.3 862.6 933.2 865.1 934 857.4 934.9 860.8 935.8 867.5 936.6 868.7 937.5 860.3 938.3 860.7 939.1 861.5 940 861 940.8 872.1 941.7 867.3 942.5 856.4 943.4 858.8 944.2 866.8 945.1 864.7 946 866.9 946.8 865.7 947.6 858 948.5 855.5 949.3 853.9 950.2 857.3 951 862.5 951.9 858 952.8 870.7 953.6 853.4 954.5 859.9 955.3 865.6 956.1 868.6 957 853.8 957.8 859.4 958.7 861.3 959.5 848.6 960.4 862.8 961.2 860.5 962.1 858.5 963 865.8 963.8 861.8 964.6 857.8 965.5 867.9 966.3 857.9 967.2 866.9 968 848.8 968.9 865.1 969.8 859.8 970.6 863.3 971.4 863.4 972.3 868.6 973.1 860.9 974 865.2 974.9 865.2 975.7 869.4 976.5 866.9 977.4 867.7 978.2 867.5 979.1 857.3 979.9 864.5 980.8 866.3 981.6 866.8 982.5 877.2 983.4 868.2 984.2 869.7 985 860.3 985.9 865.8 986.8 870.2 987.6 858.9 988.4 858 989.3 853.8 990.1 854.6 991 868.7 991.9 852.7 992.7 858.6 993.5 862.5 994.4 860 995.2 861.8 996.1 862.2 996.9 869.4 997.8 858.7 998.6 864 999.5 864.8 1000.4 854.8 1001.2 859.6 1002 861.5 1002.9 869.1 1003.8 858.1 1004.6 866.5 1005.4 857.2 1006.3 869.2 1007.1 859.5 1008 866.9 1008.9 876 1009.7 866.1 1010.5 868 1011.4 855.4 1012.2 863.3 1013.1 864.3 1013.9 860 1014.8 862.5 1015.6 856 1016.5 859.6 1017.4 856.8 1018.2 856.5 1019 868.6 1019.9 861.9 1020.8 867.8 1021.6 875.1 1022.4 870.6 1023.3 861.1 1024.2 861.9" fill="none" stroke="#000" stroke-width="2" stroke-linejoin="round"/>
<path d="M455.5 926.7 456.4 917.1 457.2 918.1 458.1 917.7 458.9 907.2 459.8 920.9 460.6 910.4 461.4 919.9 462.3 914.3 463.1 924.4 464 917.7 464.9 919.6 465.7 912.5 466.6 921.7 467.4 914.6 468.2 917.5 469.1 917.1 469.9 916.4 470.8 910.2 471.6 899.9 472.5 903.8 473.4 915.9 474.2 917.2 475.1 919.3 475.9 909.1 476.8 907.8 477.6 920.3 478.4 920.5 479.3 915.6 480.1 916.2 481 908.9 481.9 916.5 482.7 926.1 483.6 912.1 484.4 913.7 485.2 914.5 486.1 913.4 486.9 905.7 487.8 915.7 488.6 917 489.5 918.9 490.4 917.8 491.2 918.7 492.1 910.7 492.9 926.4 493.8 915.1 494.6 927.9 495.4 929.7 496.3 922.2 497.1 913.1 498 904.9 498.9 906.4 499.7 912 500.6 913.9 501.4 908 502.2 909.7 503.1 929.6 503.9 915.2 504.8 906.6 505.6 918.5 506.5 910.6 507.4 904.1 508.2 922.3 509.1 918.5 509.9 924.6 510.8 934.7 511.6 922.4 512.5 914.4 513.3 928.4 514.1 905.5 515 912.1 515.9 928.8 516.7 930.4 517.5 920 518.4 917.6 519.2 924.1 520.1 923.9 521 922 521.8 916.1 522.6 908.6 523.5 910.3 524.4 911.6 525.2 912.9 526 913.8 526.9 919.5 527.8 910.3 528.6 925.2 529.5 924.3 530.3 907.6 531.1 899 532 907.3 532.9 907.5 533.7 903.5 534.5 910.5 535.4 900.6 536.2 896.2 537.1 911.6 538 900 538.8 902.2 539.6 893.4 540.5 908 541.4 908.3 542.2 912.1 543 915 543.9 910.5 544.8 902.1 545.6 917 546.5 915.5 547.3 919.4 548.1 917.5 549 919.1 549.9 909.8 550.7 908.1 551.5 912.8 552.4 912.6 553.2 918.9 554.1 898.2 555 915.9 555.8 915.1 556.6 927 557.5 916.5 558.4 916.3 559.2 920 560 923.3 560.9 909.2 561.8 914.2 562.6 926.3 563.5 924.8 564.3 923.3 565.1 932.9 566 914 566.9 923.5 567.7 918.4 568.5 921.2 569.4 913.4 570.2 918.8 571.1 933.7 572 923.4 572.8 922.6 573.6 932.2 574.5 926.9 575.4 935.8 576.2 917 577 915.7 577.9 910.1 578.8 916.9 579.6 910.4 580.5 931.3 581.3 923.4 582.1 926.6 583 924.5 583.9 923.1 584.7 920.7 585.5 912.3 586.4 930.6 587.2 919.4 588.1 933.1 589 925.4 589.8 910.9 590.6 914.8 591.5 913.6 592.4 912.4 593.2 913.2 594 917.6 594.9 915.3 595.8 915.7 596.6 922.3 597.5 923.7 598.3 922.3 599.1 929.3 600 924 600.9 927.2 601.7 921.3 602.5 925.2 603.4 905.4 604.2 927.2 605.1 915 606 926 606.8 915 607.6 917.2 608.5 920.5 609.4 915.3 610.2 915.7 611 919.4 611.9 931.3 612.8 911.7 613.6 921.4 614.5 929.3 615.3 917.2 616.1 926.8 617 902.3 617.9 908.2 618.7 914.8 619.5 914.3 620.4 916.6 621.2 925.8 622.1 915.3 623 923.8 623.8 922.8 624.6 919.2 625.5 932.7 626.4 916.3 627.2 931 628 913.6 628.9 920.7 629.8 920.6 630.6 915.5 631.5 926.9 632.3 931.8 633.1 928.7 634 923.6 634.9 929.3 635.7 922.5 636.5 918.3 637.4 896.5 638.2 913.1 639.1 920.2 640 908.5 640.8 897.9 641.6 912.2 642.5 917.4 643.4 908.9 644.2 916.6 645 921.2 645.9 913.5 646.8 915.9 647.6 927.5 648.5 916.9 649.3 908.6 650.1 914.2 651 912.9 651.9 908.6 652.7 909 653.5 907.5 654.4 930.8 655.2 907.8 656.1 914.5 657 917.4 657.8 920.8 658.6 911.1 659.5 914.1 660.4 908.2 661.2 914.8 662 902 662.9 922 663.8 916.9 664.6 918.9 665.5 911.4 666.3 897.8 667.1 903.4 668 907.9 668.9 919.6 669.7 910.4 670.5 917.8 671.4 912.6 672.2 908.3 673.1 911.8 674 918.9 674.8 921.8 675.6 914.4 676.5 922.3 677.4 924 678.2 928 679 930.1 679.9 911.6 680.8 912.5 681.6 904.9 682.5 928.2 683.3 919 684.1 910.4 685 934.1 685.9 919.9 686.7 921.6 687.5 921.9 688.4 923.3 689.2 904.5 690.1 913.6 691 919.1 691.8 918.6 692.6 918.5 693.5 918.5 694.4 914.1 695.2 904.4 696 911.2 696.9 924 697.8 921.7 698.6 916.5 699.5 920.7 700.3 930.6 701.1 918.4 702 914.7 702.9 934.6 703.7 915.4 704.5 908.5 705.4 919.4 706.2 906.5 707.1 913.4 708 918.9 708.8 930.8 709.6 921.8 710.5 933.7 711.4 921.2 712.2 929.4 713 929.5 713.9 928.8 714.8 937.1 715.6 920.9 716.5 920 717.3 918.6 718.1 918.5 719 923.2 719.8 920.8 720.7 925.5 721.5 913.5 722.4 918.5 723.2 916.6 724.1 915.7 725 920.7 725.8 923.8 726.6 925.2 727.5 928.2 728.3 921 729.2 924.1 730 929.8 730.9 934.1 731.8 935 732.6 930.7 733.5 926 734.3 930.1 735.1 924.8 736 914.9 736.8 921.5 737.7 919.5 738.5 909.6 739.4 897.9 740.2 903.9 741.1 902.5 742 892.2 742.8 902.9 743.6 901.5 744.5 910.7 745.3 907.1 746.2 915.8 747 920.7 747.9 928.8 748.8 916 749.6 919 750.5 925.7 751.3 910.3 752.1 902.4 753 915.8 753.8 913.7 754.7 899.5 755.5 912.2 756.4 905.3 757.2 916.8 758.1 926.7 759 929.4 759.8 919.5 760.6 921.4 761.5 935.5 762.3 927.4 763.2 922.3 764 925.3 764.9 919.1 765.8 916.6 766.6 918.9 767.5 928.5 768.3 917.1 769.1 923.8 770 923.6 770.8 919.8 771.7 914.7 772.5 918 773.4 917.8 774.2 923.3 775.1 929.3 776 923.3 776.8 935 777.6 927.2 778.5 922.6 779.3 916.8 780.2 919.2 781 915 781.9 926.1 782.8 922.2 783.6 933.7 784.5 924.8 785.3 922 786.1 908.1 787 906.5 787.8 913.4 788.7 913.2 789.5 911.2 790.4 917.4 791.2 925.4 792.1 929.8 793 927.6 793.8 921.6 794.6 919 795.5 921.2 796.3 915.5 797.2 906.3 798 911.9 798.9 923.1 799.8 931.5 800.6 928.9 801.5 918.8 802.3 915.2 803.1 934.3 804 923.2 804.8 919.8 805.7 924.3 806.5 928.1 807.4 925.7 808.2 928.1 809.1 938.7 810 927.8 810.8 928.8 811.6 932.3 812.5 928.5 813.3 925.6 814.2 926.8 815 919.6 815.9 925.5 816.8 922.4 817.6 935.3 818.5 922.6 819.3 926.2 820.1 931.5 821 920.8 821.8 923.2 822.7 913.4 823.5 911 824.4 907.7 825.2 905 826.1 905.7 827 891.8 827.8 909.8 828.6 913.2 829.5 913.9 830.3 916.7 831.2 925.7 832 924.5 832.9 938.7 833.8 929.3 834.6 919.3 835.5 914.8 836.3 919.8 837.1 909.6 838 910.9 838.8 921.4 839.7 905.4 840.5 915.6 841.4 913.5 842.2 919.4 843.1 922 844 916.9 844.8 923 845.6 916 846.5 922.4 847.3 915.6 848.2 922.9 849 920.6 849.9 907.7 850.8 889.9 851.6 900.9 852.5 905.4 853.3 898.9 854.1 904 855 915.6 855.8 904.7 856.7 908.5 857.5 918.4 858.4 904 859.2 906.1 860.1 914.7 861 907.1 861.8 916.3 862.6 920.6 863.5 919.2 864.3 911.8 865.2 907.2 866 910.1 866.9 905.6 867.8 906.1 868.6 913.6 869.5 893 870.3 911 871.1 902.7 872 915.1 872.8 914.1 873.7 918.2 874.5 922.1 875.4 932.7 876.2 928.9 877.1 932.4 878 915.6 878.8 917.4 879.6 914.1 880.5 915 881.3 922.2 882.2 922.7 883 914.9 883.9 907.2 884.8 917.3 885.6 911.9 886.5 914.8 887.3 921.8 888.1 922 889 930.8 889.8 911.9 890.7 908 891.5 904.3 892.4 923.4 893.2 903.6 894.1 909.7 895 913.9 895.8 894.4 896.6 899.8 897.5 886.2 898.3 896.9 899.2 880.1 900 883.7 900.9 881.7 901.8 880.6 902.6 885.9 903.5 886.4 904.3 889.8 905.1 894.7 906 884.4 906.8 905.1 907.7 926.9 908.5 938.6 909.4 946.2 910.2 944.8 911.1 953.5 912 943.5 912.8 933.8 913.6 938.4 914.5 927.7 915.3 924.3 916.2 926.6 917 926.7 917.9 918.1 918.8 911.3 919.6 914 920.5 909.2 921.3 909.4 922.1 908.9 923 900.6 923.8 898.4 924.7 892.6 925.5 904.6 926.4 903.5 927.2 910.8 928.1 915.6 929 915.3 929.8 915.4 930.6 927.3 931.5 939.5 932.3 922.3 933.2 932.2 934 929.1 934.9 925.5 935.8 922 936.6 914.7 937.5 916.5 938.3 924.8 939.1 912.9 940 916.2 940.8 914.6 941.7 925.7 942.5 928.9 943.4 915 944.2 918.4 945.1 907.2 946 932 946.8 934.8 947.6 930.1 948.5 916.7 949.3 923.4 950.2 931 951 911.3 951.9 916.5 952.8 931.6 953.6 922.8 954.5 932.3 955.3 920.6 956.1 920.6 957 909.7 957.8 915.4 958.7 920.8 959.5 920.4 960.4 926.7 961.2 923.1 962.1 915.8 963 924.4 963.8 925.3 964.6 918.1 965.5 923.1 966.3 926.1 967.2 921.1 968 911.8 968.9 911.3 969.8 905.5 970.6 893.2 971.4 899 972.3 902 973.1 897.5 974 889.9 974.9 913 975.7 909.7 976.5 911.6 977.4 909 978.2 905.4 979.1 892.3 979.9 920.7 980.8 927.3 981.6 911.1 982.5 922.5 983.4 921.7 984.2 933.1 985 915.4 985.9 933.9 986.8 927.8 987.6 916.1 988.4 915 989.3 928.5 990.1 934.9 991 922.5 991.9 926.7 992.7 926.3 993.5 932.5 994.4 923.8 995.2 917.6 996.1 913.8 996.9 911.5 997.8 919.2 998.6 920.6 999.5 911.2 1000.4 912.1 1001.2 902.7 1002 917.2 1002.9 915.1 1003.8 925.4 1004.6 907.9 1005.4 930.5 1006.3 922.7 1007.1 924.2 1008 925.7 1008.9 919.1 1009.7 926.4 1010.5 926.7 1011.4 923.1 1012.2 933 1013.1 930.5 1013.9 926.1 1014.8 929.7 1015.6 928.9 1016.5 931.3 1017.4 937.7 1018.2 912.2 1019 908.9 1019.9 876.7 1020.8 868.9 1021.6 864.7 1022.4 869.3 1023.3 873.1 1024.2 890.8" fill="none" stroke="#000" stroke-width="2" stroke-linejoin="round"/>
<path d="M455.5 969.8 456.4 971.5 457.2 968.6 458.1 967.4 458.9 971.7 459.8 961.8 460.6 965.7 461.4 966.7 462.3 971.8 463.1 971.9 464 974 464.9 977.4 465.7 979.9 466.6 979.9 467.4 977.1 468.2 985.2 469.1 982.7 469.9 991.7 470.8 986.2 471.6 981.9 472.5 980.6 473.4 975.5 474.2 980.4 475.1 973.4 475.9 980.7 476.8 968.9 477.6 971.6 478.4 984.2 479.3 984.3 480.1 983.4 481 968.4 481.9 971.4 482.7 973.2 483.6 973.1 484.4 983.4 485.2 979.7 486.1 982 486.9 978.6 487.8 975.4 488.6 988.2 489.5 979.5 490.4 970.8 491.2 982.3 492.1 973.2 492.9 975.8 493.8 984.6 494.6 972.6 495.4 973.8 496.3 971.2 497.1 979.2 498 980 498.9 973.4 499.7 985.6 500.6 971.5 501.4 978 502.2 985 503.1 976.2 503.9 978.6 504.8 978.1 505.6 981.1 506.5 979.7 507.4 971.4 508.2 976.8 509.1 974.3 509.9 980 510.8 966.9 511.6 971.1 512.5 982.2 513.3 980 514.1 993.1 515 982.4 515.9 969.7 516.7 988.6 517.5 983.7 518.4 979.7 519.2 973.6 520.1 979.4 521 983.9 521.8 983.1 522.6 982.1 523.5 984.8 524.4 982.6 525.2 976.4 526 983.4 526.9 985 527.8 992.7 528.6 983.1 529.5 977.5 530.3 989.1 531.1 987.3 532 981 532.9 977.7 533.7 991.4 534.5 974 535.4 978.8 536.2 983.3 537.1 976.6 538 981.2 538.8 984.7 539.6 980.2 540.5 975.6 541.4 978.7 542.2 980.8 543 986.8 543.9 975.7 544.8 989 545.6 977.2 546.5 989 547.3 992.8 548.1 987.5 549 979 549.9 988 550.7 985.1 551.5 981.2 552.4 977.2 553.2 975.3 554.1 975.7 555 987.5 555.8 977.5 556.6 977.5 557.5 973.8 558.4 979.3 559.2 977.4 560 975.9 560.9 980.3 561.8 977.1 562.6 979.8 563.5 978.6 564.3 975.9 565.1 982.5 566 982.6 566.9 964.6 567.7 977.6 568.5 978.5 569.4 978.8 570.2 987.1 571.1 980.7 572 976.7 572.8 973.1 573.6 978.9 574.5 967.4 575.4 975.3 576.2 975.5 577 978.5 577.9 980.6 578.8 977.4 579.6 978.2 580.5 984.3 581.3 980.1 582.1 991.1 583 984.6 583.9 975.5 584.7 981.2 585.5 974.1 586.4 973.3 587.2 978 588.1 974.7 589 966.9 589.8 976.8 590.6 975.3 591.5 985.5 592.4 982.1 593.2 975.3 594 966.4 594.9 980.8 595.8 979 596.6 977.1 597.5 989.9 598.3 977.5 599.1 980.1 600 970 600.9 978 601.7 972.2 602.5 967.8 603.4 975.5 604.2 978.8 605.1 976 606 991 606.8 984.8 607.6 975.9 608.5 969.3 609.4 983.7 610.2 982.4 611 981.4 611.9 973.5 612.8 973.7 613.6 980.9 614.5 974.9 615.3 976.4 616.1 979.7 617 982.3 617.9 972.8 618.7 976 619.5 978 620.4 973.4 621.2 981.3 622.1 971 623 979.3 623.8 976 624.6 986.8 625.5 983.3 626.4 981.1 627.2 983.2 628 977.2 628.9 985.9 629.8 980.4 630.6 979.2 631.5 981.8 632.3 980.9 633.1 974.6 634 969.6 634.9 981.5 635.7 979.1 636.5 979.5 637.4 984.6 638.2 980.3 639.1 991.2 640 983.6 640.8 984.6 641.6 986.9 642.5 983.8 643.4 983.4 644.2 983.5 645 978.7 645.9 984.6 646.8 982.3 647.6 991.1 648.5 978.7 649.3 975.9 650.1 974.4 651 980.8 651.9 980 652.7 973.1 653.5 981.1 654.4 967.5 655.2 971 656.1 974.4 657 977.1 657.8 972.7 658.6 983.7 659.5 982.1 660.4 977.3 661.2 978.6 662 980.3 662.9 983.5 663.8 988.6 664.6 988.5 665.5 984.7 666.3 977.9 667.1 970.2 668 968.5 668.9 979.4 669.7 972.9 670.5 978.1 671.4 985.8 672.2 980.3 673.1 977.4 674 976.9 674.8 979.8 675.6 981.3 676.5 975.8 677.4 977.2 678.2 980.5 679 984.9 679.9 995.8 680.8 983.9 681.6 981.8 682.5 986 683.3 985.5 684.1 977 685 969.5 685.9 993.8 686.7 979.2 687.5 980 688.4 991.2 689.2 982 690.1 987.1 691 981.5 691.8 993.4 692.6 984.2 693.5 988.3 694.4 992.1 695.2 986.8 696 998.1 696.9 982.6 697.8 971.5 698.6 981 699.5 980.2 700.3 980.9 701.1 973.8 702 976 702.9 978.3 703.7 982.3 704.5 974.8 705.4 980.4 706.2 977.1 707.1 976.7 708 970.5 708.8 966 709.6 976.8 710.5 982.1 711.4 976.9 712.2 963.8 713 968.7 713.9 962.7 714.8 963.6 715.6 954.1 716.5 955.5 717.3 960.7 718.1 968.9 719 960.2 719.8 960.1 720.7 964 721.5 953.3 722.4 954.4 723.2 957.2 724.1 972.3 725 969.1 725.8 968.2 726.6 972.6 727.5 975.8 728.3 973 729.2 972.4 730 974 730.9 969.5 731.8 967.8 732.6 963.6 733.5 977.3 734.3 981.7 735.1 981.1 736 982.2 736.8 976.7 737.7 983.8 738.5 972.2 739.4 974.2 740.2 973.1 741.1 987.6 742 988.3 742.8 990 743.6 997.4 744.5 983.2 745.3 990.3 746.2 985.5 747 982.6 747.9 988.9 748.8 981.8 749.6 977.9 750.5 988 751.3 983.1 752.1 986.4 753 992.1 753.8 985.7 754.7 983.2 755.5 983.7 756.4 987 757.2 969.1 758.1 987.6 759 988 759.8 989.5 760.6 993.3 761.5 985.9 762.3 994.8 763.2 998 764 991.9 764.9 982.2 765.8 987.8 766.6 980.9 767.5 980.3 768.3 979.7 769.1 988 770 990.6 770.8 981.5 771.7 989 772.5 981.4 773.4 982 774.2 988.9 775.1 991 776 983 776.8 961.4 777.6 971.7 778.5 975.3 779.3 975.7 780.2 969.6 781 988.3 781.9 964.7 782.8 975.3 783.6 972 784.5 977.4 785.3 981.8 786.1 980.4 787 986.1 787.8 978 788.7 982.6 789.5 990 790.4 980.8 791.2 987.4 792.1 979.2 793 972.7 793.8 976.7 794.6 972.7 795.5 987.9 796.3 982.8 797.2 994.3 798 983.5 798.9 994 799.8 985.9 800.6 986 801.5 976.5 802.3 983.7 803.1 988.5 804 975.5 804.8 977.9 805.7 995.9 806.5 980.7 807.4 986.6 808.2 984.7 809.1 979.7 810 984.1 810.8 983.2 811.6 970.5 812.5 986.7 813.3 980.3 814.2 964.4 815 976.4 815.9 986.1 816.8 969.3 817.6 976.2 818.5 987.9 819.3 971.5 820.1 994.6 821 999.9 821.8 997.9 822.7 981.7 823.5 989.7 824.4 982.8 825.2 991 826.1 988.7 827 979.9 827.8 981 828.6 976 829.5 978.8 830.3 979.6 831.2 981 832 978.1 832.9 972.5 833.8 973.9 834.6 969.7 835.5 972.9 836.3 971.3 837.1 985.1 838 986.4 838.8 987.2 839.7 975.7 840.5 982.1 841.4 978.7 842.2 980.6 843.1 983.2 844 984.8 844.8 975.8 845.6 985.5 846.5 984.2 847.3 982.5 848.2 972.8 849 978.3 849.9 978.9 850.8 976 851.6 975.2 852.5 977.6 853.3 970 854.1 966 855 970.3 855.8 970.2 856.7 974.9 857.5 980 858.4 967.4 859.2 977.5 860.1 981.4 861 974.5 861.8 978.7 862.6 981.7 863.5 979.8 864.3 983.7 865.2 986.4 866 985.4 866.9 972.5 867.8 970.9 868.6 979.1 869.5 975.3 870.3 979.1 871.1 986 872 979.4 872.8 993.3 873.7 985.3 874.5 990.3 875.4 986.4 876.2 991.4 877.1 984.5 878 977.4 878.8 981.1 879.6 985.1 880.5 973.3 881.3 983.7 882.2 989.1 883 977.2 883.9 979.5 884.8 970.2 885.6 974 886.5 966.9 887.3 957 888.1 966.8 889 977 889.8 970.6 890.7 967.9 891.5 973.8 892.4 966.3 893.2 985.2 894.1 974.8 895 986.7 895.8 989.4 896.6 989.1 897.5 986.5 898.3 994.8 899.2 995.1 900 996.3 900.9 988.4 901.8 1000 902.6 1000.1 903.5 1000.1 904.3 997.6 905.1 990.3 906 982.9 906.8 988.9 907.7 980.6 908.5 982.3 909.4 987.9 910.2 996.4 911.1 988.1 912 985.7 912.8 972.5 913.6 967.2 914.5 966.6 915.3 963.1 916.2 962.7 917 965.3 917.9 963.8 918.8 967.8 919.6 969.9 920.5 978.8 921.3 968.8 922.1 967.8 923 969.4 923.8 967.7 924.7 966.5 925.5 953.4 926.4 962.4 927.2 962.5 928.1 962.8 929 965.8 929.8 970.4 930.6 970.5 931.5 969.2 932.3 973.5 933.2 968.9 934 973.4 934.9 985.3 935.8 978.8 936.6 971.9 937.5 980.2 938.3 985.2 939.1 987.5 940 980.2 940.8 983.8 941.7 991.7 942.5 998 943.4 980.7 944.2 972.3 945.1 973.6 946 973.4 946.8 976.6 947.6 983.8 948.5 989.6 949.3 972.3 950.2 984 951 987.1 951.9 983.7 952.8 982.7 953.6 981.1 954.5 988.2 955.3 981.3 956.1 974.9 957 987 957.8 980.8 958.7 967.6 959.5 967 960.4 973 961.2 975.9 962.1 969.8 963 986.1 963.8 985.6 964.6 991.2 965.5 981.5 966.3 981 967.2 991.1 968 986.9 968.9 988.9 969.8 976.5 970.6 980.3 971.4 964.7 972.3 975.1 973.1 985 974 974.7 974.9 975.4 975.7 975.2 976.5 975.3 977.4 974.9 978.2 961.3 979.1 960.1 979.9 974.3 980.8 978.6 981.6 963.9 982.5 963.3 983.4 969.2 984.2 970.1 985 959.6 985.9 975.8 986.8 963.7 987.6 973.5 988.4 968.8 989.3 987.2 990.1 984.7 991 982.7 991.9 970.8 992.7 975.5 993.5 965.2 994.4 973.6 995.2 981.9 996.1 978 996.9 970.6 997.8 980.6 998.6 967.9 999.5 968 1000.4 974 1001.2 963.5 1002 974 1002.9 975.7 1003.8 971.4 1004.6 976.5 1005.4 974.1 1006.3 970.1 1007.1 964.6 1008 967.3 1008.9 965.8 1009.7 966 1010.5 973.3 1011.4 983.4 1012.2 979.7 1013.1 991.8 1013.9 988 1014.8 989.8 1015.6 980.6 1016.5 993.9 1017.4 982.5 1018.2 991.6 1019 992.5 1019.9 1000.3 1020.8 993.4 1021.6 994.8 1022.4 984.8 1023.3 979.8 1024.2 985.7" fill="none" stroke="#000" stroke-width="2" stroke-linejoin="round"/>
<path d="M455.5 1037.8 H1024" fill="none" stroke="#333" stroke-width="1.8"/>
<line x1="455.5" y1="1031.8" x2="455.5" y2="1038.7" stroke="#333" stroke-width="1.8"/>
<line x1="550" y1="1031.8" x2="550" y2="1038.7" stroke="#333" stroke-width="1.8"/>
<line x1="644.7" y1="1031.8" x2="644.7" y2="1038.7" stroke="#333" stroke-width="1.8"/>
<line x1="739.6" y1="1031.8" x2="739.6" y2="1038.7" stroke="#333" stroke-width="1.8"/>
<line x1="834.3" y1="1031.8" x2="834.3" y2="1038.7" stroke="#333" stroke-width="1.8"/>
<line x1="929" y1="1031.8" x2="929" y2="1038.7" stroke="#333" stroke-width="1.8"/>
<line x1="1023.4" y1="1031.8" x2="1023.4" y2="1038.7" stroke="#333" stroke-width="1.8"/>
<text x="443.5" y="1088" font-size="37" text-anchor="middle" fill="#111">-40</text>
<text x="542.4" y="1088" font-size="37" text-anchor="middle" fill="#111">-20</text>
<text x="644.7" y="1088" font-size="37" text-anchor="middle" fill="#111">0</text>
<text x="737.6" y="1088" font-size="37" text-anchor="middle" fill="#111">20</text>
<text x="834.5" y="1088" font-size="37" text-anchor="middle" fill="#111">40</text>
<text x="931.3" y="1088" font-size="37" text-anchor="middle" fill="#111">60</text>
<text x="1026.2" y="1088" font-size="37" text-anchor="middle" fill="#111">80</text>
<text x="708.6" y="1134.9" font-size="38.4" text-anchor="middle">Time (min)</text>
<text x="1192.6" y="635.8" font-size="33.8" text-anchor="middle">GCaMP6s</text>
<defs><filter id="fireR" filterUnits="userSpaceOnUse" x="1087.8" y="647.6" width="214.8" height="214.8" color-interpolation-filters="sRGB"><feTurbulence type="fractalNoise" baseFrequency="0.11" numOctaves="2" seed="8" result="n"/><feDisplacementMap in="SourceGraphic" in2="n" scale="5" xChannelSelector="R" yChannelSelector="G" result="d"/><feGaussianBlur in="d" stdDeviation="0.9" result="b"/><feColorMatrix in="n" type="matrix" values="0 0 1 0 0 0 0 1 0 0 0 0 1 0 0 0 0 0 0 1" result="g"/><feComposite in="b" in2="g" operator="arithmetic" k1="0.9" k2="0.62" k3="0" k4="0" result="m"/><feComponentTransfer in="m"><feFuncR type="table" tableValues="0 0 0.004 0.098 0.192 0.286 0.384 0.478 0.573 0.635 0.678 0.722 0.765 0.812 0.851 0.898 0.941 0.988 1 1 1 1 1 1 1 1 1 1 1 1 1 1"/><feFuncG type="table" tableValues="0 0 0 0 0 0 0 0 0 0 0 0 0 0.055 0.137 0.224 0.31 0.396 0.459 0.522 0.576 0.631 0.686 0.745 0.804 0.859 0.918 0.973 1 1 1 1"/><feFuncB type="table" tableValues="0 0.239 0.376 0.51 0.647 0.753 0.863 0.89 0.824 0.71 0.592 0.478 0.365 0.251 0.137 0.02 0 0 0 0 0 0 0 0 0 0 0 0.137 0.384 0.627 0.875 1"/><feFuncA type="table" tableValues="1 1"/></feComponentTransfer></filter></defs>
<g filter="url(#fireR)"><rect x="1082.8" y="642.6" width="224.8" height="224.8" fill="#000"/>
<g transform="translate(1080,640) scale(0.13922)" fill="none" stroke-linecap="round" stroke-linejoin="round">
<path d="M740,790 L760,690 L800,630 L850,570 L865,500 L870,420" stroke="#3c3c3c" stroke-width="29.7"/>
<path d="M850,520 L950,490 L1050,430 L1120,360 L1165,270" stroke="#383838" stroke-width="23"/>
<path d="M900,585 L980,600 L1060,640 L1130,670 L1210,690 L1300,705 L1400,715" stroke="#3c3c3c" stroke-width="25.7"/>
<circle cx="1392" cy="715" r="17" fill="#3c3c3c"/>
<circle cx="1280" cy="770" r="15" fill="#3c3c3c"/>
<path d="M1100,680 L1160,740" stroke="#5c5c5c" stroke-width="32.4"/>
<path d="M1310,710 L1285,770" stroke="#3c3c3c" stroke-width="21.6"/>
<path d="M860,235 C890,218 922,225 932,246 L832,372 L812,420 L846,490 C832,512 800,507 790,490 L740,400 C740,380 760,350 780,330 Z" fill="#393939"/>
<path d="M620,410 C650,394 672,405 686,430 L742,530 L792,610 C782,636 760,636 745,620 L650,530 L625,480 C612,450 610,425 620,410 Z" fill="#3c3c3c"/>
<circle cx="665" cy="480" r="24" fill="#666666"/>
<path d="M130,725 L200,745 L280,780 L360,820 L430,845 L520,880" stroke="#454545" stroke-width="35.1"/>
<circle cx="155" cy="728" r="18" fill="#9e9e9e"/>
<circle cx="370" cy="828" r="18" fill="#d1d1d1"/>
<path d="M250,860 C280,844 330,854 370,880 L422,920 C436,950 420,976 400,976 L330,940 L260,910 C240,895 240,875 250,860 Z" fill="#404040"/>
<circle cx="320" cy="890" r="20" fill="#666666"/>
<path d="M470,960 C500,944 540,960 570,980 L632,1010 L662,1080 L702,1170 L722,1200 C722,1226 700,1236 680,1226 L650,1180 L620,1100 L590,1052 L520,1036 L470,1020 C450,1000 455,975 470,960 Z" fill="#404040"/>
<circle cx="585" cy="1022" r="20" fill="#666666"/>
<circle cx="505" cy="1000" r="25" fill="#e0e0e0"/>
<path d="M440,960 L400,1000 L330,1040 L270,1030" stroke="#4c4c4c" stroke-width="35.1"/>
<circle cx="265" cy="1100" r="25" fill="#5c5c5c"/>
<circle cx="270" cy="1150" r="20" fill="#5c5c5c"/>
<path d="M380,1140 L340,1250" stroke="#5c5c5c" stroke-width="35.1"/>
<circle cx="320" cy="1085" r="28" fill="#b8b8b8"/>
<circle cx="385" cy="1115" r="32" fill="#ffffff"/>
<circle cx="375" cy="1190" r="16" fill="#8f8f8f"/>
<circle cx="305" cy="1275" r="16" fill="#b2b2b2"/>
<path d="M610,1150 L620,1200 L590,1260 L550,1310 L520,1370 L490,1435" stroke="#3c3c3c" stroke-width="29.7"/>
<circle cx="630" cy="1200" r="18" fill="#616161"/>
<circle cx="490" cy="1435" r="20" fill="#616161"/>
<path d="M400,1300 L470,1305 L540,1310" stroke="#3c3c3c" stroke-width="27"/>
<path d="M640,1230 L690,1280 L710,1350" stroke="#4c4c4c" stroke-width="29.7"/>
<path d="M650,1020 L750,1080 L880,1165" stroke="#212121" stroke-width="17.6"/>
<path d="M780,900 L840,940" stroke="#3c3c3c" stroke-width="24.3"/>
<circle cx="860" cy="585" r="18" fill="#666666"/>
<circle cx="870" cy="430" r="14" fill="#5c5c5c"/>
<path d="M440,920 L530,900" stroke="#999999" stroke-width="40.5"/>
<path d="M520,897 L598,830 L680,790 L748,770 L778,850 L778,915 L725,952 L640,942 L565,927 Z" fill="#b2b2b2"/>
<path d="M535,895 L602,842 L682,802 L738,785 L764,852 L764,908 L720,938 L640,929 L572,914 Z" fill="#ffffff"/>
<circle cx="1165" cy="235" r="32" fill="#f5f5f5"/>
<circle cx="1030" cy="525" r="28" fill="#ffffff"/>
<circle cx="1065" cy="560" r="20" fill="#e6e6e6"/>
<circle cx="1140" cy="640" r="30" fill="#f5f5f5"/>
</g></g>
<g transform="translate(1080,640) scale(0.13922)" fill="none" stroke="#fff" stroke-width="8.5" stroke-linejoin="round">
<path d="M470,960 C500,944 540,960 570,980 L632,1010 L662,1080 L702,1170 L722,1200 C722,1226 700,1236 680,1226 L650,1180 L620,1100 L590,1052 L520,1036 L470,1020 C450,1000 455,975 470,960 Z"/>
<path d="M250,860 C280,844 330,854 370,880 L422,920 C436,950 420,976 400,976 L330,940 L260,910 C240,895 240,875 250,860 Z"/>
<path d="M620,410 C650,394 672,405 686,430 L742,530 L792,610 C782,636 760,636 745,620 L650,530 L625,480 C612,450 610,425 620,410 Z"/>
<path d="M860,235 C890,218 922,225 932,246 L832,372 L812,420 L846,490 C832,512 800,507 790,490 L740,400 C740,380 760,350 780,330 Z"/>
</g>
<text x="1179.5" y="685.4" font-size="30" text-anchor="middle" fill="#fff">4</text>
<text x="1151" y="718.6" font-size="30" text-anchor="middle" fill="#fff">3</text>
<text x="1101.2" y="775" font-size="30" text-anchor="middle" fill="#fff">2</text>
<text x="1190" y="814.2" font-size="30" text-anchor="middle" fill="#fff">1</text>
<rect x="1268.2" y="847.8" width="28.8" height="4.2" fill="#fff"/>
<text transform="translate(1356,835.6) rotate(-90)" font-size="36.3" text-anchor="middle">ROI #</text>
<text transform="translate(1388.8,993.8) rotate(-90)" font-size="36.6" text-anchor="middle">Soma</text>
<text x="1380.5" y="750" font-size="36" text-anchor="middle">1</text>
<text x="1380.5" y="811.3" font-size="36" text-anchor="middle">2</text>
<text x="1380.5" y="867.8" font-size="36" text-anchor="middle">3</text>
<text x="1380.5" y="922.6" font-size="36" text-anchor="middle">4</text>
<text transform="translate(1250.2,1054.6) rotate(-90)" font-size="34.5" text-anchor="middle">ΔF/F</text>
<text x="1282.4" y="1063.8" text-anchor="middle">0.2</text>
<rect x="1317" y="1039.2" width="4.2" height="28" fill="#000"/>
<text x="1330.4" y="643.8" font-size="34">Saline injection</text>
<path d="M1565 622.7 L1593 634.7 L1565 646.7 L1573.4 634.7 Z" fill="#000" stroke="none" stroke-width="0"/>
<line x1="1598.7" y1="619.5" x2="1598.7" y2="1039.9" stroke="#444" stroke-width="2.1" stroke-dasharray="8 4.3"/>
<path d="M1409 746.7 1409.8 745.7 1410.7 749 1411.5 739.5 1412.4 745.5 1413.2 735.3 1414.1 740.4 1415 741 1415.8 747.5 1416.7 745 1417.5 744.1 1418.3 751.9 1419.2 752.7 1420 743.6 1420.9 747.6 1421.8 742.4 1422.6 743.5 1423.5 743.1 1424.3 737.2 1425.2 742.4 1426 738.5 1426.8 739.4 1427.7 742.1 1428.5 737.4 1429.4 740.1 1430.2 747 1431.1 748.9 1432 749.5 1432.8 743.8 1433.7 747.1 1434.5 749.7 1435.3 748.1 1436.2 739.1 1437 738.6 1437.9 747.3 1438.8 751 1439.6 746.5 1440.5 750 1441.3 747.6 1442.2 748.1 1443 749 1443.8 749.2 1444.7 747.1 1445.5 754.9 1446.4 750.6 1447.2 744.1 1448.1 743.9 1449 739.7 1449.8 743.8 1450.7 735.9 1451.5 739.7 1452.3 744.1 1453.2 744.1 1454 744.8 1454.9 738.7 1455.8 745.6 1456.6 742 1457.5 747.6 1458.3 742.4 1459.2 750.5 1460 746.5 1460.8 747.8 1461.7 743.1 1462.5 742.6 1463.4 742.3 1464.2 747.1 1465.1 741.6 1466 742.8 1466.8 747.6 1467.7 745.5 1468.5 743.2 1469.3 746 1470.2 740.5 1471 740.4 1471.9 747.1 1472.8 754.4 1473.6 749.8 1474.5 749.7 1475.3 741.1 1476.2 736.6 1477 743 1477.8 735.7 1478.7 730.5 1479.5 742.4 1480.4 743.6 1481.2 740.8 1482.1 742.4 1483 738.6 1483.8 737.1 1484.7 733 1485.5 738.2 1486.3 736.5 1487.2 741.2 1488 750.5 1488.9 744.3 1489.8 744.2 1490.6 739.5 1491.5 751.3 1492.3 735 1493.2 740 1494 748.3 1494.8 742.7 1495.7 742.3 1496.5 746.3 1497.4 746.2 1498.2 745.3 1499.1 739.7 1500 746.4 1500.8 739.7 1501.7 740.1 1502.5 738.2 1503.3 741.6 1504.2 738.4 1505 736.4 1505.9 741 1506.8 738.6 1507.6 741.6 1508.5 742.5 1509.3 741.3 1510.2 739.7 1511 738.9 1511.8 747.6 1512.7 736.1 1513.5 744.9 1514.4 740.8 1515.2 740.7 1516.1 736.3 1517 742.6 1517.8 740.7 1518.7 746.5 1519.5 740.5 1520.3 738.5 1521.2 738 1522 745.7 1522.9 743.9 1523.8 739.9 1524.6 746.8 1525.5 741.4 1526.3 739.5 1527.2 743.3 1528 738.8 1528.8 745 1529.7 742.1 1530.5 749.2 1531.4 749.5 1532.2 746.2 1533.1 749.6 1534 742.2 1534.8 746 1535.7 743.1 1536.5 739.1 1537.3 746 1538.2 749.9 1539 755.5 1539.9 745.3 1540.8 747.6 1541.6 752.7 1542.5 742.9 1543.3 752.2 1544.2 740 1545 740.7 1545.8 742.6 1546.7 740 1547.5 742.8 1548.4 733.6 1549.2 736.3 1550.1 735.8 1551 738.9 1551.8 742.1 1552.7 744.8 1553.5 743.8 1554.3 745 1555.2 744.6 1556 739.5 1556.9 739.2 1557.8 747.2 1558.6 739.9 1559.5 740.8 1560.3 743.4 1561.2 740.8 1562 739.3 1562.8 739.6 1563.7 743.5 1564.5 748.5 1565.4 736 1566.2 740.2 1567.1 743.8 1568 740.6 1568.8 736.9 1569.7 738.8 1570.5 739.9 1571.3 742 1572.2 732.8 1573 736.3 1573.9 741.2 1574.8 742 1575.6 741.4 1576.5 742.4 1577.3 745 1578.2 744.5 1579 753.4 1579.8 742.3 1580.7 743.5 1581.5 738.7 1582.4 745.1 1583.2 743 1584.1 741 1585 737.4 1585.8 749.5 1586.7 745.1 1587.5 747.7 1588.3 740.7 1589.2 747.6 1590 748.5 1590.9 752.7 1591.8 748.1 1592.6 749.4 1593.5 739.1 1594.3 743.4 1595.2 744 1596 742.9 1596.8 741.4 1597.7 740.2 1598.5 745.3 1599.4 738.7 1600.2 743.3 1601.1 743.9 1602 741.6 1602.8 745.1 1603.7 737.2 1604.5 744.3 1605.3 750.6 1606.2 743.7 1607 737.6 1607.9 747.8 1608.8 738.7 1609.6 748.1 1610.5 742.7 1611.3 737.4 1612.2 738.6 1613 745.8 1613.8 740.1 1614.7 738.8 1615.5 739.8 1616.4 739.3 1617.2 738.4 1618.1 744.1 1619 748 1619.8 743.6 1620.7 749.3 1621.5 747.2 1622.3 736.8 1623.2 743.9 1624 745.6 1624.9 733.3 1625.8 739.2 1626.6 743.7 1627.5 739.1 1628.3 742.3 1629.2 740.7 1630 738.2 1630.8 741.1 1631.7 740.2 1632.5 741.9 1633.4 741.9 1634.2 738.6 1635.1 736.7 1636 736 1636.8 739.1 1637.7 733.2 1638.5 741.9 1639.3 733.9 1640.2 744.3 1641 736.1 1641.9 734.5 1642.8 733.3 1643.6 736.5 1644.5 735.7 1645.3 732.8 1646.2 738 1647 740.4 1647.8 740.4 1648.7 744.8 1649.5 730.6 1650.4 738.3 1651.2 736.5 1652.1 740.5 1653 746.4 1653.8 735.1 1654.7 738.1 1655.5 741.1 1656.3 746.1 1657.2 746.6 1658 739.8 1658.9 744.9 1659.8 741.1 1660.6 745.2 1661.5 742.6 1662.3 745.3 1663.2 744.4 1664 741.4 1664.8 740.7 1665.7 745 1666.5 740.3 1667.4 740 1668.2 744.2 1669.1 748.1 1670 749.4 1670.8 744.2 1671.7 745.2 1672.5 746.6 1673.3 741.4 1674.2 747.1 1675 744.5 1675.9 740.4 1676.8 745.8 1677.6 741 1678.5 746.1 1679.3 738.6 1680.2 744.1 1681 747 1681.8 741.4 1682.7 741.8 1683.5 739 1684.4 741.2 1685.2 744.3 1686.1 749.7 1687 748.1 1687.8 741.6 1688.7 749.8 1689.5 742.9 1690.3 752 1691.2 749 1692 745.3 1692.9 738 1693.8 744.2 1694.6 739.3 1695.5 739 1696.3 740.9 1697.2 734.5 1698 739.3 1698.8 738.8 1699.7 739.5 1700.5 733.7 1701.4 734.6 1702.2 742.5 1703.1 743.5 1704 734.5 1704.8 744.5 1705.7 747.8 1706.5 742.4 1707.3 748.4 1708.2 743.3 1709 742 1709.9 738.2 1710.8 747.4 1711.6 739.4 1712.5 732 1713.3 739.4 1714.2 742 1715 739.3 1715.8 748.9 1716.7 739.3 1717.5 740.6 1718.4 742.7 1719.2 745.5 1720.1 738.5 1721 737.1 1721.8 740 1722.7 745.7 1723.5 743 1724.3 746.8 1725.2 742.1 1726 748.3 1726.9 744.9 1727.8 742.4 1728.6 742.1 1729.5 739.6 1730.3 738 1731.2 731.3 1732 738.7 1732.8 739.2 1733.7 744.2 1734.5 746.4 1735.4 746.3 1736.2 750.5 1737.1 754.8 1738 751.1 1738.8 749 1739.7 748.9 1740.5 751.5 1741.3 744.5 1742.2 746.3 1743 744.4 1743.9 740.2 1744.8 748.4 1745.6 748.9 1746.5 744.1 1747.3 744.3 1748.2 747 1749 751.4 1749.8 744.8 1750.7 752.5 1751.5 750.9 1752.4 739.8 1753.2 746.7 1754.1 749.1 1755 746.1 1755.8 750 1756.7 746.3 1757.5 746.3 1758.3 743.6 1759.2 738.4 1760 746.5 1760.9 741 1761.8 746.9 1762.6 743.4 1763.5 751.8 1764.3 742.3 1765.2 734.9 1766 750.8 1766.8 745.8 1767.7 749.7 1768.5 751.5 1769.4 743.2 1770.2 742.6 1771.1 748.4 1772 740.5 1772.8 737.1 1773.7 741.2 1774.5 743.2 1775.3 747 1776.2 743.3 1777 742.3 1777.9 745.9 1778.8 744.3 1779.6 746.4 1780.5 739.1 1781.3 751.3 1782.2 739.6 1783 747.9 1783.8 747.5 1784.7 741.4 1785.5 744.1 1786.4 742.7 1787.2 747.1 1788.1 748.1 1789 744.3 1789.8 744.6 1790.7 740.2 1791.5 743.9 1792.3 742.5 1793.2 739.1 1794 737.2 1794.9 745.9 1795.8 740.1 1796.6 742.5 1797.5 742 1798.3 745.8 1799.2 744.3 1800 739.3 1800.8 741.9 1801.7 741.4 1802.5 747.2 1803.4 753.6 1804.2 752.5 1805.1 753.4 1806 752.9 1806.8 744.7 1807.7 744.1 1808.5 740.8 1809.3 749.4 1810.2 747.7 1811 744.4 1811.9 749.8 1812.8 747.3 1813.6 749.9 1814.5 744.4 1815.3 741.9 1816.2 743.3 1817 742.2 1817.8 745.3 1818.7 741 1819.5 740.8 1820.4 742.9 1821.2 737.9 1822.1 740.5 1823 745.2 1823.8 739.4 1824.7 746.9 1825.5 741.3 1826.3 742.9 1827.2 745.5 1828 743.6 1828.9 738.3 1829.8 736.9 1830.6 743.2 1831.5 738.5 1832.3 740.6 1833.2 743.8 1834 740.5 1834.8 739.1 1835.7 737.1 1836.5 741.9 1837.4 750.2 1838.2 738.5 1839.1 736.9 1840 740.6 1840.8 746.1 1841.7 740.4 1842.5 741 1843.3 741.5 1844.2 742.9 1845 739.9 1845.9 739.7 1846.8 744.7 1847.6 751.6 1848.5 738.4 1849.3 743.1 1850.2 742.5 1851 741.3 1851.8 742.8 1852.7 738.9 1853.5 743.2 1854.4 736.2 1855.2 733.3 1856.1 737.8 1857 741.3 1857.8 750.9 1858.7 741.3 1859.5 749.4 1860.3 738.4 1861.2 747.6 1862 749.3 1862.9 743.8 1863.8 747.6 1864.6 743.7 1865.5 743.4 1866.3 744.5 1867.2 747 1868 736.2 1868.8 746.4 1869.7 738.9 1870.5 736.4 1871.4 741.8 1872.2 738.1 1873.1 746.9 1874 733.9 1874.8 737.6 1875.7 736.8 1876.5 743.6 1877.3 736.1 1878.2 734.3 1879 731.6 1879.9 737 1880.8 744.5 1881.6 742.5 1882.5 750.2 1883.3 740 1884.2 745.1 1885 739.8 1885.8 743.4 1886.7 740.3 1887.5 740.7 1888.4 735.3 1889.2 745.8 1890.1 740.4 1891 741.7 1891.8 741.9 1892.7 742.2 1893.5 748.9 1894.3 748.5 1895.2 745.2 1896 740.3 1896.9 744.4 1897.8 742.1 1898.6 735.6 1899.5 742.3 1900.3 745.9 1901.2 742.7 1902 743.6 1902.8 747.2 1903.7 746.2 1904.5 734.7 1905.4 743 1906.2 743.2 1907.1 745.7 1908 743.8 1908.8 747.6 1909.7 739.1 1910.5 744.7 1911.3 747.3 1912.2 738.5 1913 739.8 1913.9 737.7 1914.8 740.3 1915.6 743.2 1916.5 737.2 1917.3 746.5 1918.2 737.8 1919 743.9 1919.8 744 1920.7 738.8 1921.5 740.8 1922.4 745.3 1923.2 741.1 1924.1 739.2 1924.9 742.9 1925.8 738.3 1926.7 743.9 1927.5 743.4 1928.3 747.7 1929.2 750 1930 739.4 1930.9 743.2 1931.8 745.7 1932.6 751.3 1933.4 740.7 1934.3 740.4 1935.2 736.7 1936 747.4 1936.8 737.2 1937.7 741 1938.5 742.9 1939.4 735.6 1940.2 736.2 1941.1 737.4 1941.9 742.3 1942.8 744.5 1943.7 738 1944.5 747.3 1945.3 737.7 1946.2 741.8 1947 740.6 1947.9 738.4 1948.8 741.9 1949.6 743.3 1950.4 738.6 1951.3 742.9 1952.2 738.8 1953 745.4 1953.8 737.5 1954.7 737.9 1955.5 739.7 1956.4 745.8 1957.2 749.8 1958.1 739.9 1958.9 745.3 1959.8 743.9 1960.7 738.5 1961.5 742.1 1962.3 742.3 1963.2 739.5 1964 735 1964.9 743.5 1965.8 741.8 1966.6 743.9 1967.4 745.3 1968.3 751 1969.2 742.7 1970 747.9 1970.8 745.4 1971.7 742.5 1972.5 740.3 1973.4 737.8 1974.2 734.3 1975.1 742.4 1975.9 742.5 1976.8 737.8 1977.7 744.2 1978.5 742.7" fill="none" stroke="#000" stroke-width="2" stroke-linejoin="round"/>
<path d="M1409 798.7 1409.8 792.7 1410.7 806.7 1411.5 800.3 1412.4 798.7 1413.2 795.3 1414.1 804.5 1415 794.1 1415.8 803.3 1416.7 797.3 1417.5 799.7 1418.3 797.1 1419.2 800.2 1420 800.2 1420.9 790.3 1421.8 800.8 1422.6 798.8 1423.5 799.7 1424.3 801.6 1425.2 786.4 1426 804.4 1426.8 787.3 1427.7 792.4 1428.5 797.2 1429.4 800.2 1430.2 797.4 1431.1 795.7 1432 797.2 1432.8 789.7 1433.7 796.1 1434.5 809.1 1435.3 783.6 1436.2 795.1 1437 795.9 1437.9 792.2 1438.8 796.1 1439.6 796.9 1440.5 793.9 1441.3 792.7 1442.2 785.4 1443 792.8 1443.8 786.5 1444.7 785 1445.5 802.7 1446.4 789.9 1447.2 790.9 1448.1 784 1449 796.8 1449.8 791.2 1450.7 795.3 1451.5 804.8 1452.3 804.6 1453.2 797 1454 801.1 1454.9 798 1455.8 793.8 1456.6 789.9 1457.5 798.7 1458.3 789.9 1459.2 800.4 1460 797.4 1460.8 789 1461.7 788.1 1462.5 804.9 1463.4 780.6 1464.2 791.3 1465.1 789.1 1466 792.4 1466.8 790.6 1467.7 792.7 1468.5 791.4 1469.3 788.1 1470.2 782.6 1471 791 1471.9 798.2 1472.8 800.7 1473.6 805.4 1474.5 799.5 1475.3 794 1476.2 795.5 1477 797 1477.8 798.7 1478.7 798.4 1479.5 798.2 1480.4 790.1 1481.2 796.6 1482.1 802.6 1483 800.7 1483.8 801.1 1484.7 788 1485.5 796.1 1486.3 779 1487.2 792 1488 796.5 1488.9 795.4 1489.8 801.2 1490.6 793.8 1491.5 792.2 1492.3 792.3 1493.2 781.1 1494 791.3 1494.8 779.3 1495.7 785.8 1496.5 785.1 1497.4 784.1 1498.2 790 1499.1 794.7 1500 794.3 1500.8 811.5 1501.7 797.9 1502.5 804.4 1503.3 809.5 1504.2 804 1505 804.4 1505.9 789.9 1506.8 797.3 1507.6 801.8 1508.5 812.7 1509.3 806.3 1510.2 812.4 1511 821.8 1511.8 811.4 1512.7 808.3 1513.5 802.4 1514.4 806 1515.2 788.6 1516.1 793.3 1517 794.5 1517.8 798.1 1518.7 796.9 1519.5 785.6 1520.3 797.2 1521.2 792.5 1522 811.6 1522.9 795.4 1523.8 801.6 1524.6 793 1525.5 795.2 1526.3 794.1 1527.2 805.8 1528 810.6 1528.8 797.9 1529.7 805.9 1530.5 804.7 1531.4 805.1 1532.2 793.5 1533.1 803.2 1534 789.6 1534.8 797.9 1535.7 796 1536.5 799.2 1537.3 807.8 1538.2 804.1 1539 813.6 1539.9 794.9 1540.8 789.4 1541.6 799.1 1542.5 795.7 1543.3 794.5 1544.2 806 1545 808.4 1545.8 793.8 1546.7 799.4 1547.5 807.3 1548.4 797.3 1549.2 809.6 1550.1 799.5 1551 801.5 1551.8 799.1 1552.7 790.9 1553.5 793.8 1554.3 789.7 1555.2 790.9 1556 799.2 1556.9 797.8 1557.8 793.6 1558.6 796.3 1559.5 802.9 1560.3 796.4 1561.2 797.1 1562 805.7 1562.8 800.5 1563.7 796.8 1564.5 810.8 1565.4 792.3 1566.2 796.1 1567.1 795.8 1568 791.1 1568.8 801.8 1569.7 801.7 1570.5 794.8 1571.3 786.6 1572.2 798.8 1573 789.7 1573.9 802.7 1574.8 804.1 1575.6 800.6 1576.5 804.9 1577.3 799.2 1578.2 793.5 1579 796.3 1579.8 804.6 1580.7 787.3 1581.5 799.7 1582.4 791.8 1583.2 811.1 1584.1 792.1 1585 788.7 1585.8 805.9 1586.7 805.2 1587.5 795.4 1588.3 796.7 1589.2 789.2 1590 794.8 1590.9 800 1591.8 796.3 1592.6 793.4 1593.5 789.5 1594.3 797.4 1595.2 800.2 1596 798.1 1596.8 784.3 1597.7 793.4 1598.5 789.2 1599.4 792.7 1600.2 797.6 1601.1 809.9 1602 796.7 1602.8 794.8 1603.7 792.5 1604.5 799.3 1605.3 788.7 1606.2 802.2 1607 803.8 1607.9 794.1 1608.8 806.6 1609.6 809.5 1610.5 793.7 1611.3 803.1 1612.2 797 1613 795.5 1613.8 802.4 1614.7 797.8 1615.5 786.6 1616.4 783.3 1617.2 791.8 1618.1 783.8 1619 785.7 1619.8 792.1 1620.7 792.3 1621.5 798.3 1622.3 808 1623.2 791.4 1624 806 1624.9 790.7 1625.8 798.7 1626.6 804.3 1627.5 811.5 1628.3 790.2 1629.2 808.6 1630 799.3 1630.8 800.3 1631.7 801.6 1632.5 808.5 1633.4 811.1 1634.2 799.6 1635.1 793.8 1636 793.3 1636.8 787.4 1637.7 793.1 1638.5 808.8 1639.3 794 1640.2 794.6 1641 794.3 1641.9 789.5 1642.8 785.7 1643.6 784.8 1644.5 789.2 1645.3 803.9 1646.2 803.7 1647 803.1 1647.8 799.5 1648.7 802.8 1649.5 801.3 1650.4 793 1651.2 790.3 1652.1 797.4 1653 792.2 1653.8 791.5 1654.7 794.1 1655.5 792.2 1656.3 786.7 1657.2 801.8 1658 797.6 1658.9 798 1659.8 804.5 1660.6 807.5 1661.5 798 1662.3 781.5 1663.2 787.3 1664 793.8 1664.8 796.3 1665.7 804.8 1666.5 800.8 1667.4 796.4 1668.2 801.2 1669.1 792.2 1670 799.7 1670.8 785.6 1671.7 801.8 1672.5 792.7 1673.3 798.8 1674.2 794.3 1675 790.3 1675.9 798.8 1676.8 801.6 1677.6 802.8 1678.5 800.9 1679.3 800 1680.2 792 1681 783.5 1681.8 789 1682.7 784.8 1683.5 793.2 1684.4 795.7 1685.2 800.4 1686.1 799.1 1687 805.8 1687.8 804.7 1688.7 803.6 1689.5 800.4 1690.3 801 1691.2 800.2 1692 794 1692.9 780.4 1693.8 787.9 1694.6 799.7 1695.5 780.7 1696.3 794 1697.2 791.3 1698 802.3 1698.8 796.4 1699.7 793 1700.5 795 1701.4 786.5 1702.2 806.4 1703.1 800.5 1704 792.5 1704.8 794.6 1705.7 800.8 1706.5 794.2 1707.3 792.7 1708.2 800.3 1709 793.8 1709.9 795.9 1710.8 798.7 1711.6 789.8 1712.5 802.9 1713.3 800.7 1714.2 791.5 1715 791 1715.8 798.8 1716.7 800.1 1717.5 795.3 1718.4 798.7 1719.2 799.8 1720.1 800.3 1721 805 1721.8 810.9 1722.7 811.7 1723.5 796.4 1724.3 799.4 1725.2 795.7 1726 797.4 1726.9 794.5 1727.8 802.6 1728.6 799.8 1729.5 792.1 1730.3 803.6 1731.2 795.3 1732 802.4 1732.8 807.2 1733.7 804.2 1734.5 803.3 1735.4 809 1736.2 810.8 1737.1 804.6 1738 812.5 1738.8 804.4 1739.7 795.7 1740.5 801.2 1741.3 796 1742.2 800.9 1743 803 1743.9 803.1 1744.8 808.9 1745.6 801.1 1746.5 801.7 1747.3 796.7 1748.2 789.5 1749 793.5 1749.8 796.2 1750.7 781.9 1751.5 797.4 1752.4 798.7 1753.2 803.3 1754.1 799.9 1755 803.2 1755.8 796.3 1756.7 792.7 1757.5 796.5 1758.3 787.7 1759.2 800.1 1760 787.7 1760.9 802.3 1761.8 793 1762.6 794.7 1763.5 792.9 1764.3 798.5 1765.2 801 1766 792.6 1766.8 790.2 1767.7 797.8 1768.5 788.9 1769.4 798.8 1770.2 801.2 1771.1 792.3 1772 811.8 1772.8 796 1773.7 792.3 1774.5 809.2 1775.3 802.5 1776.2 796.5 1777 796.9 1777.9 802 1778.8 801.6 1779.6 793.1 1780.5 789.2 1781.3 794.2 1782.2 802.9 1783 801.4 1783.8 804.4 1784.7 805.1 1785.5 810.9 1786.4 800.1 1787.2 800.4 1788.1 789.6 1789 799.5 1789.8 790.5 1790.7 794.5 1791.5 797.4 1792.3 792.3 1793.2 794 1794 783.1 1794.9 793.1 1795.8 796.6 1796.6 796.3 1797.5 799.1 1798.3 794 1799.2 801.5 1800 794.8 1800.8 795.8 1801.7 801.7 1802.5 803.2 1803.4 799.7 1804.2 789.3 1805.1 793.4 1806 792.6 1806.8 795.3 1807.7 802.8 1808.5 800.3 1809.3 788.2 1810.2 796.4 1811 795.9 1811.9 791.3 1812.8 793.2 1813.6 801.9 1814.5 796.4 1815.3 798.4 1816.2 798.9 1817 785.2 1817.8 803.6 1818.7 806.9 1819.5 811.2 1820.4 810.6 1821.2 791 1822.1 794.5 1823 791.1 1823.8 796.3 1824.7 791.3 1825.5 800.6 1826.3 804.5 1827.2 805.9 1828 806 1828.9 810.6 1829.8 805.6 1830.6 805.6 1831.5 806.9 1832.3 803.1 1833.2 802.4 1834 801.6 1834.8 792.5 1835.7 782.8 1836.5 783 1837.4 794.4 1838.2 795.6 1839.1 794.8 1840 777.8 1840.8 794.7 1841.7 803.9 1842.5 788.3 1843.3 785.8 1844.2 791.4 1845 780.9 1845.9 778.9 1846.8 791.1 1847.6 781.3 1848.5 791.2 1849.3 787 1850.2 791.2 1851 791.7 1851.8 802.1 1852.7 800.7 1853.5 799.7 1854.4 796.4 1855.2 793.3 1856.1 800.3 1857 798.5 1857.8 800.1 1858.7 790.8 1859.5 800.7 1860.3 791.5 1861.2 809.9 1862 812 1862.9 809.7 1863.8 803.7 1864.6 802 1865.5 796 1866.3 790.8 1867.2 797.9 1868 797.3 1868.8 788.6 1869.7 783.1 1870.5 787.9 1871.4 789.6 1872.2 789.3 1873.1 783.9 1874 785.4 1874.8 791.8 1875.7 799.6 1876.5 781.9 1877.3 791.9 1878.2 792.3 1879 798.3 1879.9 798.6 1880.8 804.4 1881.6 798.2 1882.5 793.5 1883.3 798 1884.2 798.5 1885 803.4 1885.8 802.4 1886.7 801.4 1887.5 796.4 1888.4 793 1889.2 790.6 1890.1 791.9 1891 797.1 1891.8 799.5 1892.7 790.2 1893.5 794.5 1894.3 797.7 1895.2 809.5 1896 796.7 1896.9 801.3 1897.8 786.8 1898.6 798.3 1899.5 789.8 1900.3 794.2 1901.2 799.7 1902 788.9 1902.8 784.8 1903.7 799 1904.5 792.9 1905.4 797.7 1906.2 802 1907.1 789 1908 787.8 1908.8 791.2 1909.7 788 1910.5 793.5 1911.3 803.3 1912.2 792.5 1913 787.5 1913.9 796.1 1914.8 795.8 1915.6 781.7 1916.5 793.7 1917.3 791.7 1918.2 798.1 1919 793.6 1919.8 796.6 1920.7 793.5 1921.5 811.1 1922.4 802.4 1923.2 803.2 1924.1 803.1 1924.9 799.9 1925.8 805.7 1926.7 800.9 1927.5 810.5 1928.3 800.4 1929.2 803.3 1930 787.5 1930.9 791.6 1931.8 792.6 1932.6 787.9 1933.4 793.7 1934.3 795 1935.2 792.6 1936 803 1936.8 795.1 1937.7 797.9 1938.5 788.4 1939.4 794.7 1940.2 792.1 1941.1 793 1941.9 803.4 1942.8 800.6 1943.7 793.3 1944.5 793.7 1945.3 802.2 1946.2 793.1 1947 795.2 1947.9 803.5 1948.8 803.5 1949.6 798.3 1950.4 798.9 1951.3 800.7 1952.2 797.6 1953 797.5 1953.8 802.8 1954.7 798.3 1955.5 797.9 1956.4 796.2 1957.2 802.3 1958.1 795.4 1958.9 800.6 1959.8 792.5 1960.7 796.6 1961.5 799.7 1962.3 794 1963.2 797.4 1964 795.3 1964.9 790.7 1965.8 794.6 1966.6 791.3 1967.4 787.9 1968.3 792.8 1969.2 799.6 1970 793.7 1970.8 795.8 1971.7 808.4 1972.5 798.7 1973.4 800.3 1974.2 791.2 1975.1 800.1 1975.9 801.1 1976.8 790.5 1977.7 797.3 1978.5 786.5" fill="none" stroke="#000" stroke-width="2" stroke-linejoin="round"/>
<path d="M1409 850.7 1409.8 848.5 1410.7 845.7 1411.5 853.6 1412.4 852.2 1413.2 844.3 1414.1 847.1 1415 843.8 1415.8 843.2 1416.7 857 1417.5 847.9 1418.3 852.8 1419.2 851.5 1420 850.6 1420.9 845.6 1421.8 845 1422.6 850.5 1423.5 853 1424.3 840.3 1425.2 845.4 1426 850.1 1426.8 856.9 1427.7 855 1428.5 855.7 1429.4 852.5 1430.2 847 1431.1 850.4 1432 856.3 1432.8 851.4 1433.7 845.3 1434.5 857 1435.3 852.9 1436.2 854.7 1437 861.3 1437.9 851.6 1438.8 852.1 1439.6 844.8 1440.5 856.4 1441.3 857.7 1442.2 853.7 1443 852.9 1443.8 856.7 1444.7 854.5 1445.5 854.7 1446.4 852.6 1447.2 852.7 1448.1 857.2 1449 851.5 1449.8 849.6 1450.7 848.8 1451.5 850.4 1452.3 850.9 1453.2 851.5 1454 849.3 1454.9 846.8 1455.8 840.5 1456.6 850.7 1457.5 844.8 1458.3 849.7 1459.2 856.7 1460 853.1 1460.8 848.4 1461.7 854.5 1462.5 849.3 1463.4 847.9 1464.2 855.6 1465.1 853 1466 863.2 1466.8 843.4 1467.7 847.4 1468.5 849.4 1469.3 854.7 1470.2 850 1471 859.8 1471.9 854 1472.8 849.5 1473.6 851 1474.5 850.8 1475.3 850.3 1476.2 848.8 1477 851 1477.8 856.3 1478.7 855.4 1479.5 859.3 1480.4 846.9 1481.2 845.9 1482.1 859.9 1483 852.2 1483.8 851.8 1484.7 845.3 1485.5 849.8 1486.3 847.6 1487.2 847.5 1488 853.6 1488.9 846.1 1489.8 850.9 1490.6 842.6 1491.5 852.4 1492.3 845.9 1493.2 859 1494 845.3 1494.8 858.3 1495.7 847.1 1496.5 843 1497.4 850.8 1498.2 851.7 1499.1 848.1 1500 848 1500.8 843.3 1501.7 851.9 1502.5 853.9 1503.3 842.3 1504.2 850.6 1505 856 1505.9 840.3 1506.8 849.6 1507.6 848.6 1508.5 843.2 1509.3 847.7 1510.2 842.1 1511 849.9 1511.8 855.8 1512.7 847.9 1513.5 847.4 1514.4 842.1 1515.2 860 1516.1 860.1 1517 848.8 1517.8 850.4 1518.7 848.8 1519.5 854.9 1520.3 842 1521.2 852.2 1522 839.7 1522.9 852.4 1523.8 845.6 1524.6 853.4 1525.5 848.9 1526.3 843.4 1527.2 843.3 1528 842.2 1528.8 855.8 1529.7 853.8 1530.5 846.5 1531.4 843.2 1532.2 851.2 1533.1 849.5 1534 848 1534.8 851.1 1535.7 853.5 1536.5 850.5 1537.3 854 1538.2 852.5 1539 855 1539.9 852 1540.8 857.4 1541.6 853.3 1542.5 849.4 1543.3 850 1544.2 847.4 1545 847.7 1545.8 851.6 1546.7 853.7 1547.5 842.8 1548.4 849.1 1549.2 850.5 1550.1 845.9 1551 854 1551.8 852.8 1552.7 853.4 1553.5 849.1 1554.3 850.1 1555.2 855.1 1556 860.5 1556.9 849 1557.8 840.7 1558.6 856 1559.5 853.2 1560.3 860.1 1561.2 854.2 1562 861.4 1562.8 858.6 1563.7 849.7 1564.5 850.9 1565.4 850.7 1566.2 845 1567.1 854 1568 847.7 1568.8 854 1569.7 849.1 1570.5 852.6 1571.3 851.4 1572.2 840.2 1573 848.2 1573.9 853.8 1574.8 850.3 1575.6 859.2 1576.5 858.2 1577.3 848.6 1578.2 852.3 1579 853.6 1579.8 847.8 1580.7 857.6 1581.5 853.3 1582.4 849.7 1583.2 845.8 1584.1 845.4 1585 845.9 1585.8 852.3 1586.7 844.5 1587.5 851.9 1588.3 858.7 1589.2 843.6 1590 848.1 1590.9 856.8 1591.8 853.3 1592.6 847.9 1593.5 850.8 1594.3 850.4 1595.2 853.7 1596 846.8 1596.8 849.9 1597.7 851.1 1598.5 853.7 1599.4 851.2 1600.2 845.5 1601.1 845.6 1602 856 1602.8 847.8 1603.7 850 1604.5 849.8 1605.3 851.7 1606.2 855.9 1607 850 1607.9 853.2 1608.8 851.4 1609.6 849.7 1610.5 843.5 1611.3 846.9 1612.2 853.9 1613 849.5 1613.8 850.3 1614.7 851.3 1615.5 847.3 1616.4 848.5 1617.2 852.3 1618.1 847 1619 845 1619.8 853.8 1620.7 854.5 1621.5 850.7 1622.3 846.5 1623.2 854.7 1624 851.4 1624.9 841.8 1625.8 844.1 1626.6 842.2 1627.5 840.7 1628.3 856.8 1629.2 858.8 1630 843.5 1630.8 854.6 1631.7 850.1 1632.5 850.6 1633.4 852.7 1634.2 853.8 1635.1 851.8 1636 850.7 1636.8 856.1 1637.7 860 1638.5 845.1 1639.3 846.2 1640.2 848.3 1641 845.8 1641.9 848.9 1642.8 855.3 1643.6 853.2 1644.5 850.3 1645.3 850 1646.2 845.4 1647 850.1 1647.8 842.2 1648.7 837.6 1649.5 838.7 1650.4 840.8 1651.2 848.3 1652.1 843.2 1653 843.2 1653.8 855.6 1654.7 846.6 1655.5 852.5 1656.3 848.6 1657.2 849.3 1658 842.2 1658.9 850.4 1659.8 849.1 1660.6 848.6 1661.5 856.4 1662.3 853.6 1663.2 852.7 1664 853.3 1664.8 836.1 1665.7 845.1 1666.5 836.9 1667.4 838.1 1668.2 848.3 1669.1 849.3 1670 843.6 1670.8 853.8 1671.7 854.6 1672.5 858.2 1673.3 856.7 1674.2 851.7 1675 844.7 1675.9 849.7 1676.8 851.4 1677.6 851.2 1678.5 851.2 1679.3 847 1680.2 847.8 1681 843.9 1681.8 844.4 1682.7 847.8 1683.5 849.3 1684.4 840.4 1685.2 844.1 1686.1 845.5 1687 849.6 1687.8 847.1 1688.7 858.1 1689.5 848.8 1690.3 846.2 1691.2 850 1692 849.5 1692.9 850.9 1693.8 851.4 1694.6 854.5 1695.5 852.4 1696.3 847.9 1697.2 840.8 1698 848 1698.8 843.5 1699.7 847.6 1700.5 850.9 1701.4 849.1 1702.2 858.4 1703.1 849.1 1704 846.9 1704.8 846.9 1705.7 852.3 1706.5 842.1 1707.3 847.9 1708.2 845.9 1709 850.8 1709.9 846.1 1710.8 853.6 1711.6 859.2 1712.5 851.6 1713.3 858.4 1714.2 849.1 1715 850.4 1715.8 846.2 1716.7 854.7 1717.5 855.5 1718.4 854.2 1719.2 856.9 1720.1 849.7 1721 858.6 1721.8 851 1722.7 846.4 1723.5 848.4 1724.3 849.1 1725.2 843.3 1726 842.9 1726.9 854.1 1727.8 849.3 1728.6 851.6 1729.5 857.5 1730.3 849.9 1731.2 843.3 1732 850.4 1732.8 844.4 1733.7 854.7 1734.5 855.3 1735.4 859.7 1736.2 851.8 1737.1 847.3 1738 854.9 1738.8 854.5 1739.7 848.9 1740.5 844.8 1741.3 843.6 1742.2 842.6 1743 846.8 1743.9 839.3 1744.8 846.2 1745.6 851.7 1746.5 849.4 1747.3 846.8 1748.2 846.4 1749 849.8 1749.8 851.7 1750.7 842.6 1751.5 859.3 1752.4 851.4 1753.2 848.8 1754.1 843.4 1755 844.7 1755.8 851.6 1756.7 850 1757.5 839.5 1758.3 842.6 1759.2 845 1760 841.5 1760.9 854.2 1761.8 852.5 1762.6 847.3 1763.5 843.4 1764.3 850.8 1765.2 848.2 1766 847.2 1766.8 843.2 1767.7 850.2 1768.5 846.3 1769.4 851.2 1770.2 849.8 1771.1 844.2 1772 846.8 1772.8 843.9 1773.7 848 1774.5 843.7 1775.3 851.1 1776.2 839.1 1777 849.9 1777.9 848.6 1778.8 852.5 1779.6 846 1780.5 851.7 1781.3 854.5 1782.2 852.2 1783 853.8 1783.8 853.4 1784.7 851.7 1785.5 851.3 1786.4 846.7 1787.2 853.6 1788.1 852.6 1789 859.4 1789.8 849.1 1790.7 859.2 1791.5 856.9 1792.3 842 1793.2 851.3 1794 857.3 1794.9 851.6 1795.8 854.9 1796.6 856.1 1797.5 848.6 1798.3 853.6 1799.2 850.9 1800 855.9 1800.8 838.7 1801.7 845.9 1802.5 841 1803.4 844.6 1804.2 848 1805.1 849.1 1806 849.8 1806.8 855.3 1807.7 848.3 1808.5 854.8 1809.3 850.2 1810.2 843.6 1811 849.8 1811.9 850.8 1812.8 850.7 1813.6 846.4 1814.5 852.7 1815.3 862.3 1816.2 862 1817 849.8 1817.8 852.5 1818.7 850.6 1819.5 845.8 1820.4 844.6 1821.2 849.5 1822.1 855.1 1823 855 1823.8 858.4 1824.7 863.2 1825.5 853.1 1826.3 855.1 1827.2 848.5 1828 852.5 1828.9 854.3 1829.8 856.8 1830.6 846.8 1831.5 849.1 1832.3 851.5 1833.2 851.7 1834 845.3 1834.8 853.1 1835.7 847.3 1836.5 846.2 1837.4 844.9 1838.2 848.4 1839.1 848.5 1840 852.8 1840.8 860.6 1841.7 856 1842.5 858.6 1843.3 856.5 1844.2 849 1845 845.6 1845.9 854.4 1846.8 848 1847.6 850.5 1848.5 849.3 1849.3 848 1850.2 860.5 1851 867.1 1851.8 861.4 1852.7 850 1853.5 853.3 1854.4 857 1855.2 850.8 1856.1 854.6 1857 856 1857.8 861.6 1858.7 845 1859.5 850.4 1860.3 843.2 1861.2 837 1862 849.3 1862.9 838.4 1863.8 845.8 1864.6 851.1 1865.5 848.6 1866.3 846.4 1867.2 852.3 1868 845.9 1868.8 845.9 1869.7 855.7 1870.5 851.3 1871.4 847.5 1872.2 845.4 1873.1 847.6 1874 853.8 1874.8 846.4 1875.7 849.7 1876.5 856.2 1877.3 856.8 1878.2 845 1879 855.9 1879.9 837.9 1880.8 849.4 1881.6 838.6 1882.5 839.8 1883.3 839.6 1884.2 839 1885 842.9 1885.8 842.8 1886.7 854.4 1887.5 846.5 1888.4 844.1 1889.2 850 1890.1 847 1891 850.6 1891.8 848.7 1892.7 850.6 1893.5 851.1 1894.3 852.6 1895.2 854 1896 851 1896.9 847.1 1897.8 844.5 1898.6 841.2 1899.5 851.4 1900.3 842.8 1901.2 844 1902 847.9 1902.8 852.5 1903.7 857.6 1904.5 854.6 1905.4 847.9 1906.2 856.3 1907.1 853.6 1908 852.7 1908.8 860.3 1909.7 855.1 1910.5 855.2 1911.3 858 1912.2 855.9 1913 855.5 1913.9 853.7 1914.8 850 1915.6 850.5 1916.5 852.4 1917.3 852.7 1918.2 856 1919 845.4 1919.8 851.8 1920.7 840.9 1921.5 857.3 1922.4 855.7 1923.2 849.9 1924.1 850.4 1924.9 851.6 1925.8 848.3 1926.7 853.3 1927.5 856.7 1928.3 848.4 1929.2 852.9 1930 848.4 1930.9 858.3 1931.8 845.5 1932.6 850.9 1933.4 855.5 1934.3 856.4 1935.2 854 1936 858.3 1936.8 853.6 1937.7 856.7 1938.5 846.5 1939.4 848.7 1940.2 855.2 1941.1 856.5 1941.9 856.6 1942.8 845.5 1943.7 861.4 1944.5 849.1 1945.3 857.9 1946.2 849.8 1947 841.7 1947.9 849 1948.8 846.3 1949.6 850.1 1950.4 847.1 1951.3 851.9 1952.2 852.6 1953 847.9 1953.8 853.1 1954.7 847.6 1955.5 847.5 1956.4 844.7 1957.2 851.5 1958.1 847.6 1958.9 840.5 1959.8 843.4 1960.7 849 1961.5 848.8 1962.3 850.5 1963.2 848.4 1964 852.1 1964.9 851.9 1965.8 854.8 1966.6 850.1 1967.4 857 1968.3 849 1969.2 852.8 1970 857.3 1970.8 844.6 1971.7 849.1 1972.5 856.8 1973.4 850.6 1974.2 850.5 1975.1 860.7 1975.9 860.2 1976.8 855.7 1977.7 852.4 1978.5 857.7" fill="none" stroke="#000" stroke-width="2" stroke-linejoin="round"/>
<path d="M1409 922.1 1409.8 914.7 1410.7 915.9 1411.5 912.1 1412.4 910 1413.2 906.6 1414.1 912.4 1415 910.9 1415.8 904 1416.7 910.9 1417.5 912.4 1418.3 916.6 1419.2 913.2 1420 910 1420.9 907.6 1421.8 912.1 1422.6 913.7 1423.5 911.8 1424.3 908.6 1425.2 910.3 1426 904.2 1426.8 912 1427.7 916.1 1428.5 912.6 1429.4 915.2 1430.2 920.4 1431.1 916.1 1432 920.8 1432.8 913.7 1433.7 913.7 1434.5 907.5 1435.3 911.7 1436.2 917.8 1437 908.4 1437.9 919.3 1438.8 906.6 1439.6 913.3 1440.5 915.4 1441.3 910.7 1442.2 914.5 1443 918.8 1443.8 915.9 1444.7 908.1 1445.5 918.6 1446.4 919.2 1447.2 915.1 1448.1 913.9 1449 913.9 1449.8 908 1450.7 913.2 1451.5 921.6 1452.3 919.9 1453.2 918.6 1454 913.7 1454.9 912.6 1455.8 914.3 1456.6 911 1457.5 909.7 1458.3 907.3 1459.2 911.2 1460 907.2 1460.8 909.7 1461.7 914.3 1462.5 904.8 1463.4 913.5 1464.2 908.1 1465.1 902.3 1466 906.8 1466.8 907 1467.7 914.9 1468.5 915.5 1469.3 920.3 1470.2 910.5 1471 910.6 1471.9 910.9 1472.8 917.4 1473.6 915.2 1474.5 914.2 1475.3 912 1476.2 922.6 1477 908.9 1477.8 913 1478.7 912.3 1479.5 914.5 1480.4 906.4 1481.2 915.7 1482.1 910 1483 906.8 1483.8 907.8 1484.7 910.3 1485.5 908.8 1486.3 914.5 1487.2 908.5 1488 915 1488.9 922.7 1489.8 918.5 1490.6 922 1491.5 921.2 1492.3 910 1493.2 920.1 1494 914.6 1494.8 918.6 1495.7 920.9 1496.5 919.7 1497.4 918.6 1498.2 911.7 1499.1 917.5 1500 913.4 1500.8 914.5 1501.7 916.9 1502.5 909.7 1503.3 917.5 1504.2 918.3 1505 910.7 1505.9 905 1506.8 919.2 1507.6 914.4 1508.5 914.3 1509.3 912.7 1510.2 910.4 1511 911 1511.8 915 1512.7 916 1513.5 915.5 1514.4 913.6 1515.2 916.6 1516.1 910.2 1517 907.1 1517.8 907.2 1518.7 906 1519.5 913 1520.3 906.2 1521.2 909.8 1522 906.7 1522.9 911.1 1523.8 907.9 1524.6 910 1525.5 907.8 1526.3 905.3 1527.2 915.4 1528 917.9 1528.8 912.1 1529.7 911.1 1530.5 911 1531.4 909.7 1532.2 917.2 1533.1 912.8 1534 915.9 1534.8 913.8 1535.7 908.6 1536.5 918.4 1537.3 910.5 1538.2 908.8 1539 918 1539.9 916.4 1540.8 914 1541.6 913.6 1542.5 914.1 1543.3 917.9 1544.2 924.8 1545 921.1 1545.8 928.4 1546.7 922.9 1547.5 926.6 1548.4 918.8 1549.2 920.1 1550.1 917.2 1551 914 1551.8 913.2 1552.7 911 1553.5 912.6 1554.3 920.7 1555.2 915 1556 918.9 1556.9 918.6 1557.8 915.4 1558.6 918.1 1559.5 916.3 1560.3 915.9 1561.2 915.9 1562 914.9 1562.8 914.1 1563.7 924.4 1564.5 917.7 1565.4 918.1 1566.2 920.9 1567.1 906.2 1568 917.4 1568.8 916.7 1569.7 916.2 1570.5 913.9 1571.3 914.8 1572.2 920.3 1573 921.2 1573.9 918.4 1574.8 916.6 1575.6 916.4 1576.5 915.3 1577.3 911.8 1578.2 916.7 1579 912.2 1579.8 908.2 1580.7 913.9 1581.5 912.3 1582.4 913 1583.2 914 1584.1 911.8 1585 915.9 1585.8 916.7 1586.7 913.3 1587.5 920.6 1588.3 922.2 1589.2 917.9 1590 917.4 1590.9 917.5 1591.8 918.4 1592.6 913.5 1593.5 918 1594.3 917.3 1595.2 916.2 1596 919.7 1596.8 916.4 1597.7 917 1598.5 919.8 1599.4 922 1600.2 913.6 1601.1 911.4 1602 921.1 1602.8 913.4 1603.7 917.9 1604.5 915.8 1605.3 915.3 1606.2 912.9 1607 909.1 1607.9 916.6 1608.8 912.8 1609.6 909.2 1610.5 912.4 1611.3 908.7 1612.2 920.2 1613 914.4 1613.8 909 1614.7 911 1615.5 907.9 1616.4 906 1617.2 906.1 1618.1 909.2 1619 913.1 1619.8 913.7 1620.7 913.9 1621.5 917.7 1622.3 920.6 1623.2 914.9 1624 921.3 1624.9 920.7 1625.8 910.4 1626.6 913.5 1627.5 911.9 1628.3 914.4 1629.2 918.2 1630 915.5 1630.8 908.7 1631.7 913 1632.5 911 1633.4 917.4 1634.2 911.4 1635.1 909.9 1636 911.9 1636.8 911.5 1637.7 908 1638.5 910.8 1639.3 910.7 1640.2 910.1 1641 909.4 1641.9 913.9 1642.8 913.4 1643.6 918.4 1644.5 910.8 1645.3 912.6 1646.2 912.9 1647 919.9 1647.8 911.5 1648.7 915.5 1649.5 899.2 1650.4 906.3 1651.2 918.8 1652.1 910 1653 917.3 1653.8 911.9 1654.7 910 1655.5 915.2 1656.3 912 1657.2 910.1 1658 917.4 1658.9 908 1659.8 913.3 1660.6 921.4 1661.5 924 1662.3 917.4 1663.2 921.4 1664 918.3 1664.8 911.8 1665.7 918 1666.5 912.9 1667.4 911.2 1668.2 909.9 1669.1 912.3 1670 902.4 1670.8 909.6 1671.7 906.6 1672.5 904 1673.3 906.7 1674.2 907.5 1675 907.8 1675.9 904.2 1676.8 909.1 1677.6 907.7 1678.5 903.6 1679.3 908.4 1680.2 909.5 1681 904.9 1681.8 914.5 1682.7 917.1 1683.5 903.1 1684.4 912.5 1685.2 909.4 1686.1 908.6 1687 916.4 1687.8 910.8 1688.7 908.9 1689.5 911.5 1690.3 909 1691.2 906.5 1692 912.7 1692.9 921 1693.8 917 1694.6 918.8 1695.5 914.3 1696.3 907.6 1697.2 907.8 1698 915.2 1698.8 915.1 1699.7 920 1700.5 916.6 1701.4 911.6 1702.2 914.9 1703.1 900.8 1704 904.8 1704.8 904.3 1705.7 897.3 1706.5 905.5 1707.3 900.9 1708.2 904.4 1709 907.3 1709.9 899.9 1710.8 901.4 1711.6 906.4 1712.5 900.4 1713.3 911.2 1714.2 907.6 1715 902.6 1715.8 908.4 1716.7 915.3 1717.5 908.9 1718.4 917 1719.2 911.7 1720.1 910.5 1721 914.4 1721.8 918.5 1722.7 912.2 1723.5 911 1724.3 920.2 1725.2 921.1 1726 918.5 1726.9 918.2 1727.8 913.7 1728.6 911.2 1729.5 912.7 1730.3 920.3 1731.2 913.8 1732 914.8 1732.8 915.3 1733.7 916.3 1734.5 909.9 1735.4 913.4 1736.2 913.6 1737.1 923.5 1738 917.4 1738.8 914.9 1739.7 919.3 1740.5 912.7 1741.3 914.7 1742.2 919.7 1743 919.3 1743.9 921.5 1744.8 912.6 1745.6 912.9 1746.5 915.1 1747.3 915.4 1748.2 908.4 1749 912.8 1749.8 918.6 1750.7 913.3 1751.5 910.5 1752.4 912.3 1753.2 909.4 1754.1 919.2 1755 918.3 1755.8 909.1 1756.7 917.8 1757.5 917.3 1758.3 917.4 1759.2 905.7 1760 916.2 1760.9 915.3 1761.8 911.2 1762.6 910.1 1763.5 908.1 1764.3 904.4 1765.2 915.2 1766 902.1 1766.8 912.1 1767.7 914.9 1768.5 912.1 1769.4 914.7 1770.2 911.5 1771.1 909.4 1772 910.7 1772.8 909.3 1773.7 912.7 1774.5 910.4 1775.3 917.1 1776.2 908.2 1777 911.7 1777.9 913.8 1778.8 914 1779.6 917.5 1780.5 908.5 1781.3 910.2 1782.2 910.9 1783 917.8 1783.8 913.8 1784.7 912.7 1785.5 916.6 1786.4 914.3 1787.2 906.7 1788.1 912.7 1789 914.8 1789.8 920.5 1790.7 917 1791.5 916 1792.3 915.2 1793.2 909.7 1794 907.4 1794.9 910 1795.8 919.8 1796.6 915 1797.5 914.7 1798.3 904.5 1799.2 912.1 1800 911 1800.8 907.7 1801.7 909.1 1802.5 915.2 1803.4 912 1804.2 908.4 1805.1 912.6 1806 914.1 1806.8 912.5 1807.7 914.6 1808.5 917.1 1809.3 913.6 1810.2 903.7 1811 906.2 1811.9 909 1812.8 912.6 1813.6 915.3 1814.5 913.8 1815.3 913 1816.2 920.1 1817 924.2 1817.8 913.8 1818.7 916.3 1819.5 917.5 1820.4 915.9 1821.2 915.7 1822.1 917.5 1823 913 1823.8 908.8 1824.7 915 1825.5 911.2 1826.3 912.1 1827.2 901.6 1828 907.1 1828.9 920.1 1829.8 907.9 1830.6 907.7 1831.5 915.1 1832.3 919.2 1833.2 910.8 1834 914.3 1834.8 915.5 1835.7 914.5 1836.5 916.9 1837.4 921.6 1838.2 916.1 1839.1 915.2 1840 921.5 1840.8 919.1 1841.7 911.1 1842.5 911.3 1843.3 911.1 1844.2 913.6 1845 911.4 1845.9 908 1846.8 911.5 1847.6 908 1848.5 912.4 1849.3 918.8 1850.2 916.3 1851 919.5 1851.8 922.1 1852.7 916.2 1853.5 924.8 1854.4 911.6 1855.2 916.4 1856.1 924.3 1857 925.2 1857.8 920 1858.7 917.2 1859.5 926.1 1860.3 924 1861.2 918.1 1862 919.9 1862.9 919.8 1863.8 910.3 1864.6 907.7 1865.5 913.2 1866.3 913.8 1867.2 920.4 1868 909.6 1868.8 917.5 1869.7 914.5 1870.5 915.5 1871.4 916.9 1872.2 918 1873.1 912.7 1874 913.9 1874.8 912.8 1875.7 905.3 1876.5 916.9 1877.3 911.9 1878.2 906.2 1879 912.5 1879.9 905.8 1880.8 909.7 1881.6 913.2 1882.5 918.2 1883.3 919.1 1884.2 916.7 1885 917 1885.8 914.7 1886.7 918.6 1887.5 914.3 1888.4 912.5 1889.2 910 1890.1 909.5 1891 915.3 1891.8 915.3 1892.7 915.4 1893.5 912.4 1894.3 919.9 1895.2 922.2 1896 914.3 1896.9 909.1 1897.8 917 1898.6 913.9 1899.5 913 1900.3 913.4 1901.2 915.4 1902 907.1 1902.8 908.6 1903.7 905.6 1904.5 912.3 1905.4 910.3 1906.2 909.5 1907.1 912.8 1908 906.4 1908.8 915.6 1909.7 917.3 1910.5 920.4 1911.3 922.8 1912.2 919 1913 913.5 1913.9 913.3 1914.8 918.8 1915.6 905.3 1916.5 914.1 1917.3 912 1918.2 910.6 1919 904.9 1919.8 903.3 1920.7 917.3 1921.5 921.2 1922.4 916.2 1923.2 918.6 1924.1 912.1 1924.9 913.4 1925.8 914.3 1926.7 913.2 1927.5 910.9 1928.3 909.2 1929.2 909.4 1930 918.3 1930.9 918.5 1931.8 920.7 1932.6 922 1933.4 923.8 1934.3 916.3 1935.2 921.5 1936 913.8 1936.8 915.6 1937.7 918.8 1938.5 915.7 1939.4 912 1940.2 916.1 1941.1 914.9 1941.9 908.3 1942.8 913.3 1943.7 908.2 1944.5 911.5 1945.3 916.5 1946.2 915.4 1947 923.2 1947.9 923.3 1948.8 916.5 1949.6 917.3 1950.4 921.9 1951.3 920.7 1952.2 914.4 1953 916.7 1953.8 914.4 1954.7 920.2 1955.5 917.8 1956.4 912.1 1957.2 913.3 1958.1 911.5 1958.9 911.2 1959.8 908.2 1960.7 908 1961.5 912.1 1962.3 916.9 1963.2 910.4 1964 911.2 1964.9 911.3 1965.8 905.3 1966.6 913.2 1967.4 911.3 1968.3 912.5 1969.2 908.2 1970 908.1 1970.8 909.7 1971.7 912.9 1972.5 907.9 1973.4 913.3 1974.2 911.4 1975.1 914.2 1975.9 911.4 1976.8 915.4 1977.7 916.5 1978.5 918.7" fill="none" stroke="#000" stroke-width="2" stroke-linejoin="round"/>
<path d="M1409 978.9 1409.8 982 1410.7 972.9 1411.5 973 1412.4 970.9 1413.2 974.2 1414.1 973.4 1415 985.7 1415.8 970.5 1416.7 984.7 1417.5 977.4 1418.3 979.6 1419.2 988.1 1420 970.6 1420.9 975.4 1421.8 969.6 1422.6 981.4 1423.5 972.8 1424.3 982.5 1425.2 975.7 1426 987.2 1426.8 965.8 1427.7 990.4 1428.5 982.2 1429.4 973.3 1430.2 972.2 1431.1 983.1 1432 978.3 1432.8 975.4 1433.7 984.6 1434.5 975.7 1435.3 966.4 1436.2 982.4 1437 978.8 1437.9 980.7 1438.8 981.9 1439.6 980.9 1440.5 976.2 1441.3 978.6 1442.2 967.1 1443 974.7 1443.8 965.8 1444.7 976.3 1445.5 973.7 1446.4 979.5 1447.2 975.7 1448.1 975.7 1449 972.6 1449.8 974.6 1450.7 983.3 1451.5 980.5 1452.3 984.4 1453.2 975.4 1454 985.9 1454.9 984.2 1455.8 977 1456.6 975.7 1457.5 978.9 1458.3 976.3 1459.2 982 1460 979.7 1460.8 975.6 1461.7 970.1 1462.5 979.1 1463.4 972.9 1464.2 979.4 1465.1 979.8 1466 979.8 1466.8 979.5 1467.7 974.7 1468.5 975.8 1469.3 967.9 1470.2 979.9 1471 981.7 1471.9 978.6 1472.8 975 1473.6 982.5 1474.5 978.1 1475.3 979.2 1476.2 986.8 1477 977.3 1477.8 974.4 1478.7 981.3 1479.5 979.5 1480.4 975.4 1481.2 981.2 1482.1 984.9 1483 976.8 1483.8 984 1484.7 976 1485.5 970.1 1486.3 977.7 1487.2 972 1488 980.2 1488.9 972.8 1489.8 975.2 1490.6 973.3 1491.5 976.7 1492.3 978.9 1493.2 976.6 1494 970 1494.8 980.7 1495.7 979.5 1496.5 969 1497.4 984.4 1498.2 979.3 1499.1 983.7 1500 986.3 1500.8 989.1 1501.7 981 1502.5 977.4 1503.3 977.6 1504.2 978.2 1505 968.9 1505.9 972.7 1506.8 975.9 1507.6 975.4 1508.5 979 1509.3 981.5 1510.2 981 1511 986.3 1511.8 977.5 1512.7 981.2 1513.5 979.5 1514.4 985 1515.2 987.7 1516.1 975.4 1517 977.3 1517.8 975.1 1518.7 977.5 1519.5 977.3 1520.3 976.1 1521.2 974.7 1522 977.4 1522.9 970.4 1523.8 985.1 1524.6 974.8 1525.5 970.5 1526.3 980.9 1527.2 975.3 1528 984.8 1528.8 971.4 1529.7 978.6 1530.5 973.7 1531.4 977.6 1532.2 974.1 1533.1 976.5 1534 974.8 1534.8 975.2 1535.7 983.5 1536.5 975.8 1537.3 979.8 1538.2 973.1 1539 980.1 1539.9 973.4 1540.8 976.7 1541.6 985.8 1542.5 981.2 1543.3 972.2 1544.2 980 1545 977 1545.8 982.8 1546.7 980.1 1547.5 982.3 1548.4 978.1 1549.2 972.3 1550.1 966.9 1551 969.8 1551.8 971.8 1552.7 964.2 1553.5 980.6 1554.3 971.1 1555.2 982 1556 981 1556.9 988.5 1557.8 981.5 1558.6 978.2 1559.5 981.2 1560.3 986.6 1561.2 989.8 1562 978 1562.8 986.5 1563.7 987.2 1564.5 973.4 1565.4 970.4 1566.2 970.9 1567.1 980 1568 991.5 1568.8 981.2 1569.7 976 1570.5 987.7 1571.3 971.1 1572.2 974.6 1573 984 1573.9 983 1574.8 973.5 1575.6 983.5 1576.5 976.2 1577.3 981.5 1578.2 980.9 1579 982.4 1579.8 980.3 1580.7 970.2 1581.5 973.1 1582.4 976.2 1583.2 974.8 1584.1 977.9 1585 978.2 1585.8 980.8 1586.7 983.9 1587.5 975.4 1588.3 977.1 1589.2 962.8 1590 972.1 1590.9 974.1 1591.8 974.6 1592.6 973.5 1593.5 977.5 1594.3 973 1595.2 974.3 1596 977.7 1596.8 986 1597.7 982.3 1598.5 978.1 1599.4 976.3 1600.2 981 1601.1 981.5 1602 976.2 1602.8 978.4 1603.7 981 1604.5 976 1605.3 977.7 1606.2 969.2 1607 977.2 1607.9 975.6 1608.8 977.2 1609.6 974.4 1610.5 975.8 1611.3 979.7 1612.2 981.5 1613 970.9 1613.8 969.9 1614.7 972.2 1615.5 977.8 1616.4 975.7 1617.2 983.5 1618.1 973.9 1619 975.1 1619.8 983.7 1620.7 982.6 1621.5 990.9 1622.3 985.5 1623.2 986.5 1624 982 1624.9 984 1625.8 979.1 1626.6 976.3 1627.5 977.8 1628.3 976.2 1629.2 976.3 1630 979.3 1630.8 983.6 1631.7 978 1632.5 980.1 1633.4 974.4 1634.2 970.8 1635.1 978.5 1636 972.5 1636.8 973.5 1637.7 979.7 1638.5 969.2 1639.3 976.3 1640.2 977.1 1641 988.4 1641.9 981.9 1642.8 977.7 1643.6 972.3 1644.5 985.4 1645.3 975.8 1646.2 969.5 1647 987 1647.8 981.4 1648.7 980 1649.5 984.5 1650.4 980.1 1651.2 984.1 1652.1 981.1 1653 986.8 1653.8 987.5 1654.7 981.4 1655.5 975.8 1656.3 978.3 1657.2 988.3 1658 972.2 1658.9 980.9 1659.8 977.8 1660.6 980.7 1661.5 980.4 1662.3 981.7 1663.2 979.9 1664 985.3 1664.8 978.2 1665.7 975.7 1666.5 976 1667.4 979.3 1668.2 968.1 1669.1 977.3 1670 978.8 1670.8 965.8 1671.7 974.7 1672.5 979.5 1673.3 977.8 1674.2 976.2 1675 973.1 1675.9 982.2 1676.8 980.1 1677.6 982.7 1678.5 982.8 1679.3 981.2 1680.2 979.6 1681 981.8 1681.8 976.1 1682.7 983.1 1683.5 983.9 1684.4 977.7 1685.2 975.4 1686.1 981 1687 976.6 1687.8 980.6 1688.7 982.5 1689.5 975.2 1690.3 966.2 1691.2 982.7 1692 978.7 1692.9 975.6 1693.8 973.6 1694.6 977.7 1695.5 985.1 1696.3 973.8 1697.2 979.5 1698 981.2 1698.8 976.8 1699.7 970.4 1700.5 984.9 1701.4 977.3 1702.2 971.7 1703.1 972.4 1704 973.1 1704.8 969.4 1705.7 977.1 1706.5 979.3 1707.3 973.5 1708.2 975.5 1709 979.1 1709.9 976 1710.8 979.6 1711.6 983 1712.5 968.8 1713.3 976.8 1714.2 979.5 1715 969.2 1715.8 973.1 1716.7 991.6 1717.5 978 1718.4 978.9 1719.2 974.6 1720.1 981.1 1721 976.5 1721.8 969.2 1722.7 986.5 1723.5 978 1724.3 976.3 1725.2 981.4 1726 976.9 1726.9 977.8 1727.8 981.3 1728.6 977.5 1729.5 973.9 1730.3 973.1 1731.2 976.1 1732 977.6 1732.8 978.9 1733.7 976.3 1734.5 974.4 1735.4 974.9 1736.2 975.1 1737.1 979.4 1738 981 1738.8 982.1 1739.7 983.4 1740.5 978.2 1741.3 983.6 1742.2 980 1743 979.6 1743.9 984.9 1744.8 982.1 1745.6 971.8 1746.5 977 1747.3 983 1748.2 973.2 1749 973.3 1749.8 975.5 1750.7 985.8 1751.5 973.7 1752.4 978.8 1753.2 982.3 1754.1 981.7 1755 977.3 1755.8 970.4 1756.7 985.4 1757.5 982 1758.3 966.9 1759.2 984.4 1760 982.7 1760.9 980.8 1761.8 982.4 1762.6 980.1 1763.5 983.8 1764.3 976.2 1765.2 975.3 1766 977.4 1766.8 967.6 1767.7 975.1 1768.5 976.8 1769.4 976.1 1770.2 987.8 1771.1 981.6 1772 975 1772.8 976.8 1773.7 980.2 1774.5 976.8 1775.3 975.5 1776.2 982.3 1777 976.6 1777.9 984.4 1778.8 971.6 1779.6 974.6 1780.5 972.1 1781.3 974.1 1782.2 978.4 1783 983 1783.8 979.8 1784.7 976.7 1785.5 973.3 1786.4 972.2 1787.2 984.9 1788.1 981.9 1789 985.9 1789.8 984.1 1790.7 977.4 1791.5 980.1 1792.3 984.8 1793.2 983.3 1794 979.5 1794.9 984.1 1795.8 977.8 1796.6 977.5 1797.5 983.5 1798.3 975.5 1799.2 965.3 1800 973.6 1800.8 975.1 1801.7 984.7 1802.5 972.9 1803.4 981.5 1804.2 979.3 1805.1 982 1806 982.5 1806.8 983.3 1807.7 979.1 1808.5 985.5 1809.3 992.4 1810.2 977.8 1811 974.9 1811.9 972.8 1812.8 964.4 1813.6 974.8 1814.5 968.2 1815.3 975.1 1816.2 976.2 1817 972.9 1817.8 974.9 1818.7 969.9 1819.5 974.7 1820.4 969.4 1821.2 980.1 1822.1 981.5 1823 974.2 1823.8 966.8 1824.7 974.7 1825.5 981.2 1826.3 974.1 1827.2 973.7 1828 973.6 1828.9 979.7 1829.8 972.3 1830.6 969.1 1831.5 970.7 1832.3 975.8 1833.2 972.8 1834 972.3 1834.8 975.5 1835.7 976.2 1836.5 982.4 1837.4 980.2 1838.2 977.3 1839.1 980.8 1840 979.3 1840.8 982.3 1841.7 982.8 1842.5 982.8 1843.3 980.1 1844.2 982.1 1845 977.6 1845.9 978.7 1846.8 974 1847.6 977.8 1848.5 979 1849.3 976.2 1850.2 973.4 1851 974.1 1851.8 985.7 1852.7 981.5 1853.5 988.3 1854.4 992.7 1855.2 994.1 1856.1 992.4 1857 992.4 1857.8 992.2 1858.7 990.7 1859.5 988.6 1860.3 984.7 1861.2 986.9 1862 982.6 1862.9 978.6 1863.8 969.7 1864.6 974.5 1865.5 974.4 1866.3 964.5 1867.2 967.6 1868 960.1 1868.8 953.7 1869.7 960.6 1870.5 957.3 1871.4 959.9 1872.2 959.1 1873.1 958.2 1874 957.6 1874.8 956.9 1875.7 966.8 1876.5 964 1877.3 968.8 1878.2 970.1 1879 964.3 1879.9 960.2 1880.8 957.3 1881.6 971.3 1882.5 970.2 1883.3 968.8 1884.2 969.5 1885 977.2 1885.8 968 1886.7 973.6 1887.5 969.7 1888.4 977.3 1889.2 982.5 1890.1 982.6 1891 979.1 1891.8 983.4 1892.7 985.4 1893.5 980.4 1894.3 968.4 1895.2 990.4 1896 979.6 1896.9 983.8 1897.8 980.6 1898.6 974.7 1899.5 979.6 1900.3 977.1 1901.2 981.4 1902 981 1902.8 992.6 1903.7 990.3 1904.5 978.6 1905.4 980.2 1906.2 983.6 1907.1 974.7 1908 987.9 1908.8 983.8 1909.7 981.1 1910.5 977 1911.3 980.8 1912.2 983.1 1913 975.3 1913.9 976.8 1914.8 967.2 1915.6 979 1916.5 976.2 1917.3 982.4 1918.2 981 1919 979.4 1919.8 973.7 1920.7 984 1921.5 979.3 1922.4 974 1923.2 969.7 1924.1 974.7 1924.9 975.6 1925.8 982.7 1926.7 981.8 1927.5 981.8 1928.3 987.4 1929.2 979.1 1930 975.2 1930.9 984.8 1931.8 977 1932.6 983.8 1933.4 973.9 1934.3 987.5 1935.2 985.2 1936 982.8 1936.8 979.8 1937.7 982.1 1938.5 979.4 1939.4 984 1940.2 981.8 1941.1 979.9 1941.9 974.9 1942.8 979.7 1943.7 979.1 1944.5 974.2 1945.3 967.1 1946.2 978.4 1947 981 1947.9 974.7 1948.8 971.2 1949.6 979.8 1950.4 984 1951.3 974.2 1952.2 984.5 1953 967.1 1953.8 985 1954.7 974.1 1955.5 977.9 1956.4 969.1 1957.2 975 1958.1 970.4 1958.9 976.5 1959.8 976.6 1960.7 977.2 1961.5 978.1 1962.3 971.6 1963.2 974.6 1964 975 1964.9 970.2 1965.8 977.8 1966.6 979 1967.4 982.1 1968.3 977.1 1969.2 974.9 1970 981.4 1970.8 983.8 1971.7 983 1972.5 978.8 1973.4 981.5 1974.2 978.6 1975.1 987.2 1975.9 978.1 1976.8 991.3 1977.7 992.7 1978.5 982.8" fill="none" stroke="#000" stroke-width="2" stroke-linejoin="round"/>
<path d="M1409 1039.9 H1978.4" fill="none" stroke="#333" stroke-width="1.8"/>
<line x1="1408.6" y1="1033.9" x2="1408.6" y2="1040.8" stroke="#333" stroke-width="1.8"/>
<line x1="1503.4" y1="1033.9" x2="1503.4" y2="1040.8" stroke="#333" stroke-width="1.8"/>
<line x1="1598.7" y1="1033.9" x2="1598.7" y2="1040.8" stroke="#333" stroke-width="1.8"/>
<line x1="1693.5" y1="1033.9" x2="1693.5" y2="1040.8" stroke="#333" stroke-width="1.8"/>
<line x1="1788.3" y1="1033.9" x2="1788.3" y2="1040.8" stroke="#333" stroke-width="1.8"/>
<line x1="1883.1" y1="1033.9" x2="1883.1" y2="1040.8" stroke="#333" stroke-width="1.8"/>
<line x1="1978" y1="1033.9" x2="1978" y2="1040.8" stroke="#333" stroke-width="1.8"/>
<text x="1399.7" y="1087.1" font-size="37" text-anchor="middle" fill="#111">-40</text>
<text x="1499.1" y="1087.1" font-size="37" text-anchor="middle" fill="#111">-20</text>
<text x="1599.3" y="1087.1" font-size="37" text-anchor="middle" fill="#111">0</text>
<text x="1693.5" y="1087.1" font-size="37" text-anchor="middle" fill="#111">20</text>
<text x="1790.5" y="1087.1" font-size="37" text-anchor="middle" fill="#111">40</text>
<text x="1887.4" y="1087.1" font-size="37" text-anchor="middle" fill="#111">60</text>
<text x="1981.5" y="1087.1" font-size="37" text-anchor="middle" fill="#111">80</text>
<text x="1646.5" y="1140.7" font-size="38.4" text-anchor="middle">Time (min)</text>
<text x="1" y="1216.2" font-size="53" font-weight="bold">f</text>
<rect x="260.7" y="1395.5" width="146.8" height="162" fill="#fff" stroke="#000" stroke-width="1.6"/>
<text x="339.5" y="1432.3" font-size="37" text-anchor="middle">EEG</text>
<text x="338.3" y="1516.7" font-size="37" text-anchor="middle">EMG</text>
<path d="M276 1471.1 277.1 1453.6 278.2 1455.9 279.3 1461.3 280.4 1457.7 281.5 1451.7 282.6 1458.6 283.7 1457.5 284.8 1464.2 285.9 1448.3 287 1455.1 288.1 1468.1 289.2 1473 290.3 1449.4 291.4 1464.5 292.5 1453.1 293.6 1454 294.7 1453.9 295.8 1457 296.9 1467 298 1465 299.1 1460.4 300.2 1457.5 301.3 1460 302.4 1459.3 303.5 1465.6 304.6 1455.6 305.7 1460 306.8 1459.3 307.9 1459.6 309 1461.7 310.1 1461.4 311.2 1469.3 312.3 1459.4 313.4 1470.9 314.5 1457.9 315.6 1456.7 316.7 1460.7 317.8 1462.5 318.9 1461.9 320 1469 321.1 1468 322.2 1463.5 323.3 1457.6 324.4 1459.3 325.5 1469.9 326.6 1461.5 327.7 1450.8 328.8 1455.2 329.9 1456 331 1468.1 332.1 1459.2 333.2 1475.8 334.3 1464.6 335.4 1460.9 336.5 1457 337.6 1466.8 338.7 1458.3 339.8 1454.2 340.9 1464 342 1460.1 343.1 1468.3 344.2 1459.5 345.3 1440 346.4 1465.5 347.5 1446.9 348.6 1470.8 349.7 1472.7 350.8 1457 351.9 1451.8 353 1450.2 354.1 1466.1 355.2 1458.6 356.3 1455.8 357.4 1458.3 358.5 1474.6 359.6 1462.4 360.7 1465.2 361.8 1465.4 362.9 1467.1 364 1467.4 365.1 1455 366.2 1458.5 367.3 1454.7 368.4 1455 369.5 1468 370.6 1456.5 371.7 1459.4 372.8 1455.2 373.9 1455.8 375 1465.5 376.1 1456.9 377.2 1456.6 378.3 1463.5 379.4 1463.5 380.5 1465.5 381.6 1461.2 382.7 1447.7 383.8 1464.4 384.9 1463.5 386 1467.1 387.1 1454.1 388.2 1477.6 389.3 1451.4 390.4 1465.1 391.5 1460.3 392.6 1456.6 393.7 1465.7 394.8 1458 395.9 1443.7 397 1451.8 398.1 1463.2 399.2 1475.7 400.3 1449.6" fill="none" stroke="#444" stroke-width="0.7" stroke-linejoin="round"/>
<path d="M272 1529.2 273.3 1533.4 274.6 1530.5 275.9 1531.1 277.2 1532.4 278.5 1533.6 279.8 1534.8 281.1 1531.3 282.4 1532.1 283.7 1532.6 285 1531.3 286.3 1531.2 287.6 1530.9 288.9 1531.6 290.2 1532.7 291.5 1532.4 292.8 1533.5 294.1 1531.5 295.4 1528.9 296.7 1531.4 298 1530.6 299.3 1531.5 300.6 1533.7 301.9 1531.6 303.2 1531.4 304.5 1530.9 305.8 1528.6 307.1 1530.3 308.4 1533.1 309.7 1532.2 311 1531.1 312.3 1528.5 313.6 1527.6 314.9 1529.5 316.2 1530.7 317.5 1532.9 318.8 1532 320.1 1529.5 321.4 1531.2 322.7 1532 324 1529.3 325.3 1530.8 326.6 1531.4 327.9 1529.3 329.2 1529.1 330.5 1530.2 331.8 1532.7 333.1 1531.8 334.4 1531 335.7 1530.9 337 1533.2 338.3 1535.5 339.6 1532.1 340.9 1530.9 342.2 1532.7 343.5 1532.6 344.8 1530.6 346.1 1529.9 347.4 1531.7 348.7 1532.4 350 1530.5 351.3 1530.5 352.6 1530.3 353.9 1527.3 355.2 1528.7 356.5 1532.3 357.8 1532.6 359.1 1533.2 360.4 1534.7 361.7 1533.4 363 1530.7 364.3 1530.2 365.6 1529.3 366.9 1529.3 368.2 1530.9 369.5 1531.1 370.8 1532.5 372.1 1529.8 373.4 1529.4 374.7 1531.2 376 1531.3 377.3 1532.1 378.6 1530 379.9 1530.8 381.2 1531.2 382.5 1530.7 383.8 1530.9 385.1 1529.8 386.4 1530.6 387.7 1533.3 389 1534 390.3 1531.8 391.6 1532.9 392.9 1533 394.2 1530.7 395.5 1529.5" fill="none" stroke="#222" stroke-width="1" stroke-linejoin="round"/>
<path d="M163 1575 L163 1709.5" fill="none" stroke="#000" stroke-width="2.8" stroke-dasharray="5.5 6.8" stroke-linejoin="round"/>
<path d="M163 1709.5 L62.8 1752.9" fill="none" stroke="#000" stroke-width="2.8" stroke-dasharray="5.5 6.8" stroke-linejoin="round"/>
<path d="M163 1709.5 L436.2 1727" fill="none" stroke="#000" stroke-width="2.8" stroke-dasharray="5.5 6.8" stroke-linejoin="round"/>
<g transform="translate(120,1620) scale(0.12107)" fill="none" stroke="#000" stroke-width="9" stroke-linecap="round" stroke-linejoin="round">
<path d="M655,382 C720,322 820,262 930,255 C1060,250 1180,350 1232,470 C1255,530 1265,572 1270,600"/>
<path d="M1270,600 C1350,640 1440,705 1465,800 C1482,900 1400,992 1200,1000 C1080,1002 950,955 845,910"/>
<path d="M1245,640 C1330,682 1400,742 1420,812 C1436,900 1350,962 1200,966 C1080,966 950,942 845,910"/>
<path d="M1245,640 C1200,672 1150,692 1120,712 L1112,742 C1085,760 1060,772 1040,790 C1020,810 1005,830 990,842"/>
<path d="M1060,735 C1020,760 960,790 912,832 C900,852 925,852 950,835 M940,850 C955,845 975,828 990,810 M970,850 C985,845 1000,830 1010,815"/>
<path d="M780,732 C800,712 850,706 900,706 C950,702 990,706 1010,716 C1040,726 1058,730 1060,735"/>
<path d="M970,672 C980,692 990,702 1002,712"/>
<path d="M530,420 C470,460 400,530 350,610 C322,650 310,690 330,710 C350,730 380,735 400,730"/>
<path d="M640,545 C668,590 652,650 600,680 C560,700 520,700 480,690"/>
<path d="M555,402 C600,370 650,382 665,432 C675,482 640,522 600,522"/>
<path d="M565,480 C575,460 590,450 610,445 M590,497 C600,482 610,472 622,468"/>
<path d="M475,402 C480,352 510,312 540,322"/>
<path d="M330,630 C290,600 240,585 190,585 M320,650 C280,636 230,636 185,646 M315,680 C280,680 240,692 205,716"/>
<path d="M400,690 C430,700 450,750 460,780 C440,800 420,810 410,822 C420,842 450,836 470,826 C500,810 540,790 570,770 C560,750 540,736 520,730"/>
<path d="M420,700 C460,700 500,715 520,740 M440,730 C470,740 500,770 510,790"/>
<path d="M570,760 C610,755 650,760 680,770 C690,790 700,810 700,830 C680,846 640,852 600,850 C610,836 640,830 660,826"/>
<path d="M700,830 C720,810 740,770 780,732"/>
<path d="M335,625 C350,615 365,625 360,640 C350,655 335,645 335,625"/>
<path d="M440,602 L490,566" stroke-width="14"/>
<rect x="478" y="400" width="40" height="105" fill="#000" stroke="none"/>
<rect x="456" y="400" width="86" height="42" fill="#000" stroke="none"/>
</g>
<path d="M260.5 1489.4 C232 1487 218 1500 212 1530 C201 1580 193 1640 181 1676" fill="none" stroke="#000" stroke-width="2.4" stroke-linecap="round"/>
<path d="M62.2 1621.4 L334 1634.2 L435.6 1593.5 L163 1575 Z" fill="none" stroke="#000" stroke-width="2.8" stroke-linejoin="round"/>
<path d="M62.2 1621.4 L62.8 1752.9 L334.9 1768 L334 1634.2" fill="none" stroke="#000" stroke-width="2.8" stroke-linejoin="round"/>
<path d="M334.9 1768 L436.2 1727 L435.6 1593.5" fill="none" stroke="#000" stroke-width="2.8" stroke-linejoin="round"/>
<text x="60" y="1839.5" font-size="36" font-style="italic">Tmem119-CreERT2;</text>
<text x="58" y="1881.5" font-size="36" font-style="italic">R26-LSL-Gq-DREADD</text>
<text x="522.5" y="1204.5" font-size="53" font-weight="bold">g</text>
<text x="833.4" y="1216.9" font-size="36.5" text-anchor="middle" fill="#F7B32B">NREM</text>
<g stroke="#F7B32B" stroke-width="3" fill="none">
<path d="M677.1 1433.9 L708.3 1328.3 L739.4 1333.7 L770.6 1341.9 L801.8 1343.7 L833 1362.8 L864.1 1360.4 L895.3 1361.9 L926.5 1382.8 L957.6 1397" stroke-linejoin="round"/>
<path d="M677.1 1417.9V1449.9"/>
<path d="M708.3 1323.3V1333.3"/>
<path d="M739.4 1328.7V1338.7"/>
<path d="M770.6 1333.9V1349.9"/>
<path d="M801.8 1335.7V1351.7"/>
<path d="M833 1350.8V1374.8"/>
<path d="M864.1 1347.4V1373.4"/>
<path d="M895.3 1352.9V1370.9"/>
<path d="M926.5 1369.8V1395.8"/>
<path d="M957.6 1383V1411"/>
</g>
<circle cx="677.1" cy="1433.9" r="6.2" fill="none" stroke="#F7B32B" stroke-width="2.5"/>
<circle cx="677.1" cy="1433.9" r="1.9" fill="#F7B32B"/>
<circle cx="708.3" cy="1328.3" r="6.2" fill="none" stroke="#F7B32B" stroke-width="2.5"/>
<circle cx="708.3" cy="1328.3" r="1.9" fill="#F7B32B"/>
<circle cx="739.4" cy="1333.7" r="6.2" fill="none" stroke="#F7B32B" stroke-width="2.5"/>
<circle cx="739.4" cy="1333.7" r="1.9" fill="#F7B32B"/>
<circle cx="770.6" cy="1341.9" r="6.2" fill="none" stroke="#F7B32B" stroke-width="2.5"/>
<circle cx="770.6" cy="1341.9" r="1.9" fill="#F7B32B"/>
<circle cx="801.8" cy="1343.7" r="6.2" fill="none" stroke="#F7B32B" stroke-width="2.5"/>
<circle cx="801.8" cy="1343.7" r="1.9" fill="#F7B32B"/>
<circle cx="833" cy="1362.8" r="6.2" fill="none" stroke="#F7B32B" stroke-width="2.5"/>
<circle cx="833" cy="1362.8" r="1.9" fill="#F7B32B"/>
<circle cx="864.1" cy="1360.4" r="6.2" fill="none" stroke="#F7B32B" stroke-width="2.5"/>
<circle cx="864.1" cy="1360.4" r="1.9" fill="#F7B32B"/>
<circle cx="895.3" cy="1361.9" r="6.2" fill="none" stroke="#F7B32B" stroke-width="2.5"/>
<circle cx="895.3" cy="1361.9" r="1.9" fill="#F7B32B"/>
<circle cx="926.5" cy="1382.8" r="6.2" fill="none" stroke="#F7B32B" stroke-width="2.5"/>
<circle cx="926.5" cy="1382.8" r="1.9" fill="#F7B32B"/>
<circle cx="957.6" cy="1397" r="6.2" fill="none" stroke="#F7B32B" stroke-width="2.5"/>
<circle cx="957.6" cy="1397" r="1.9" fill="#F7B32B"/>
<g stroke="#F7B32B" stroke-width="3" fill="none">
<path d="M677.1 1485.4 L708.3 1383.1 L739.4 1376.4 L770.6 1361.3 L801.8 1378.8 L833 1372.2 L864.1 1391.8 L895.3 1379.7 L926.5 1382.8 L957.6 1359.5" stroke-linejoin="round"/>
<path d="M677.1 1471.4V1499.4"/>
<path d="M708.3 1369.1V1397.1"/>
<path d="M739.4 1370.4V1382.4"/>
<path d="M770.6 1350.3V1372.3"/>
<path d="M801.8 1372.8V1384.8"/>
<path d="M833 1361.2V1383.2"/>
<path d="M864.1 1377.8V1405.8"/>
<path d="M895.3 1366.7V1392.7"/>
<path d="M926.5 1370.8V1394.8"/>
<path d="M957.6 1354.5V1364.5"/>
</g>
<circle cx="677.1" cy="1485.4" r="6.2" fill="#fff" stroke="#F7B32B" stroke-width="2.5"/>
<circle cx="708.3" cy="1383.1" r="6.2" fill="#fff" stroke="#F7B32B" stroke-width="2.5"/>
<circle cx="739.4" cy="1376.4" r="6.2" fill="#fff" stroke="#F7B32B" stroke-width="2.5"/>
<circle cx="770.6" cy="1361.3" r="6.2" fill="#fff" stroke="#F7B32B" stroke-width="2.5"/>
<circle cx="801.8" cy="1378.8" r="6.2" fill="#fff" stroke="#F7B32B" stroke-width="2.5"/>
<circle cx="833" cy="1372.2" r="6.2" fill="#fff" stroke="#F7B32B" stroke-width="2.5"/>
<circle cx="864.1" cy="1391.8" r="6.2" fill="#fff" stroke="#F7B32B" stroke-width="2.5"/>
<circle cx="895.3" cy="1379.7" r="6.2" fill="#fff" stroke="#F7B32B" stroke-width="2.5"/>
<circle cx="926.5" cy="1382.8" r="6.2" fill="#fff" stroke="#F7B32B" stroke-width="2.5"/>
<circle cx="957.6" cy="1359.5" r="6.2" fill="#fff" stroke="#F7B32B" stroke-width="2.5"/>
<path d="M656.5 1252.3 V1575.6 H979.1" fill="none" stroke="#000" stroke-width="2.2"/>
<line x1="656.5" y1="1252.3" x2="662" y2="1252.3" stroke="#000" stroke-width="2"/>
<text x="643.5" y="1264.8" text-anchor="end">100</text>
<line x1="656.5" y1="1317.4" x2="662" y2="1317.4" stroke="#000" stroke-width="2"/>
<text x="643.5" y="1329.9" text-anchor="end">80</text>
<line x1="656.5" y1="1381.9" x2="662" y2="1381.9" stroke="#000" stroke-width="2"/>
<text x="643.5" y="1394.4" text-anchor="end">60</text>
<line x1="656.5" y1="1446.3" x2="662" y2="1446.3" stroke="#000" stroke-width="2"/>
<text x="643.5" y="1458.8" text-anchor="end">40</text>
<line x1="656.5" y1="1511.1" x2="662" y2="1511.1" stroke="#000" stroke-width="2"/>
<text x="643.5" y="1523.6" text-anchor="end">20</text>
<line x1="656.5" y1="1575.6" x2="662" y2="1575.6" stroke="#000" stroke-width="2"/>
<text x="643.5" y="1588.1" text-anchor="end">0</text>
<line x1="708.2" y1="1575.6" x2="708.2" y2="1570.1" stroke="#000" stroke-width="2"/>
<text x="708.2" y="1617.9" font-size="36" text-anchor="middle">1</text>
<line x1="770.6" y1="1575.6" x2="770.6" y2="1570.1" stroke="#000" stroke-width="2"/>
<text x="770.6" y="1617.9" font-size="36" text-anchor="middle">2</text>
<line x1="833.2" y1="1575.6" x2="833.2" y2="1570.1" stroke="#000" stroke-width="2"/>
<text x="833.2" y="1617.9" font-size="36" text-anchor="middle">3</text>
<line x1="895.3" y1="1575.6" x2="895.3" y2="1570.1" stroke="#000" stroke-width="2"/>
<text x="895.3" y="1617.9" font-size="36" text-anchor="middle">4</text>
<line x1="957.6" y1="1575.6" x2="957.6" y2="1570.1" stroke="#000" stroke-width="2"/>
<text x="957.6" y="1617.9" font-size="36" text-anchor="middle">5</text>
<text x="821.7" y="1661.2" font-size="36.5" text-anchor="middle">Time (h)</text>
<text transform="translate(556.9,1403) rotate(-90)" font-size="36.3" text-anchor="middle">Percentage (%)</text>
<text x="672" y="1417.4" font-size="44" text-anchor="middle">*</text>
<text x="708.2" y="1324.1" font-size="44" text-anchor="middle">**</text>
<text x="1272.7" y="1216.9" font-size="36.5" text-anchor="middle" fill="#808080">Wake</text>
<g stroke="#808080" stroke-width="3" fill="none">
<path d="M1117.1 1397 L1148.3 1514.4 L1179.6 1531.7 L1210.8 1520.2 L1242.1 1520.2 L1273.3 1496.9 L1304.6 1496 L1335.8 1494.8 L1367.1 1479.3 L1398.3 1456.3" stroke-linejoin="round"/>
<path d="M1117.1 1381V1413"/>
<path d="M1148.3 1508.4V1520.4"/>
<path d="M1179.6 1526.7V1536.7"/>
<path d="M1210.8 1513.2V1527.2"/>
<path d="M1242.1 1513.2V1527.2"/>
<path d="M1273.3 1483.9V1509.9"/>
<path d="M1304.6 1482V1510"/>
<path d="M1335.8 1485.8V1503.8"/>
<path d="M1367.1 1465.3V1493.3"/>
<path d="M1398.3 1440.3V1472.3"/>
</g>
<circle cx="1117.1" cy="1397" r="6.2" fill="none" stroke="#808080" stroke-width="2.5"/>
<circle cx="1117.1" cy="1397" r="1.9" fill="#808080"/>
<circle cx="1148.3" cy="1514.4" r="6.2" fill="none" stroke="#808080" stroke-width="2.5"/>
<circle cx="1148.3" cy="1514.4" r="1.9" fill="#808080"/>
<circle cx="1179.6" cy="1531.7" r="6.2" fill="none" stroke="#808080" stroke-width="2.5"/>
<circle cx="1179.6" cy="1531.7" r="1.9" fill="#808080"/>
<circle cx="1210.8" cy="1520.2" r="6.2" fill="none" stroke="#808080" stroke-width="2.5"/>
<circle cx="1210.8" cy="1520.2" r="1.9" fill="#808080"/>
<circle cx="1242.1" cy="1520.2" r="6.2" fill="none" stroke="#808080" stroke-width="2.5"/>
<circle cx="1242.1" cy="1520.2" r="1.9" fill="#808080"/>
<circle cx="1273.3" cy="1496.9" r="6.2" fill="none" stroke="#808080" stroke-width="2.5"/>
<circle cx="1273.3" cy="1496.9" r="1.9" fill="#808080"/>
<circle cx="1304.6" cy="1496" r="6.2" fill="none" stroke="#808080" stroke-width="2.5"/>
<circle cx="1304.6" cy="1496" r="1.9" fill="#808080"/>
<circle cx="1335.8" cy="1494.8" r="6.2" fill="none" stroke="#808080" stroke-width="2.5"/>
<circle cx="1335.8" cy="1494.8" r="1.9" fill="#808080"/>
<circle cx="1367.1" cy="1479.3" r="6.2" fill="none" stroke="#808080" stroke-width="2.5"/>
<circle cx="1367.1" cy="1479.3" r="1.9" fill="#808080"/>
<circle cx="1398.3" cy="1456.3" r="6.2" fill="none" stroke="#808080" stroke-width="2.5"/>
<circle cx="1398.3" cy="1456.3" r="1.9" fill="#808080"/>
<g stroke="#808080" stroke-width="3" fill="none">
<path d="M1117.1 1347.4 L1148.3 1476.3 L1179.6 1485.7 L1210.8 1498.7 L1242.1 1481.1 L1273.3 1488.7 L1304.6 1474.2 L1335.8 1476.9 L1367.1 1481.7 L1398.3 1505" stroke-linejoin="round"/>
<path d="M1117.1 1332.4V1362.4"/>
<path d="M1148.3 1460.3V1492.3"/>
<path d="M1179.6 1475.7V1495.7"/>
<path d="M1210.8 1488.7V1508.7"/>
<path d="M1242.1 1471.1V1491.1"/>
<path d="M1273.3 1476.7V1500.7"/>
<path d="M1304.6 1457.2V1491.2"/>
<path d="M1335.8 1459.9V1493.9"/>
<path d="M1367.1 1467.7V1495.7"/>
<path d="M1398.3 1500V1510"/>
</g>
<circle cx="1117.1" cy="1347.4" r="6.2" fill="#fff" stroke="#808080" stroke-width="2.5"/>
<circle cx="1148.3" cy="1476.3" r="6.2" fill="#fff" stroke="#808080" stroke-width="2.5"/>
<circle cx="1179.6" cy="1485.7" r="6.2" fill="#fff" stroke="#808080" stroke-width="2.5"/>
<circle cx="1210.8" cy="1498.7" r="6.2" fill="#fff" stroke="#808080" stroke-width="2.5"/>
<circle cx="1242.1" cy="1481.1" r="6.2" fill="#fff" stroke="#808080" stroke-width="2.5"/>
<circle cx="1273.3" cy="1488.7" r="6.2" fill="#fff" stroke="#808080" stroke-width="2.5"/>
<circle cx="1304.6" cy="1474.2" r="6.2" fill="#fff" stroke="#808080" stroke-width="2.5"/>
<circle cx="1335.8" cy="1476.9" r="6.2" fill="#fff" stroke="#808080" stroke-width="2.5"/>
<circle cx="1367.1" cy="1481.7" r="6.2" fill="#fff" stroke="#808080" stroke-width="2.5"/>
<circle cx="1398.3" cy="1505" r="6.2" fill="#fff" stroke="#808080" stroke-width="2.5"/>
<path d="M1096.9 1252.9 V1576.2 H1419.8" fill="none" stroke="#000" stroke-width="2.2"/>
<line x1="1096.9" y1="1252.9" x2="1102.4" y2="1252.9" stroke="#000" stroke-width="2"/>
<text x="1083.5" y="1265.4" text-anchor="end">100</text>
<line x1="1096.9" y1="1318" x2="1102.4" y2="1318" stroke="#000" stroke-width="2"/>
<text x="1083.5" y="1330.5" text-anchor="end">80</text>
<line x1="1096.9" y1="1382.8" x2="1102.4" y2="1382.8" stroke="#000" stroke-width="2"/>
<text x="1083.5" y="1395.3" text-anchor="end">60</text>
<line x1="1096.9" y1="1447.2" x2="1102.4" y2="1447.2" stroke="#000" stroke-width="2"/>
<text x="1083.5" y="1459.7" text-anchor="end">40</text>
<line x1="1096.9" y1="1512" x2="1102.4" y2="1512" stroke="#000" stroke-width="2"/>
<text x="1083.5" y="1524.5" text-anchor="end">20</text>
<line x1="1096.9" y1="1576.2" x2="1102.4" y2="1576.2" stroke="#000" stroke-width="2"/>
<text x="1083.5" y="1588.7" text-anchor="end">0</text>
<line x1="1148.3" y1="1576.2" x2="1148.3" y2="1570.7" stroke="#000" stroke-width="2"/>
<text x="1148.3" y="1618.5" font-size="36" text-anchor="middle">1</text>
<line x1="1211" y1="1576.2" x2="1211" y2="1570.7" stroke="#000" stroke-width="2"/>
<text x="1211" y="1618.5" font-size="36" text-anchor="middle">2</text>
<line x1="1273.6" y1="1576.2" x2="1273.6" y2="1570.7" stroke="#000" stroke-width="2"/>
<text x="1273.6" y="1618.5" font-size="36" text-anchor="middle">3</text>
<line x1="1336" y1="1576.2" x2="1336" y2="1570.7" stroke="#000" stroke-width="2"/>
<text x="1336" y="1618.5" font-size="36" text-anchor="middle">4</text>
<line x1="1398.3" y1="1576.2" x2="1398.3" y2="1570.7" stroke="#000" stroke-width="2"/>
<text x="1398.3" y="1618.5" font-size="36" text-anchor="middle">5</text>
<text x="1261.8" y="1661.8" font-size="36.5" text-anchor="middle">Time (h)</text>
<text x="1714.1" y="1216.3" font-size="36.5" text-anchor="middle" fill="#2090D0">REM</text>
<g stroke="#2090D0" stroke-width="3" fill="none">
<path d="M1559 1572.4 L1590.2 1513.7 L1621.4 1402.4 L1652.6 1418.8 L1683.8 1413.8 L1715 1425.5 L1746.2 1455.7 L1777.4 1449.3 L1808.6 1428.2 L1839.8 1463.8" stroke-linejoin="round"/>
<path d="M1559 1569.4V1575.4"/>
<path d="M1590.2 1497.7V1529.7"/>
<path d="M1621.4 1388.4V1416.4"/>
<path d="M1652.6 1399.8V1437.8"/>
<path d="M1683.8 1392.8V1434.8"/>
<path d="M1715 1400.5V1450.5"/>
<path d="M1746.2 1435.7V1475.7"/>
<path d="M1777.4 1431.3V1467.3"/>
<path d="M1808.6 1404.2V1452.2"/>
<path d="M1839.8 1443.8V1483.8"/>
</g>
<circle cx="1559" cy="1572.4" r="6.2" fill="none" stroke="#2090D0" stroke-width="2.5"/>
<circle cx="1559" cy="1572.4" r="1.9" fill="#2090D0"/>
<circle cx="1590.2" cy="1513.7" r="6.2" fill="none" stroke="#2090D0" stroke-width="2.5"/>
<circle cx="1590.2" cy="1513.7" r="1.9" fill="#2090D0"/>
<circle cx="1621.4" cy="1402.4" r="6.2" fill="none" stroke="#2090D0" stroke-width="2.5"/>
<circle cx="1621.4" cy="1402.4" r="1.9" fill="#2090D0"/>
<circle cx="1652.6" cy="1418.8" r="6.2" fill="none" stroke="#2090D0" stroke-width="2.5"/>
<circle cx="1652.6" cy="1418.8" r="1.9" fill="#2090D0"/>
<circle cx="1683.8" cy="1413.8" r="6.2" fill="none" stroke="#2090D0" stroke-width="2.5"/>
<circle cx="1683.8" cy="1413.8" r="1.9" fill="#2090D0"/>
<circle cx="1715" cy="1425.5" r="6.2" fill="none" stroke="#2090D0" stroke-width="2.5"/>
<circle cx="1715" cy="1425.5" r="1.9" fill="#2090D0"/>
<circle cx="1746.2" cy="1455.7" r="6.2" fill="none" stroke="#2090D0" stroke-width="2.5"/>
<circle cx="1746.2" cy="1455.7" r="1.9" fill="#2090D0"/>
<circle cx="1777.4" cy="1449.3" r="6.2" fill="none" stroke="#2090D0" stroke-width="2.5"/>
<circle cx="1777.4" cy="1449.3" r="1.9" fill="#2090D0"/>
<circle cx="1808.6" cy="1428.2" r="6.2" fill="none" stroke="#2090D0" stroke-width="2.5"/>
<circle cx="1808.6" cy="1428.2" r="1.9" fill="#2090D0"/>
<circle cx="1839.8" cy="1463.8" r="6.2" fill="none" stroke="#2090D0" stroke-width="2.5"/>
<circle cx="1839.8" cy="1463.8" r="1.9" fill="#2090D0"/>
<g stroke="#2090D0" stroke-width="3" fill="none">
<path d="M1559 1564 L1590.2 1434.2 L1621.4 1423.5 L1652.6 1430.6 L1683.8 1430.2 L1715 1425.5 L1746.2 1402 L1777.4 1441 L1808.6 1404.7 L1839.8 1409.8" stroke-linejoin="round"/>
<path d="M1559 1560V1568"/>
<path d="M1590.2 1413.2V1455.2"/>
<path d="M1621.4 1401.5V1445.5"/>
<path d="M1652.6 1412.6V1448.6"/>
<path d="M1683.8 1412.2V1448.2"/>
<path d="M1715 1405.5V1445.5"/>
<path d="M1746.2 1377V1427"/>
<path d="M1777.4 1416V1466"/>
<path d="M1808.6 1382.7V1426.7"/>
<path d="M1839.8 1387.8V1431.8"/>
</g>
<circle cx="1559" cy="1564" r="6.2" fill="#fff" stroke="#2090D0" stroke-width="2.5"/>
<circle cx="1590.2" cy="1434.2" r="6.2" fill="#fff" stroke="#2090D0" stroke-width="2.5"/>
<circle cx="1621.4" cy="1423.5" r="6.2" fill="#fff" stroke="#2090D0" stroke-width="2.5"/>
<circle cx="1652.6" cy="1430.6" r="6.2" fill="#fff" stroke="#2090D0" stroke-width="2.5"/>
<circle cx="1683.8" cy="1430.2" r="6.2" fill="#fff" stroke="#2090D0" stroke-width="2.5"/>
<circle cx="1715" cy="1425.5" r="6.2" fill="#fff" stroke="#2090D0" stroke-width="2.5"/>
<circle cx="1746.2" cy="1402" r="6.2" fill="#fff" stroke="#2090D0" stroke-width="2.5"/>
<circle cx="1777.4" cy="1441" r="6.2" fill="#fff" stroke="#2090D0" stroke-width="2.5"/>
<circle cx="1808.6" cy="1404.7" r="6.2" fill="#fff" stroke="#2090D0" stroke-width="2.5"/>
<circle cx="1839.8" cy="1409.8" r="6.2" fill="#fff" stroke="#2090D0" stroke-width="2.5"/>
<path d="M1538.5 1255.8 V1578.4 H1861.8" fill="none" stroke="#000" stroke-width="2.2"/>
<line x1="1538.5" y1="1255.8" x2="1544" y2="1255.8" stroke="#000" stroke-width="2"/>
<text x="1524" y="1268.3" text-anchor="end">20</text>
<line x1="1538.5" y1="1336.7" x2="1544" y2="1336.7" stroke="#000" stroke-width="2"/>
<text x="1524" y="1349.2" text-anchor="end">15</text>
<line x1="1538.5" y1="1417.1" x2="1544" y2="1417.1" stroke="#000" stroke-width="2"/>
<text x="1524" y="1429.6" text-anchor="end">10</text>
<line x1="1538.5" y1="1497.6" x2="1544" y2="1497.6" stroke="#000" stroke-width="2"/>
<text x="1524" y="1510.1" text-anchor="end">5</text>
<line x1="1538.5" y1="1578.4" x2="1544" y2="1578.4" stroke="#000" stroke-width="2"/>
<text x="1524" y="1590.9" text-anchor="end">0</text>
<line x1="1590.2" y1="1578.4" x2="1590.2" y2="1572.9" stroke="#000" stroke-width="2"/>
<text x="1590.2" y="1621" font-size="36" text-anchor="middle">1</text>
<line x1="1652.5" y1="1578.4" x2="1652.5" y2="1572.9" stroke="#000" stroke-width="2"/>
<text x="1652.5" y="1621" font-size="36" text-anchor="middle">2</text>
<line x1="1715.3" y1="1578.4" x2="1715.3" y2="1572.9" stroke="#000" stroke-width="2"/>
<text x="1715.3" y="1621" font-size="36" text-anchor="middle">3</text>
<line x1="1777.6" y1="1578.4" x2="1777.6" y2="1572.9" stroke="#000" stroke-width="2"/>
<text x="1777.6" y="1621" font-size="36" text-anchor="middle">4</text>
<line x1="1839.7" y1="1578.4" x2="1839.7" y2="1572.9" stroke="#000" stroke-width="2"/>
<text x="1839.7" y="1621" font-size="36" text-anchor="middle">5</text>
<text x="1702.3" y="1664.6" font-size="36.5" text-anchor="middle">Time (h)</text>
<line x1="1583.1" y1="1259.2" x2="1618.1" y2="1259.2" stroke="#F7B32B" stroke-width="1.8"/>
<circle cx="1600.6" cy="1259.2" r="5.6" fill="#fff" stroke="#F7B32B" stroke-width="1.7"/>
<line x1="1626.3" y1="1259.2" x2="1661.3" y2="1259.2" stroke="#808080" stroke-width="1.8"/>
<circle cx="1643.8" cy="1259.2" r="5.6" fill="#fff" stroke="#808080" stroke-width="1.7"/>
<line x1="1670.6" y1="1259.2" x2="1705.6" y2="1259.2" stroke="#2090D0" stroke-width="1.8"/>
<circle cx="1688.1" cy="1259.2" r="5.6" fill="#fff" stroke="#2090D0" stroke-width="1.7"/>
<line x1="1583.1" y1="1312.9" x2="1618.1" y2="1312.9" stroke="#F7B32B" stroke-width="1.8"/>
<circle cx="1600.6" cy="1312.9" r="5.6" fill="none" stroke="#F7B32B" stroke-width="1.7"/>
<circle cx="1600.6" cy="1312.9" r="1.7" fill="#F7B32B"/>
<line x1="1626.3" y1="1312.9" x2="1661.3" y2="1312.9" stroke="#808080" stroke-width="1.8"/>
<circle cx="1643.8" cy="1312.9" r="5.6" fill="none" stroke="#808080" stroke-width="1.7"/>
<circle cx="1643.8" cy="1312.9" r="1.7" fill="#808080"/>
<line x1="1670.6" y1="1312.9" x2="1705.6" y2="1312.9" stroke="#2090D0" stroke-width="1.8"/>
<circle cx="1688.1" cy="1312.9" r="5.6" fill="none" stroke="#2090D0" stroke-width="1.7"/>
<circle cx="1688.1" cy="1312.9" r="1.7" fill="#2090D0"/>
<text x="1726" y="1270.6" font-size="36">Saline</text>
<text x="1726" y="1324.9" font-size="36">CNO (0.2 mg/kg)</text>
<text x="830.8" y="1759.3" font-size="36.5" text-anchor="middle" fill="#F7B32B">NREM</text>
<g stroke="#F7B32B" stroke-width="3" fill="none">
<path d="M691.3 1987 L722.5 1888.9 L753.7 1878 L784.8 1898 L816 1900.4 L847.2 1902.5 L878.4 1904 L909.6 1933.1 L940.7 1909.2 L971.9 1910.1" stroke-linejoin="round"/>
<path d="M691.3 1971V2003"/>
<path d="M722.5 1883.9V1893.9"/>
<path d="M753.7 1873V1883"/>
<path d="M784.8 1890V1906"/>
<path d="M816 1892.4V1908.4"/>
<path d="M847.2 1890.5V1914.5"/>
<path d="M878.4 1893V1915"/>
<path d="M909.6 1917.1V1949.1"/>
<path d="M940.7 1903.2V1915.2"/>
<path d="M971.9 1905.1V1915.1"/>
</g>
<circle cx="691.3" cy="1987" r="7" fill="#F7B32B"/>
<circle cx="722.5" cy="1888.9" r="7" fill="#F7B32B"/>
<circle cx="753.7" cy="1878" r="7" fill="#F7B32B"/>
<circle cx="784.8" cy="1898" r="7" fill="#F7B32B"/>
<circle cx="816" cy="1900.4" r="7" fill="#F7B32B"/>
<circle cx="847.2" cy="1902.5" r="7" fill="#F7B32B"/>
<circle cx="878.4" cy="1904" r="7" fill="#F7B32B"/>
<circle cx="909.6" cy="1933.1" r="7" fill="#F7B32B"/>
<circle cx="940.7" cy="1909.2" r="7" fill="#F7B32B"/>
<circle cx="971.9" cy="1910.1" r="7" fill="#F7B32B"/>
<g stroke="#F7B32B" stroke-width="3" fill="none">
<path d="M691.3 2048.1 L722.5 1946.1 L753.7 1939.4 L784.8 1924.3 L816 1941.9 L847.2 1934.9 L878.4 1954 L909.6 1943.4 L940.7 1946.1 L971.9 1922.2" stroke-linejoin="round"/>
<path d="M691.3 2034.1V2062.1"/>
<path d="M722.5 1932.1V1960.1"/>
<path d="M753.7 1933.4V1945.4"/>
<path d="M784.8 1913.3V1935.3"/>
<path d="M816 1935.9V1947.9"/>
<path d="M847.2 1923.9V1945.9"/>
<path d="M878.4 1940V1968"/>
<path d="M909.6 1930.4V1956.4"/>
<path d="M940.7 1934.1V1958.1"/>
<path d="M971.9 1917.2V1927.2"/>
</g>
<circle cx="691.3" cy="2048.1" r="6.2" fill="#fff" stroke="#F7B32B" stroke-width="2.5"/>
<circle cx="722.5" cy="1946.1" r="6.2" fill="#fff" stroke="#F7B32B" stroke-width="2.5"/>
<circle cx="753.7" cy="1939.4" r="6.2" fill="#fff" stroke="#F7B32B" stroke-width="2.5"/>
<circle cx="784.8" cy="1924.3" r="6.2" fill="#fff" stroke="#F7B32B" stroke-width="2.5"/>
<circle cx="816" cy="1941.9" r="6.2" fill="#fff" stroke="#F7B32B" stroke-width="2.5"/>
<circle cx="847.2" cy="1934.9" r="6.2" fill="#fff" stroke="#F7B32B" stroke-width="2.5"/>
<circle cx="878.4" cy="1954" r="6.2" fill="#fff" stroke="#F7B32B" stroke-width="2.5"/>
<circle cx="909.6" cy="1943.4" r="6.2" fill="#fff" stroke="#F7B32B" stroke-width="2.5"/>
<circle cx="940.7" cy="1946.1" r="6.2" fill="#fff" stroke="#F7B32B" stroke-width="2.5"/>
<circle cx="971.9" cy="1922.2" r="6.2" fill="#fff" stroke="#F7B32B" stroke-width="2.5"/>
<path d="M670.4 1815.6 V2138.6 H993.4" fill="none" stroke="#000" stroke-width="2.2"/>
<line x1="670.4" y1="1815.6" x2="675.9" y2="1815.6" stroke="#000" stroke-width="2"/>
<text x="657" y="1828.1" text-anchor="end">100</text>
<line x1="670.4" y1="1880.4" x2="675.9" y2="1880.4" stroke="#000" stroke-width="2"/>
<text x="657" y="1892.9" text-anchor="end">80</text>
<line x1="670.4" y1="1944.9" x2="675.9" y2="1944.9" stroke="#000" stroke-width="2"/>
<text x="657" y="1957.4" text-anchor="end">60</text>
<line x1="670.4" y1="2009.3" x2="675.9" y2="2009.3" stroke="#000" stroke-width="2"/>
<text x="657" y="2021.8" text-anchor="end">40</text>
<line x1="670.4" y1="2073.8" x2="675.9" y2="2073.8" stroke="#000" stroke-width="2"/>
<text x="657" y="2086.3" text-anchor="end">20</text>
<line x1="670.4" y1="2138.6" x2="675.9" y2="2138.6" stroke="#000" stroke-width="2"/>
<text x="657" y="2151.1" text-anchor="end">0</text>
<line x1="722.8" y1="2138.6" x2="722.8" y2="2133.1" stroke="#000" stroke-width="2"/>
<text x="722.8" y="2182.2" font-size="36" text-anchor="middle">1</text>
<line x1="784.5" y1="2138.6" x2="784.5" y2="2133.1" stroke="#000" stroke-width="2"/>
<text x="784.5" y="2182.2" font-size="36" text-anchor="middle">2</text>
<line x1="847.2" y1="2138.6" x2="847.2" y2="2133.1" stroke="#000" stroke-width="2"/>
<text x="847.2" y="2182.2" font-size="36" text-anchor="middle">3</text>
<line x1="909.8" y1="2138.6" x2="909.8" y2="2133.1" stroke="#000" stroke-width="2"/>
<text x="909.8" y="2182.2" font-size="36" text-anchor="middle">4</text>
<line x1="971.9" y1="2138.6" x2="971.9" y2="2133.1" stroke="#000" stroke-width="2"/>
<text x="971.9" y="2182.2" font-size="36" text-anchor="middle">5</text>
<text x="834.7" y="2224.8" font-size="36.5" text-anchor="middle">Time (h)</text>
<text transform="translate(571.1,1966) rotate(-90)" font-size="36.3" text-anchor="middle">Percentage (%)</text>
<text x="692.5" y="1956.8" font-size="44" text-anchor="middle">**</text>
<text x="719.4" y="1897.8" font-size="44" text-anchor="middle">**</text>
<text x="760.6" y="1881.1" font-size="44" text-anchor="middle">**</text>
<text x="881.7" y="1907.7" font-size="44" text-anchor="middle">*</text>
<text x="1271.8" y="1760.9" font-size="36.5" text-anchor="middle" fill="#808080">Wake</text>
<g stroke="#808080" stroke-width="3" fill="none">
<path d="M1129.2 1969.7 L1160.4 2070.5 L1191.6 2086.2 L1222.7 2073.5 L1253.9 2082.3 L1285.1 2076.5 L1316.3 2078 L1347.5 2040.5 L1378.6 2082.6 L1409.8 2079.6" stroke-linejoin="round"/>
<path d="M1129.2 1954.7V1984.7"/>
<path d="M1160.4 2064.5V2076.5"/>
<path d="M1191.6 2081.2V2091.2"/>
<path d="M1222.7 2067.5V2079.5"/>
<path d="M1253.9 2075.3V2089.3"/>
<path d="M1285.1 2064.5V2088.5"/>
<path d="M1316.3 2066V2090"/>
<path d="M1347.5 2022.5V2058.5"/>
<path d="M1378.6 2076.6V2088.6"/>
<path d="M1409.8 2071.6V2087.6"/>
</g>
<circle cx="1129.2" cy="1969.7" r="7" fill="#808080"/>
<circle cx="1160.4" cy="2070.5" r="7" fill="#808080"/>
<circle cx="1191.6" cy="2086.2" r="7" fill="#808080"/>
<circle cx="1222.7" cy="2073.5" r="7" fill="#808080"/>
<circle cx="1253.9" cy="2082.3" r="7" fill="#808080"/>
<circle cx="1285.1" cy="2076.5" r="7" fill="#808080"/>
<circle cx="1316.3" cy="2078" r="7" fill="#808080"/>
<circle cx="1347.5" cy="2040.5" r="7" fill="#808080"/>
<circle cx="1378.6" cy="2082.6" r="7" fill="#808080"/>
<circle cx="1409.8" cy="2079.6" r="7" fill="#808080"/>
<g stroke="#808080" stroke-width="3" fill="none">
<path d="M1129.2 1911.6 L1160.4 2039.9 L1191.6 2049 L1222.7 2062.6 L1253.9 2045.4 L1285.1 2052.6 L1316.3 2038.1 L1347.5 2040.5 L1378.6 2046.3 L1409.8 2068.7" stroke-linejoin="round"/>
<path d="M1129.2 1896.6V1926.6"/>
<path d="M1160.4 2023.9V2055.9"/>
<path d="M1191.6 2039V2059"/>
<path d="M1222.7 2052.6V2072.6"/>
<path d="M1253.9 2035.4V2055.4"/>
<path d="M1285.1 2040.6V2064.6"/>
<path d="M1316.3 2021.1V2055.1"/>
<path d="M1347.5 2021.5V2059.5"/>
<path d="M1378.6 2036.3V2056.3"/>
<path d="M1409.8 2063.7V2073.7"/>
</g>
<circle cx="1129.2" cy="1911.6" r="6.2" fill="#fff" stroke="#808080" stroke-width="2.5"/>
<circle cx="1160.4" cy="2039.9" r="6.2" fill="#fff" stroke="#808080" stroke-width="2.5"/>
<circle cx="1191.6" cy="2049" r="6.2" fill="#fff" stroke="#808080" stroke-width="2.5"/>
<circle cx="1222.7" cy="2062.6" r="6.2" fill="#fff" stroke="#808080" stroke-width="2.5"/>
<circle cx="1253.9" cy="2045.4" r="6.2" fill="#fff" stroke="#808080" stroke-width="2.5"/>
<circle cx="1285.1" cy="2052.6" r="6.2" fill="#fff" stroke="#808080" stroke-width="2.5"/>
<circle cx="1316.3" cy="2038.1" r="6.2" fill="#fff" stroke="#808080" stroke-width="2.5"/>
<circle cx="1347.5" cy="2040.5" r="6.2" fill="#fff" stroke="#808080" stroke-width="2.5"/>
<circle cx="1378.6" cy="2046.3" r="6.2" fill="#fff" stroke="#808080" stroke-width="2.5"/>
<circle cx="1409.8" cy="2068.7" r="6.2" fill="#fff" stroke="#808080" stroke-width="2.5"/>
<path d="M1108.4 1817.5 V2140.4 H1431.6" fill="none" stroke="#000" stroke-width="2.2"/>
<line x1="1108.4" y1="1817.5" x2="1113.9" y2="1817.5" stroke="#000" stroke-width="2"/>
<text x="1095" y="1830" text-anchor="end">100</text>
<line x1="1108.4" y1="1882.2" x2="1113.9" y2="1882.2" stroke="#000" stroke-width="2"/>
<text x="1095" y="1894.7" text-anchor="end">80</text>
<line x1="1108.4" y1="1946.7" x2="1113.9" y2="1946.7" stroke="#000" stroke-width="2"/>
<text x="1095" y="1959.2" text-anchor="end">60</text>
<line x1="1108.4" y1="2011.2" x2="1113.9" y2="2011.2" stroke="#000" stroke-width="2"/>
<text x="1095" y="2023.7" text-anchor="end">40</text>
<line x1="1108.4" y1="2075.9" x2="1113.9" y2="2075.9" stroke="#000" stroke-width="2"/>
<text x="1095" y="2088.4" text-anchor="end">20</text>
<line x1="1108.4" y1="2140.4" x2="1113.9" y2="2140.4" stroke="#000" stroke-width="2"/>
<text x="1095" y="2152.9" text-anchor="end">0</text>
<line x1="1160.4" y1="2140.4" x2="1160.4" y2="2134.9" stroke="#000" stroke-width="2"/>
<text x="1160.4" y="2184" font-size="36" text-anchor="middle">1</text>
<line x1="1222.8" y1="2140.4" x2="1222.8" y2="2134.9" stroke="#000" stroke-width="2"/>
<text x="1222.8" y="2184" font-size="36" text-anchor="middle">2</text>
<line x1="1285.1" y1="2140.4" x2="1285.1" y2="2134.9" stroke="#000" stroke-width="2"/>
<text x="1285.1" y="2184" font-size="36" text-anchor="middle">3</text>
<line x1="1347.8" y1="2140.4" x2="1347.8" y2="2134.9" stroke="#000" stroke-width="2"/>
<text x="1347.8" y="2184" font-size="36" text-anchor="middle">4</text>
<line x1="1409.8" y1="2140.4" x2="1409.8" y2="2134.9" stroke="#000" stroke-width="2"/>
<text x="1409.8" y="2184" font-size="36" text-anchor="middle">5</text>
<text x="1273.2" y="2226.4" font-size="36.5" text-anchor="middle">Time (h)</text>
<text x="1133.2" y="1906.8" font-size="44" text-anchor="middle">*</text>
<text x="1712.4" y="1760.9" font-size="36.5" text-anchor="middle" fill="#2090D0">REM</text>
<g stroke="#2090D0" stroke-width="3" fill="none">
<path d="M1572.4 2139.8 L1603.6 2128.1 L1634.7 2104.6 L1665.9 2068.8 L1697 2019.5 L1728.2 2029.2 L1759.3 2011.7 L1790.5 2060 L1821.6 1966.5 L1852.8 1983.9" stroke-linejoin="round"/>
<path d="M1572.4 2137.8V2141.8"/>
<path d="M1603.6 2123.1V2133.1"/>
<path d="M1634.7 2090.6V2118.6"/>
<path d="M1665.9 2048.8V2088.8"/>
<path d="M1697 1997.5V2041.5"/>
<path d="M1728.2 2008.2V2050.2"/>
<path d="M1759.3 1993.7V2029.7"/>
<path d="M1790.5 2038V2082"/>
<path d="M1821.6 1946.5V1986.5"/>
<path d="M1852.8 1968.9V1998.9"/>
</g>
<circle cx="1572.4" cy="2139.8" r="7" fill="#2090D0"/>
<circle cx="1603.6" cy="2128.1" r="7" fill="#2090D0"/>
<circle cx="1634.7" cy="2104.6" r="7" fill="#2090D0"/>
<circle cx="1665.9" cy="2068.8" r="7" fill="#2090D0"/>
<circle cx="1697" cy="2019.5" r="7" fill="#2090D0"/>
<circle cx="1728.2" cy="2029.2" r="7" fill="#2090D0"/>
<circle cx="1759.3" cy="2011.7" r="7" fill="#2090D0"/>
<circle cx="1790.5" cy="2060" r="7" fill="#2090D0"/>
<circle cx="1821.6" cy="1966.5" r="7" fill="#2090D0"/>
<circle cx="1852.8" cy="1983.9" r="7" fill="#2090D0"/>
<g stroke="#2090D0" stroke-width="3" fill="none">
<path d="M1572.4 2126.4 L1603.6 1996 L1634.7 1985.6 L1665.9 1992.6 L1697 1992.3 L1728.2 1987.6 L1759.3 1964.5 L1790.5 2003.7 L1821.6 1966.5 L1852.8 1971.5" stroke-linejoin="round"/>
<path d="M1572.4 2122.4V2130.4"/>
<path d="M1603.6 1975V2017"/>
<path d="M1634.7 1962.6V2008.6"/>
<path d="M1665.9 1974.6V2010.6"/>
<path d="M1697 1972.3V2012.3"/>
<path d="M1728.2 1967.6V2007.6"/>
<path d="M1759.3 1938.5V1990.5"/>
<path d="M1790.5 1977.7V2029.7"/>
<path d="M1821.6 1943.5V1989.5"/>
<path d="M1852.8 1949.5V1993.5"/>
</g>
<circle cx="1572.4" cy="2126.4" r="6.2" fill="#fff" stroke="#2090D0" stroke-width="2.5"/>
<circle cx="1603.6" cy="1996" r="6.2" fill="#fff" stroke="#2090D0" stroke-width="2.5"/>
<circle cx="1634.7" cy="1985.6" r="6.2" fill="#fff" stroke="#2090D0" stroke-width="2.5"/>
<circle cx="1665.9" cy="1992.6" r="6.2" fill="#fff" stroke="#2090D0" stroke-width="2.5"/>
<circle cx="1697" cy="1992.3" r="6.2" fill="#fff" stroke="#2090D0" stroke-width="2.5"/>
<circle cx="1728.2" cy="1987.6" r="6.2" fill="#fff" stroke="#2090D0" stroke-width="2.5"/>
<circle cx="1759.3" cy="1964.5" r="6.2" fill="#fff" stroke="#2090D0" stroke-width="2.5"/>
<circle cx="1790.5" cy="2003.7" r="6.2" fill="#fff" stroke="#2090D0" stroke-width="2.5"/>
<circle cx="1821.6" cy="1966.5" r="6.2" fill="#fff" stroke="#2090D0" stroke-width="2.5"/>
<circle cx="1852.8" cy="1971.5" r="6.2" fill="#fff" stroke="#2090D0" stroke-width="2.5"/>
<path d="M1551.6 1817.6 V2139.8 H1874.9" fill="none" stroke="#000" stroke-width="2.2"/>
<line x1="1551.6" y1="1817.6" x2="1557.1" y2="1817.6" stroke="#000" stroke-width="2"/>
<text x="1537" y="1830.1" text-anchor="end">20</text>
<line x1="1551.6" y1="1898.1" x2="1557.1" y2="1898.1" stroke="#000" stroke-width="2"/>
<text x="1537" y="1910.6" text-anchor="end">15</text>
<line x1="1551.6" y1="1978.9" x2="1557.1" y2="1978.9" stroke="#000" stroke-width="2"/>
<text x="1537" y="1991.4" text-anchor="end">10</text>
<line x1="1551.6" y1="2059.4" x2="1557.1" y2="2059.4" stroke="#000" stroke-width="2"/>
<text x="1537" y="2071.9" text-anchor="end">5</text>
<line x1="1551.6" y1="2139.8" x2="1557.1" y2="2139.8" stroke="#000" stroke-width="2"/>
<text x="1537" y="2152.3" text-anchor="end">0</text>
<line x1="1603.3" y1="2139.8" x2="1603.3" y2="2134.3" stroke="#000" stroke-width="2"/>
<text x="1603.3" y="2182.8" font-size="36" text-anchor="middle">1</text>
<line x1="1665.6" y1="2139.8" x2="1665.6" y2="2134.3" stroke="#000" stroke-width="2"/>
<text x="1665.6" y="2182.8" font-size="36" text-anchor="middle">2</text>
<line x1="1728" y1="2139.8" x2="1728" y2="2134.3" stroke="#000" stroke-width="2"/>
<text x="1728" y="2182.8" font-size="36" text-anchor="middle">3</text>
<line x1="1790.7" y1="2139.8" x2="1790.7" y2="2134.3" stroke="#000" stroke-width="2"/>
<text x="1790.7" y="2182.8" font-size="36" text-anchor="middle">4</text>
<line x1="1852.7" y1="2139.8" x2="1852.7" y2="2134.3" stroke="#000" stroke-width="2"/>
<text x="1852.7" y="2182.8" font-size="36" text-anchor="middle">5</text>
<text x="1716.5" y="2226.4" font-size="36.5" text-anchor="middle">Time (h)</text>
<text x="1596.5" y="1990.9" font-size="44" text-anchor="middle">****</text>
<text x="1639.8" y="2049.2" font-size="44" text-anchor="middle">***</text>
<line x1="1598.8" y1="1831" x2="1633.8" y2="1831" stroke="#F7B32B" stroke-width="1.8"/>
<circle cx="1616.3" cy="1831" r="5.6" fill="#fff" stroke="#F7B32B" stroke-width="1.7"/>
<line x1="1642.4" y1="1831" x2="1677.4" y2="1831" stroke="#808080" stroke-width="1.8"/>
<circle cx="1659.9" cy="1831" r="5.6" fill="#fff" stroke="#808080" stroke-width="1.7"/>
<line x1="1687" y1="1831" x2="1722" y2="1831" stroke="#2090D0" stroke-width="1.8"/>
<circle cx="1704.5" cy="1831" r="5.6" fill="#fff" stroke="#2090D0" stroke-width="1.7"/>
<line x1="1598.8" y1="1886.3" x2="1633.8" y2="1886.3" stroke="#F7B32B" stroke-width="1.8"/>
<circle cx="1616.3" cy="1886.3" r="6.2" fill="#F7B32B"/>
<line x1="1642.4" y1="1886.3" x2="1677.4" y2="1886.3" stroke="#808080" stroke-width="1.8"/>
<circle cx="1659.9" cy="1886.3" r="6.2" fill="#808080"/>
<line x1="1687" y1="1886.3" x2="1722" y2="1886.3" stroke="#2090D0" stroke-width="1.8"/>
<circle cx="1704.5" cy="1886.3" r="6.2" fill="#2090D0"/>
<text x="1741.5" y="1842.7" font-size="36">Saline</text>
<text x="1741.5" y="1897.7" font-size="36">CNO (1 mg/kg)</text>
<text x="2.5" y="2314.5" font-size="53" font-weight="bold">h</text>
<path d="M145.6 2665.6 V2438.8 H165.6 V2665.6" fill="#fff" stroke="#FBB116" stroke-width="3.6"/>
<path d="M176.8 2665.6 V2395 H196.4 V2665.6" fill="#FCD98F" stroke="#FBB116" stroke-width="3.6"/>
<rect x="205.2" y="2380.2" width="21.8" height="285.4" fill="#FBB116"/>
<path d="M254.5 2665.6 V2526 H274.2 V2665.6" fill="#fff" stroke="#808285" stroke-width="3.6"/>
<path d="M284.8 2665.6 V2569 H303.9 V2665.6" fill="#BBBDBF" stroke="#808285" stroke-width="3.6"/>
<rect x="313.3" y="2565.7" width="22.1" height="99.9" fill="#808285"/>
<path d="M362.6 2665.6 V2636.2 H382 V2665.6" fill="#fff" stroke="#1D8FD6" stroke-width="3.6"/>
<path d="M392.8 2665.6 V2637.1 H412.2 V2665.6" fill="#8CC7EC" stroke="#1D8FD6" stroke-width="3.6"/>
<rect x="421.3" y="2652" width="22.1" height="13.6" fill="#1D8FD6"/>
<line x1="215.5" y1="2371" x2="215.5" y2="2381" stroke="#FBB116" stroke-width="2"/>
<line x1="324.5" y1="2553" x2="324.5" y2="2566" stroke="#808285" stroke-width="2"/>
<path d="M133.5 2342.6 V2665.6 H457" fill="none" stroke="#000" stroke-width="2.2"/>
<line x1="133.5" y1="2342.6" x2="143.5" y2="2342.6" stroke="#000" stroke-width="2.2"/>
<text x="126" y="2354.8" font-size="35.2" text-anchor="end">80</text>
<line x1="133.5" y1="2423.7" x2="143.5" y2="2423.7" stroke="#000" stroke-width="2.2"/>
<text x="126" y="2435.9" font-size="35.2" text-anchor="end">60</text>
<line x1="133.5" y1="2504.6" x2="143.5" y2="2504.6" stroke="#000" stroke-width="2.2"/>
<text x="126" y="2516.8" font-size="35.2" text-anchor="end">40</text>
<line x1="133.5" y1="2585.4" x2="143.5" y2="2585.4" stroke="#000" stroke-width="2.2"/>
<text x="126" y="2597.6" font-size="35.2" text-anchor="end">20</text>
<line x1="133.5" y1="2665.6" x2="143.5" y2="2665.6" stroke="#000" stroke-width="2.2"/>
<text x="126" y="2677.8" font-size="35.2" text-anchor="end">0</text>
<g fill="none" stroke="#9FA1A4" stroke-width="1.8"><path d="M155.9 2417.4 L186.1 2385.6 L215.5 2349.3"/><path d="M155.9 2428 L186.1 2375.9 L215.5 2365"/><path d="M155.9 2435.5 L186.1 2396.2 L215.5 2399.8"/><path d="M155.9 2440.7 L186.1 2399.8 L215.5 2389.5"/><path d="M155.9 2458.8 L186.1 2402.2 L215.5 2405.3"/></g><g fill="none" stroke="#9FA1A4" stroke-width="2"><circle cx="155.9" cy="2417.4" r="4.5"/><circle cx="155.9" cy="2428" r="4.5"/><circle cx="155.9" cy="2435.5" r="4.5"/><circle cx="155.9" cy="2440.7" r="4.5"/><circle cx="155.9" cy="2458.8" r="4.5"/><circle cx="186.1" cy="2375.9" r="4.5"/><circle cx="186.1" cy="2385.6" r="4.5"/><circle cx="186.1" cy="2396.2" r="4.5"/><circle cx="186.1" cy="2399.8" r="4.5"/><circle cx="186.1" cy="2402.2" r="4.5"/><circle cx="215.5" cy="2349.3" r="4.5"/><circle cx="215.5" cy="2365" r="4.5"/><circle cx="215.5" cy="2389.5" r="4.5"/><circle cx="215.5" cy="2399.8" r="4.5"/><circle cx="215.5" cy="2405.3" r="4.5"/></g>
<g fill="none" stroke="#9FA1A4" stroke-width="1.8"><path d="M264.8 2487.6 L294.2 2564.2 L324.5 2577.8"/><path d="M264.8 2518.8 L294.2 2556 L324.5 2580.8"/><path d="M264.8 2526.3 L294.2 2570.2 L324.5 2537.8"/><path d="M264.8 2532.4 L294.2 2576.3 L324.5 2547.5"/><path d="M264.8 2553.6 L294.2 2581.7 L324.5 2599"/></g><g fill="none" stroke="#9FA1A4" stroke-width="2"><circle cx="264.8" cy="2487.6" r="4.5"/><circle cx="264.8" cy="2518.8" r="4.5"/><circle cx="264.8" cy="2526.3" r="4.5"/><circle cx="264.8" cy="2532.4" r="4.5"/><circle cx="264.8" cy="2553.6" r="4.5"/><circle cx="294.2" cy="2556" r="4.5"/><circle cx="294.2" cy="2564.2" r="4.5"/><circle cx="294.2" cy="2570.2" r="4.5"/><circle cx="294.2" cy="2576.3" r="4.5"/><circle cx="294.2" cy="2581.7" r="4.5"/><circle cx="324.5" cy="2537.8" r="4.5"/><circle cx="324.5" cy="2547.5" r="4.5"/><circle cx="324.5" cy="2577.8" r="4.5"/><circle cx="324.5" cy="2580.8" r="4.5"/><circle cx="324.5" cy="2599" r="4.5"/></g>
<g fill="none" stroke="#9FA1A4" stroke-width="1.8"><path d="M372.9 2623.2 L402.5 2633.8 L432.8 2645.9"/><path d="M372.9 2626.8 L402.5 2622.3 L432.8 2652"/><path d="M372.9 2635.3 L402.5 2638.3 L432.8 2648.9"/><path d="M372.9 2638.3 L402.5 2641.4 L432.8 2655"/><path d="M372.9 2649.5 L402.5 2643.8 L432.8 2658"/></g><g fill="none" stroke="#9FA1A4" stroke-width="2"><circle cx="372.9" cy="2623.2" r="4.5"/><circle cx="372.9" cy="2626.8" r="4.5"/><circle cx="372.9" cy="2635.3" r="4.5"/><circle cx="372.9" cy="2638.3" r="4.5"/><circle cx="372.9" cy="2649.5" r="4.5"/><circle cx="402.5" cy="2622.3" r="4.5"/><circle cx="402.5" cy="2633.8" r="4.5"/><circle cx="402.5" cy="2638.3" r="4.5"/><circle cx="402.5" cy="2641.4" r="4.5"/><circle cx="402.5" cy="2643.8" r="4.5"/><circle cx="432.8" cy="2645.9" r="4.5"/><circle cx="432.8" cy="2648.9" r="4.5"/><circle cx="432.8" cy="2652" r="4.5"/><circle cx="432.8" cy="2655" r="4.5"/><circle cx="432.8" cy="2658" r="4.5"/></g>
<line x1="155.3" y1="2316.9" x2="214.3" y2="2316.9" stroke="#000" stroke-width="2"/>
<text x="185.2" y="2328.2" font-size="44" text-anchor="middle">***</text>
<line x1="155.3" y1="2351.7" x2="185.2" y2="2351.7" stroke="#000" stroke-width="2"/>
<text x="170.4" y="2364.5" font-size="44" text-anchor="middle">**</text>
<line x1="268.5" y1="2409.5" x2="327.5" y2="2409.5" stroke="#000" stroke-width="2"/>
<text x="297.5" y="2421.1" font-size="44" text-anchor="middle">**</text>
<line x1="268.5" y1="2443.7" x2="298.1" y2="2443.7" stroke="#000" stroke-width="2"/>
<text x="283.6" y="2458" font-size="44" text-anchor="middle">**</text>
<line x1="372.9" y1="2558.1" x2="432.2" y2="2558.1" stroke="#000" stroke-width="2"/>
<text x="401" y="2568.8" font-size="44" text-anchor="middle">*</text>
<line x1="404.7" y1="2605" x2="434.3" y2="2605" stroke="#000" stroke-width="2"/>
<text x="421" y="2617.8" font-size="44" text-anchor="middle">*</text>
<text x="185.8" y="2709.5" font-size="37" text-anchor="middle">NREM</text>
<text x="293.6" y="2709.5" font-size="37" text-anchor="middle">Wake</text>
<text x="401.8" y="2709.5" font-size="37" text-anchor="middle">REM</text>
<text transform="translate(56,2507.4) rotate(-90)" font-size="37.3" text-anchor="middle">Total time (%, 0 - 3 h)</text>
<text x="536.5" y="2310" font-size="53" font-weight="bold">i</text>
<path d="M698.8 2664.4 V2503 H719.2 V2664.4" fill="#fff" stroke="#FBB116" stroke-width="3.6"/>
<path d="M729.1 2664.4 V2486.4 H749.4 V2664.4" fill="#FCD98F" stroke="#FBB116" stroke-width="3.6"/>
<rect x="758.2" y="2504.2" width="22.1" height="160.2" fill="#FBB116"/>
<path d="M807.5 2664.4 V2566 H826.9 V2664.4" fill="#fff" stroke="#808285" stroke-width="3.6"/>
<path d="M837.8 2664.4 V2600.8 H856.9 V2664.4" fill="#BBBDBF" stroke="#808285" stroke-width="3.6"/>
<rect x="866.5" y="2611.7" width="21.8" height="52.7" fill="#808285"/>
<path d="M915.8 2664.4 V2590.2 H935.6 V2664.4" fill="#fff" stroke="#1D8FD6" stroke-width="3.6"/>
<path d="M945.5 2664.4 V2583.5 H965.2 V2664.4" fill="#8CC7EC" stroke="#1D8FD6" stroke-width="3.6"/>
<rect x="974.6" y="2606.5" width="22.1" height="57.9" fill="#1D8FD6"/>
<line x1="768.8" y1="2482.5" x2="768.8" y2="2505" stroke="#FBB116" stroke-width="2"/>
<line x1="817.5" y1="2555" x2="817.5" y2="2566" stroke="#808285" stroke-width="2"/>
<path d="M686.5 2341.7 V2664.4 H1010.4" fill="none" stroke="#000" stroke-width="2.2"/>
<line x1="686.5" y1="2341.7" x2="696.5" y2="2341.7" stroke="#000" stroke-width="2.2"/>
<text x="679.5" y="2353.9" font-size="35.2" text-anchor="end">300</text>
<line x1="686.5" y1="2449.5" x2="696.5" y2="2449.5" stroke="#000" stroke-width="2.2"/>
<text x="679.5" y="2461.7" font-size="35.2" text-anchor="end">200</text>
<line x1="686.5" y1="2557.2" x2="696.5" y2="2557.2" stroke="#000" stroke-width="2.2"/>
<text x="679.5" y="2569.4" font-size="35.2" text-anchor="end">100</text>
<line x1="686.5" y1="2664.4" x2="696.5" y2="2664.4" stroke="#000" stroke-width="2.2"/>
<text x="679.5" y="2676.6" font-size="35.2" text-anchor="end">0</text>
<g fill="none" stroke="#9FA1A4" stroke-width="1.8"><path d="M708.9 2458.8 L739.1 2475.5 L768.8 2524.8"/><path d="M708.9 2493 L739.1 2441.6 L768.8 2532.4"/><path d="M708.9 2497.6 L739.1 2490 L768.8 2426.5"/><path d="M708.9 2505.2 L739.1 2494.6 L768.8 2459.8"/><path d="M708.9 2517.3 L739.1 2500.6 L768.8 2537"/><path d="M708.9 2533.9 L739.1 2505.2 L768.8 2540"/></g><g fill="none" stroke="#9FA1A4" stroke-width="2"><circle cx="708.9" cy="2458.8" r="4.5"/><circle cx="708.9" cy="2493" r="4.5"/><circle cx="708.9" cy="2497.6" r="4.5"/><circle cx="708.9" cy="2505.2" r="4.5"/><circle cx="708.9" cy="2517.3" r="4.5"/><circle cx="708.9" cy="2533.9" r="4.5"/><circle cx="739.1" cy="2441.6" r="4.5"/><circle cx="739.1" cy="2475.5" r="4.5"/><circle cx="739.1" cy="2490" r="4.5"/><circle cx="739.1" cy="2494.6" r="4.5"/><circle cx="739.1" cy="2500.6" r="4.5"/><circle cx="739.1" cy="2505.2" r="4.5"/><circle cx="768.8" cy="2426.5" r="4.5"/><circle cx="768.8" cy="2459.8" r="4.5"/><circle cx="768.8" cy="2524.8" r="4.5"/><circle cx="768.8" cy="2532.4" r="4.5"/><circle cx="768.8" cy="2537" r="4.5"/><circle cx="768.8" cy="2540" r="4.5"/></g>
<g fill="none" stroke="#9FA1A4" stroke-width="1.8"><path d="M817.5 2523.3 L846.9 2600.5 L877.1 2608"/><path d="M817.5 2550 L846.9 2586.3 L877.1 2594.4"/><path d="M817.5 2567.2 L846.9 2603.5 L877.1 2612.6"/><path d="M817.5 2568.7 L846.9 2608 L877.1 2620.2"/><path d="M817.5 2586.9 L846.9 2610.5 L877.1 2626.2"/></g><g fill="none" stroke="#9FA1A4" stroke-width="2"><circle cx="817.5" cy="2523.3" r="4.5"/><circle cx="817.5" cy="2550" r="4.5"/><circle cx="817.5" cy="2567.2" r="4.5"/><circle cx="817.5" cy="2568.7" r="4.5"/><circle cx="817.5" cy="2586.9" r="4.5"/><circle cx="846.9" cy="2586.3" r="4.5"/><circle cx="846.9" cy="2600.5" r="4.5"/><circle cx="846.9" cy="2603.5" r="4.5"/><circle cx="846.9" cy="2608" r="4.5"/><circle cx="846.9" cy="2610.5" r="4.5"/><circle cx="877.1" cy="2594.4" r="4.5"/><circle cx="877.1" cy="2608" r="4.5"/><circle cx="877.1" cy="2612.6" r="4.5"/><circle cx="877.1" cy="2620.2" r="4.5"/><circle cx="877.1" cy="2626.2" r="4.5"/></g>
<g fill="none" stroke="#9FA1A4" stroke-width="1.8"><path d="M926.2 2561.1 L955.5 2555.7 L985.8 2586.9"/><path d="M926.2 2589.9 L955.5 2579.3 L985.8 2598.1"/><path d="M926.2 2592.9 L955.5 2585.4 L985.8 2602"/><path d="M926.2 2596 L955.5 2592.9 L985.8 2636.2"/><path d="M926.2 2600.5 L955.5 2596 L985.8 2608"/></g><g fill="none" stroke="#9FA1A4" stroke-width="2"><circle cx="926.2" cy="2561.1" r="4.5"/><circle cx="926.2" cy="2589.9" r="4.5"/><circle cx="926.2" cy="2592.9" r="4.5"/><circle cx="926.2" cy="2596" r="4.5"/><circle cx="926.2" cy="2600.5" r="4.5"/><circle cx="955.5" cy="2555.7" r="4.5"/><circle cx="955.5" cy="2579.3" r="4.5"/><circle cx="955.5" cy="2585.4" r="4.5"/><circle cx="955.5" cy="2592.9" r="4.5"/><circle cx="955.5" cy="2596" r="4.5"/><circle cx="985.8" cy="2586.9" r="4.5"/><circle cx="985.8" cy="2598.1" r="4.5"/><circle cx="985.8" cy="2602" r="4.5"/><circle cx="985.8" cy="2608" r="4.5"/><circle cx="985.8" cy="2636.2" r="4.5"/></g>
<line x1="817.2" y1="2463.4" x2="876.2" y2="2463.4" stroke="#000" stroke-width="2"/>
<text x="846" y="2474.7" font-size="44" text-anchor="middle">**</text>
<line x1="817.2" y1="2498.2" x2="846.9" y2="2498.2" stroke="#000" stroke-width="2"/>
<text x="835.4" y="2511.9" font-size="44" text-anchor="middle">*</text>
<line x1="849.9" y1="2566.6" x2="879.9" y2="2566.6" stroke="#000" stroke-width="2"/>
<text x="863.2" y="2575.4" font-size="44" text-anchor="middle">*</text>
<text x="738.5" y="2708.5" font-size="37" text-anchor="middle">NREM</text>
<text x="846.7" y="2708.5" font-size="37" text-anchor="middle">Wake</text>
<text x="954.9" y="2708.5" font-size="37" text-anchor="middle">REM</text>
<text transform="translate(565.4,2501.4) rotate(-90)" font-size="36.8" text-anchor="middle">Episode duration (s)</text>
<text transform="translate(608.4,2502) rotate(-90)" font-size="36.8" text-anchor="middle">(0 - 3 h)</text>
<text x="1088" y="2303.3" font-size="53" font-weight="bold">j</text>
<path d="M1229.8 2664.4 V2483.7 H1249.8 V2664.4" fill="#fff" stroke="#FBB116" stroke-width="3.6"/>
<path d="M1260 2664.4 V2474.3 H1279.7 V2664.4" fill="#FCD98F" stroke="#FBB116" stroke-width="3.6"/>
<rect x="1289.1" y="2430.1" width="22.1" height="234.3" fill="#FBB116"/>
<path d="M1338.1 2664.4 V2483.3 H1357.8 V2664.4" fill="#fff" stroke="#808285" stroke-width="3.6"/>
<path d="M1368.4 2664.4 V2476.1 H1388.1 V2664.4" fill="#BBBDBF" stroke="#808285" stroke-width="3.6"/>
<rect x="1397.5" y="2431" width="21.8" height="233.4" fill="#808285"/>
<path d="M1446.8 2664.4 V2614.4 H1466.2 V2664.4" fill="#fff" stroke="#1D8FD6" stroke-width="3.6"/>
<path d="M1476.4 2664.4 V2618.9 H1496.2 V2664.4" fill="#8CC7EC" stroke="#1D8FD6" stroke-width="3.6"/>
<rect x="1505.5" y="2636.8" width="22.1" height="27.6" fill="#1D8FD6"/>
<line x1="1300" y1="2407" x2="1300" y2="2431" stroke="#FBB116" stroke-width="2"/>
<line x1="1408.1" y1="2408" x2="1408.1" y2="2432" stroke="#808285" stroke-width="2"/>
<path d="M1216.8 2340.2 V2664.4 H1541.2" fill="none" stroke="#000" stroke-width="2.2"/>
<line x1="1216.8" y1="2406.5" x2="1226.8" y2="2406.5" stroke="#000" stroke-width="2.2"/>
<text x="1209.5" y="2418.7" font-size="35.2" text-anchor="end">20</text>
<line x1="1216.8" y1="2535.7" x2="1226.8" y2="2535.7" stroke="#000" stroke-width="2.2"/>
<text x="1209.5" y="2547.9" font-size="35.2" text-anchor="end">10</text>
<line x1="1216.8" y1="2664.4" x2="1226.8" y2="2664.4" stroke="#000" stroke-width="2.2"/>
<text x="1209.5" y="2676.6" font-size="35.2" text-anchor="end">0</text>
<g fill="none" stroke="#9FA1A4" stroke-width="1.8"><path d="M1240.4 2447.7 L1269.7 2471.9 L1300 2471.3"/><path d="M1240.4 2462.2 L1269.7 2468.2 L1300 2495.5"/><path d="M1240.4 2473.4 L1269.7 2462.2 L1300 2432.5"/><path d="M1240.4 2482.5 L1269.7 2456.7 L1300 2378"/><path d="M1240.4 2501.2 L1269.7 2499.1 L1300 2392.3"/><path d="M1240.4 2521.2 L1269.7 2475.5 L1300 2402.3"/></g><g fill="none" stroke="#9FA1A4" stroke-width="2"><circle cx="1240.4" cy="2447.7" r="4.5"/><circle cx="1240.4" cy="2462.2" r="4.5"/><circle cx="1240.4" cy="2473.4" r="4.5"/><circle cx="1240.4" cy="2482.5" r="4.5"/><circle cx="1240.4" cy="2501.2" r="4.5"/><circle cx="1240.4" cy="2521.2" r="4.5"/><circle cx="1269.7" cy="2456.7" r="4.5"/><circle cx="1269.7" cy="2462.2" r="4.5"/><circle cx="1269.7" cy="2468.2" r="4.5"/><circle cx="1269.7" cy="2471.9" r="4.5"/><circle cx="1269.7" cy="2475.5" r="4.5"/><circle cx="1269.7" cy="2499.1" r="4.5"/><circle cx="1300" cy="2378" r="4.5"/><circle cx="1300" cy="2392.3" r="4.5"/><circle cx="1300" cy="2402.3" r="4.5"/><circle cx="1300" cy="2432.5" r="4.5"/><circle cx="1300" cy="2471.3" r="4.5"/><circle cx="1300" cy="2495.5" r="4.5"/></g>
<g fill="none" stroke="#9FA1A4" stroke-width="1.8"><path d="M1348.1 2448.7 L1377.8 2473.9 L1408.1 2472.8"/><path d="M1348.1 2463.2 L1377.8 2470.2 L1408.1 2497"/><path d="M1348.1 2474.4 L1377.8 2464.2 L1408.1 2434"/><path d="M1348.1 2483.5 L1377.8 2458.7 L1408.1 2379.5"/><path d="M1348.1 2502.2 L1377.8 2501.1 L1408.1 2393.8"/><path d="M1348.1 2522.2 L1377.8 2477.5 L1408.1 2403.8"/></g><g fill="none" stroke="#9FA1A4" stroke-width="2"><circle cx="1348.1" cy="2448.7" r="4.5"/><circle cx="1348.1" cy="2463.2" r="4.5"/><circle cx="1348.1" cy="2474.4" r="4.5"/><circle cx="1348.1" cy="2483.5" r="4.5"/><circle cx="1348.1" cy="2502.2" r="4.5"/><circle cx="1348.1" cy="2522.2" r="4.5"/><circle cx="1377.8" cy="2458.7" r="4.5"/><circle cx="1377.8" cy="2464.2" r="4.5"/><circle cx="1377.8" cy="2470.2" r="4.5"/><circle cx="1377.8" cy="2473.9" r="4.5"/><circle cx="1377.8" cy="2477.5" r="4.5"/><circle cx="1377.8" cy="2501.1" r="4.5"/><circle cx="1408.1" cy="2379.5" r="4.5"/><circle cx="1408.1" cy="2393.8" r="4.5"/><circle cx="1408.1" cy="2403.8" r="4.5"/><circle cx="1408.1" cy="2434" r="4.5"/><circle cx="1408.1" cy="2472.8" r="4.5"/><circle cx="1408.1" cy="2497" r="4.5"/></g>
<g fill="none" stroke="#9FA1A4" stroke-width="1.8"><path d="M1456.5 2594.4 L1485.8 2599 L1516.4 2630.8"/><path d="M1456.5 2604.4 L1485.8 2614.7 L1516.4 2634.7"/><path d="M1456.5 2611.7 L1485.8 2618.7 L1516.4 2638.3"/><path d="M1456.5 2615.6 L1485.8 2623.2 L1516.4 2642"/><path d="M1456.5 2637.4 L1485.8 2627.7 L1516.4 2645"/></g><g fill="none" stroke="#9FA1A4" stroke-width="2"><circle cx="1456.5" cy="2594.4" r="4.5"/><circle cx="1456.5" cy="2604.4" r="4.5"/><circle cx="1456.5" cy="2611.7" r="4.5"/><circle cx="1456.5" cy="2615.6" r="4.5"/><circle cx="1456.5" cy="2637.4" r="4.5"/><circle cx="1485.8" cy="2599" r="4.5"/><circle cx="1485.8" cy="2614.7" r="4.5"/><circle cx="1485.8" cy="2618.7" r="4.5"/><circle cx="1485.8" cy="2623.2" r="4.5"/><circle cx="1485.8" cy="2627.7" r="4.5"/><circle cx="1516.4" cy="2630.8" r="4.5"/><circle cx="1516.4" cy="2634.7" r="4.5"/><circle cx="1516.4" cy="2638.3" r="4.5"/><circle cx="1516.4" cy="2642" r="4.5"/><circle cx="1516.4" cy="2645" r="4.5"/></g>
<line x1="1456.5" y1="2543.6" x2="1515.5" y2="2543.6" stroke="#000" stroke-width="2"/>
<text x="1484.3" y="2553.7" font-size="44" text-anchor="middle">*</text>
<line x1="1489.8" y1="2586" x2="1519.5" y2="2586" stroke="#000" stroke-width="2"/>
<text x="1506.4" y="2596.7" font-size="44" text-anchor="middle">*</text>
<text x="1269.1" y="2708.5" font-size="37" text-anchor="middle">NREM</text>
<text x="1378.1" y="2708.5" font-size="37" text-anchor="middle">Wake</text>
<text x="1486.3" y="2708.5" font-size="37" text-anchor="middle">REM</text>
<text transform="translate(1116.6,2508.9) rotate(-90)" font-size="37.2" text-anchor="middle">Episode number (/h)</text>
<text transform="translate(1159.9,2509) rotate(-90)" font-size="37.2" text-anchor="middle">(0 - 3 h)</text>
<rect x="1612.7" y="2446.8" width="26.8" height="10.7" fill="#fff" stroke="#FBB116" stroke-width="2.2"/>
<rect x="1612.7" y="2490.3" width="26.8" height="10.3" fill="#FCD98F" stroke="#FBB116" stroke-width="2.2"/>
<rect x="1611.6" y="2532.2" width="29" height="12.4" fill="#FBB116"/>
<rect x="1647.6" y="2446.8" width="26.8" height="10.7" fill="#fff" stroke="#808285" stroke-width="2.2"/>
<rect x="1647.6" y="2490.3" width="26.8" height="10.3" fill="#BBBDBF" stroke="#808285" stroke-width="2.2"/>
<rect x="1646.5" y="2532.2" width="29" height="12.4" fill="#808285"/>
<rect x="1680.7" y="2446.8" width="26.8" height="10.7" fill="#fff" stroke="#1D8FD6" stroke-width="2.2"/>
<rect x="1680.7" y="2490.3" width="26.8" height="10.3" fill="#8CC7EC" stroke="#1D8FD6" stroke-width="2.2"/>
<rect x="1679.6" y="2532.2" width="29" height="12.4" fill="#1D8FD6"/>
<text x="1725" y="2459.2" font-size="34.2">Saline</text>
<text x="1725" y="2502.9" font-size="34.2">CNO (0.2 mg/kg)</text>
<text x="1725" y="2545.8" font-size="34.2">CNO (1 mg/kg)</text>
</svg>
</body></html>
